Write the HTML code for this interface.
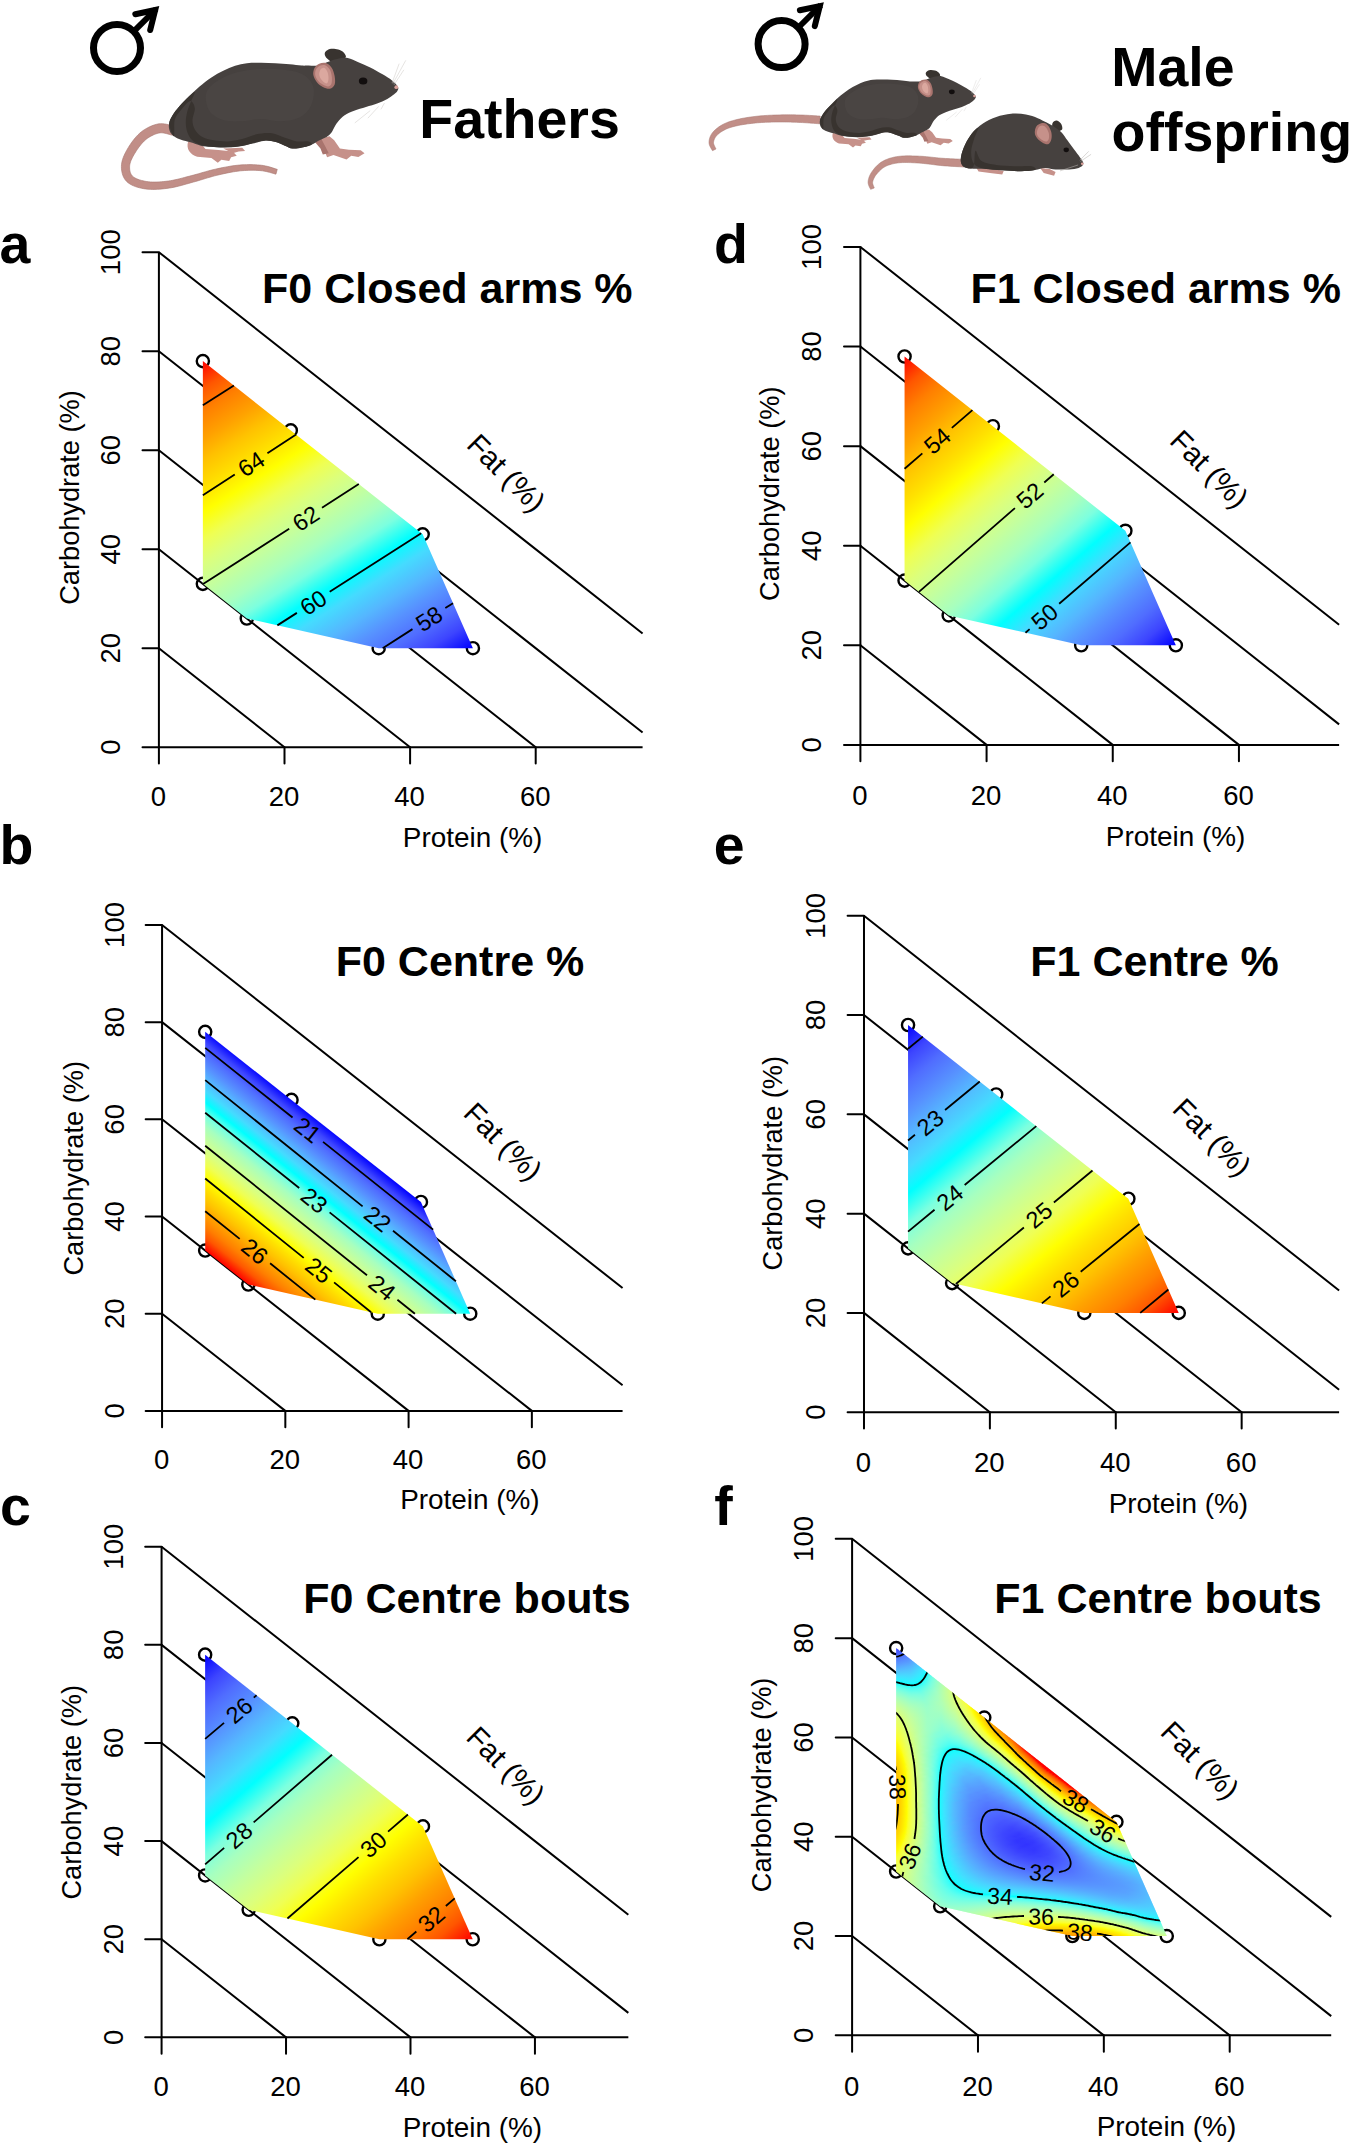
<!DOCTYPE html>
<html><head><meta charset="utf-8"><title>Figure</title>
<style>html,body{margin:0;padding:0;background:#fff;overflow:hidden}svg{display:block}</style></head><body>
<svg width="1350" height="2145" viewBox="0 0 1350 2145">
<rect width="1350" height="2145" fill="#fff"/>
<!-- header -->
<g transform="translate(117 48)" fill="none" stroke="#000"><circle r="23.5" stroke-width="7"/><path stroke-width="6" d="M17.8-17.6L39.2-39"/><path stroke-width="6" stroke-linecap="round" stroke-linejoin="miter" d="M18.3-33.8L38.2-38L33.2-18"/></g>
<g transform="translate(781.6 44.1)" fill="none" stroke="#000"><circle r="23.5" stroke-width="7"/><path stroke-width="6" d="M17.8-17.6L39.2-39"/><path stroke-width="6" stroke-linecap="round" stroke-linejoin="miter" d="M18.3-33.8L38.2-38L33.2-18"/></g>
<g transform="translate(100 30) scale(0.23704)">
<path fill="#c18e87" stroke="#a97872" stroke-width="2.7" stroke-linejoin="round" d="M314.2 405.9L311.1 405.3L307.1 404.3L301.8 402.8L295.6 401.1L288.6 399.3L281 397.7L273 396.3L264.6 395.4L255.9 395.2L247.3 396L239.4 397.6L231.7 399.7L224.1 402.2L216.5 405.1L208.9 408.5L201.5 412.2L194.2 416.3L187 420.6L180.1 425.3L173.5 430.4L167 435.8L160.7 441.8L154.7 448L148.9 454.6L143.4 461.3L138.1 468.1L133 475.1L128.3 482L123.8 488.8L119.7 495.5L115.7 502.2L111.8 509L108.1 516L104.5 523.2L101.1 530.4L98.1 537.9L95.5 545.4L93.3 553L91.7 560.8L90.7 568.4L90.4 575.9L90.5 583.2L91.2 590.7L92.3 598.2L94 605.7L96.3 613L99.4 620.3L103.2 627.2L107.9 633.8L113.4 639.9L119.6 645.2L126.5 649.8L133.8 653.9L141.5 657.4L149.5 660.6L157.9 663.3L166.4 665.6L175.1 667.6L183.9 669.3L192.8 670.7L202 671.7L211.5 672.3L221.2 672.6L231.2 672.5L241.3 672.1L251.4 671.5L261.7 670.6L271.9 669.5L282 668.3L292.1 666.9L302.3 665.2L312.6 663.2L322.9 660.9L333.1 658.4L343.3 655.7L353.5 652.9L363.6 650.1L373.7 647.2L383.7 644.4L393.7 641.7L403.7 638.9L413.9 636L423.9 632.9L433.9 629.9L443.9 626.8L453.8 623.8L463.7 620.9L473.5 618L483.3 615.4L493 613L502.9 610.6L513 608.3L523 606.1L533 603.9L543 601.9L552.9 600L562.7 598.3L572.4 596.8L581.9 595.4L591.2 594.3L600.4 593.5L609.7 592.8L618.9 592.3L628.1 592L637.2 591.8L646 591.8L654.7 592L663.1 592.3L671.1 592.8L678.7 593.4L686.1 594.3L693.4 595.5L700.8 597L708.1 598.7L715.1 600.6L721.8 602.4L727.9 604.2L733.4 605.8L738.3 607.2L742.2 608.1L747.8 587.9L744.2 586.8L739.7 585.3L734.2 583.6L728 581.6L721.1 579.4L713.7 577.3L705.9 575.2L697.8 573.4L689.6 571.8L681.3 570.6L673 569.8L664.5 569.1L655.6 568.5L646.5 568.1L637.2 567.9L627.7 567.9L618.1 568.1L608.4 568.4L598.6 568.9L588.8 569.7L578.9 570.6L568.9 571.8L558.8 573.2L548.5 574.8L538.3 576.6L527.9 578.5L517.6 580.5L507.4 582.6L497.1 584.8L487 587L476.7 589.4L466.5 592L456.3 594.7L446.2 597.6L436.1 600.4L426.1 603.3L416.1 606.2L406.1 609L396.3 611.7L386.3 614.3L376.3 616.9L366.1 619.5L356 622.2L346 624.9L336 627.4L326.1 629.8L316.4 632L306.7 634L297.3 635.7L287.9 637.1L278.3 638.3L268.7 639.3L259 640.2L249.4 640.8L240 641.3L230.7 641.4L221.8 641.4L213.2 641L205 640.3L197.2 639.3L189.6 638L182 636.4L174.6 634.5L167.4 632.4L160.7 630.1L154.5 627.5L148.8 624.8L143.9 621.9L139.8 619L136.6 616.1L134.1 613.2L131.8 609.8L129.9 605.9L128.2 601.7L126.9 597.1L125.9 592.2L125.2 587.1L124.9 581.8L124.9 576.6L125.3 571.6L126 566.8L127.1 561.7L128.8 556.3L130.9 550.7L133.5 544.8L136.4 538.8L139.6 532.7L143 526.6L146.6 520.5L150.3 514.5L154.2 508.5L158.3 502.4L162.6 496.3L167.2 490.3L171.9 484.3L176.7 478.6L181.6 473.2L186.6 468.2L191.6 463.7L196.5 459.6L201.7 455.9L207.2 452.2L212.9 448.8L218.8 445.6L224.8 442.8L230.8 440.2L236.7 438L242.4 436.2L247.9 434.9L252.7 434L257.1 433.6L262 433.8L267.5 434.5L273.5 435.5L279.5 436.9L285.5 438.5L291.3 440.2L296.7 441.7L301.8 443.1L305.8 444.1Z"/>
<path fill="#c6918a" d="M372 470C362 500 380 525 410 535L470 540L497 560L512 547L545 553L553 537L577 531L560 513L500 506L445 502L425 478Z"/>
<path fill="#c6918a" d="M520 500L600 497L612 510L585 513L560 520Z"/>
<path fill="#c6918a" d="M915 462L945 505L958 537L985 527L1040 546L1060 531L1090 536L1116 520L1100 507L1050 505L1012 500L988 465L968 448Z"/>
<path fill="#a9746e" d="M905 470L930 500L940 525L965 520L950 490L935 462Z"/>
<path fill="#38332f" d="M1035 118C1042.2 111.3 1033 101 1028 95C1023 89 1013.8 84.7 1005 82C996.2 79.3 983.3 78 975 79C966.7 80 959.5 84.2 955 88C950.5 91.8 947.5 96.7 948 102C948.5 107.3 951.8 114.5 958 120C964.2 125.5 972.2 135.3 985 135C997.8 134.7 1027.8 124.7 1035 118Z"/>
<path fill="#46413f" d="M1257 240C1253.2 232.8 1243.2 222 1232 213C1220.8 204 1205.3 195.2 1190 186C1174.7 176.8 1156.7 166.3 1140 158C1123.3 149.7 1105.8 142.7 1090 136C1074.2 129.3 1060 120.3 1045 118C1030 115.7 1014.2 119.2 1000 122C985.8 124.8 973.3 130.3 960 135C946.7 139.7 933.3 147.5 920 150C906.7 152.5 891.7 150 880 150C868.3 150 863.3 150.8 850 150C836.7 149.2 818.3 146.7 800 145C781.7 143.3 760 141.2 740 140C720 138.8 700 138 680 138C660 138 638.3 137.8 620 140C601.7 142.2 586.7 145.7 570 151C553.3 156.3 536.7 163.8 520 172C503.3 180.2 486.7 189 470 200C453.3 211 435.8 224.7 420 238C404.2 251.3 389.2 266 375 280C360.8 294 346.7 308.3 335 322C323.3 335.7 312.3 349.3 305 362C297.7 374.7 292.7 387 291 398C289.3 409 291.5 419.7 295 428C298.5 436.3 304.2 442.2 312 448C319.8 453.8 330.3 458.7 342 463C353.7 467.3 368.2 469.8 382 474C395.8 478.2 410.3 484.8 425 488C439.7 491.2 453.3 491.7 470 493C486.7 494.3 505.8 496.2 525 496C544.2 495.8 565 494.8 585 492C605 489.2 625.8 483.3 645 479C664.2 474.7 683.8 467 700 466C716.2 465 728.7 469.3 742 473C755.3 476.7 768.3 483.5 780 488C791.7 492.5 800 498.7 812 500C824 501.3 838.7 498.7 852 496C865.3 493.3 879.7 489.2 892 484C904.3 478.8 915.3 470.5 926 465C936.7 459.5 948 455.8 956 451C964 446.2 968.8 442.3 974 436C979.2 429.7 982.2 421 987 413C991.8 405 995.5 396.8 1003 388C1010.5 379.2 1020.5 367.8 1032 360C1043.5 352.2 1057 346.8 1072 341C1087 335.2 1105.3 330.3 1122 325C1138.7 319.7 1157 314.7 1172 309C1187 303.3 1200.5 297.3 1212 291C1223.5 284.7 1233.8 276.8 1241 271C1248.2 265.2 1252.3 261.2 1255 256C1257.7 250.8 1260.8 247.2 1257 240Z"/>
<path fill="#38332f" d="M292 398C290.8 383.7 297.8 374.7 305 362C312.2 349.3 323.3 335.3 335 322C346.7 308.7 364.2 292 375 282C385.8 272 398.3 259 400 262C401.7 265 390.3 286.2 385 300C379.7 313.8 371.8 329.2 368 345C364.2 360.8 361.3 379.2 362 395C362.7 410.8 366.5 427.5 372 440C377.5 452.5 383.7 462 395 470C406.3 478 419.2 483.8 440 488C460.8 492.2 493.3 495 520 495C546.7 495 576.7 491.7 600 488C623.3 484.3 643.3 476.7 660 473C676.7 469.3 686.3 466 700 466C713.7 466 728.7 469.3 742 473C755.3 476.7 768.3 483.5 780 488C791.7 492.5 800 498.7 812 500C824 501.3 838.7 498.7 852 496C865.3 493.3 887.3 488.3 892 484C896.7 479.7 890.3 472.3 880 470C869.7 467.7 846.7 472.5 830 470C813.3 467.5 798.3 460.8 780 455C761.7 449.2 740 437.5 720 435C700 432.5 680 435.8 660 440C640 444.2 620 455 600 460C580 465 560 469.2 540 470C520 470.8 498.3 468.3 480 465C461.7 461.7 443.3 457.5 430 450C416.7 442.5 406.7 431.7 400 420C393.3 408.3 390 395 390 380C390 365 401.7 343.3 400 330C398.3 316.7 390 298.3 380 300C370 301.7 350.8 326.7 340 340C329.2 353.3 319.7 362 315 380C310.3 398 315.8 445 312 448C308.2 451 293.2 412.3 292 398Z"/>
<path fill="#4d4846" opacity=".6" d="M450 260C460 236.7 491.7 215 520 200C548.3 185 583.3 175.8 620 170C656.7 164.2 701.7 162.5 740 165C778.3 167.5 823.3 172.5 850 185C876.7 197.5 893.3 217.5 900 240C906.7 262.5 900 298.3 890 320C880 341.7 861.7 359.2 840 370C818.3 380.8 786.7 384.2 760 385C733.3 385.8 706.7 375 680 375C653.3 375 626.7 384.2 600 385C573.3 385.8 543.3 387.5 520 380C496.7 372.5 471.7 360 460 340C448.3 320 440 283.3 450 260Z"/>
<path fill="#a9746e" d="M900 190C898.3 180 900.8 168 905 160C909.2 152 916.7 145.3 925 142C933.3 138.7 946.2 137 955 140C963.8 143 972.2 150.8 978 160C983.8 169.2 988 183.3 990 195C992 206.7 993.3 221.2 990 230C986.7 238.8 978.3 246.3 970 248C961.7 249.7 949.2 244.7 940 240C930.8 235.3 921.7 228.3 915 220C908.3 211.7 901.7 200 900 190Z"/>
<path fill="#c6918a" d="M908 190C906.7 181.8 908.3 171.7 912 165C915.7 158.3 923.3 152.5 930 150C936.7 147.5 945.3 147 952 150C958.7 153 965.7 160 970 168C974.3 176 977 188 978 198C979 208 978.7 221.3 976 228C973.3 234.7 968 237.7 962 238C956 238.3 947 234 940 230C933 226 925.3 220.7 920 214C914.7 207.3 909.3 198.2 908 190Z"/>
<path fill="#dba89f" d="M925 185C925.3 178.5 928.2 169.2 932 165C935.8 160.8 943.3 157.8 948 160C952.7 162.2 957.3 170.5 960 178C962.7 185.5 964.3 197.2 964 205C963.7 212.8 961.7 222.8 958 225C954.3 227.2 946.7 221.5 942 218C937.3 214.5 932.8 209.5 930 204C927.2 198.5 924.7 191.5 925 185Z"/>
<ellipse cx="1110" cy="215" rx="18" ry="15" fill="#120e0e"/>
<circle cx="1250" cy="241" r="8" fill="#d9a19b"/>
<path fill="none" stroke="#c9c5c2" stroke-width="2" d="M1236 226L1290 128M1240 232L1282 168M1232 224L1262 142M1176 322L1130 372M1140 340L1075 392M1200 308L1185 335"/>
</g>
<g transform="translate(772.9 57.2) scale(0.16120)">
<path fill="#c18e87" stroke="#a97872" stroke-width="3.4" stroke-linejoin="round" d="M293.8 365.2L286.7 364.8L277.7 364.2L267.1 363.5L255.1 362.7L242.1 361.9L228.4 361.1L214.4 360.3L200.4 359.6L186.7 359L173.6 358.6L161 358.2L148.2 358L135.4 357.7L122.4 357.5L109.3 357.4L96.2 357.4L83 357.4L69.9 357.5L56.8 357.6L43.8 357.9L30.8 358.2L17.7 358.6L4.6 359.1L-8.6 359.6L-21.7 360.2L-34.8 360.9L-47.9 361.7L-60.8 362.6L-73.7 363.7L-86.4 364.9L-99 366.2L-111.7 367.6L-124.3 369.2L-136.9 370.8L-149.3 372.6L-161.6 374.5L-173.7 376.5L-185.5 378.6L-196.9 380.9L-208 383.3L-218.6 385.7L-228.9 388.2L-239.1 390.8L-248.9 393.5L-258.6 396.3L-268 399.4L-277.2 402.6L-286.2 406L-294.9 409.8L-303.4 413.7L-311.7 418L-319.7 422.5L-327.5 427.3L-335 432.2L-342.2 437.4L-349 442.7L-355.5 448.2L-361.5 453.7L-367.1 459.4L-372.2 465.2L-376.9 471.2L-381 477.4L-384.6 483.8L-387.7 490.2L-390.3 496.7L-392.4 503.2L-394.1 509.6L-395.3 515.9L-396 522.2L-396.3 528.7L-395.7 535.7L-394.1 542.7L-391.8 549.2L-389.1 555.3L-386.2 560.9L-383.2 566.1L-380.4 570.7L-378 574.7L-376.1 577.6L-374.9 579.9L-353.2 569.6L-354.4 566.5L-356.3 562.6L-358.5 558.4L-360.7 554L-363 549.3L-365 544.6L-366.7 540L-367.9 535.7L-368.5 532.1L-368.5 528.9L-368 525.3L-367.2 521.1L-366 516.7L-364.6 512.2L-362.7 507.6L-360.6 503.1L-358 498.6L-355.2 494.2L-352 489.9L-348.4 485.8L-344.3 481.7L-339.7 477.4L-334.5 473L-328.9 468.7L-322.9 464.4L-316.5 460.3L-309.8 456.2L-302.9 452.4L-295.8 448.8L-288.6 445.4L-281.1 442.3L-273.4 439.3L-265.4 436.6L-257.1 434L-248.4 431.5L-239.4 429.2L-230.1 427L-220.4 424.8L-210.5 422.7L-200.2 420.7L-189.7 418.8L-178.8 416.9L-167.5 415.2L-155.8 413.6L-144 412.1L-131.9 410.6L-119.7 409.3L-107.4 408.1L-95.1 407L-82.8 406L-70.5 405.1L-58.1 404.4L-45.5 403.8L-32.8 403.3L-20 402.9L-7.2 402.6L5.7 402.3L18.6 402.1L31.5 402L44.3 401.9L57.1 401.9L69.9 402L82.8 402.2L95.7 402.4L108.6 402.7L121.4 403L134.2 403.4L146.9 403.9L159.4 404.4L171.8 404.9L184.5 405.6L197.8 406.4L211.6 407.3L225.4 408.2L238.9 409.2L251.8 410.1L263.7 411.1L274.4 411.9L283.5 412.6L290.6 413.1Z"/>
<path fill="#c6918a" d="M372 470C362 500 380 525 410 535L470 540L497 560L512 547L545 553L553 537L577 531L560 513L500 506L445 502L425 478Z"/>
<path fill="#c6918a" d="M520 500L600 497L612 510L585 513L560 520Z"/>
<path fill="#c6918a" d="M915 462L945 505L958 537L985 527L1040 546L1060 531L1090 536L1116 520L1100 507L1050 505L1012 500L988 465L968 448Z"/>
<path fill="#a9746e" d="M905 470L930 500L940 525L965 520L950 490L935 462Z"/>
<path fill="#38332f" d="M1035 118C1042.2 111.3 1033 101 1028 95C1023 89 1013.8 84.7 1005 82C996.2 79.3 983.3 78 975 79C966.7 80 959.5 84.2 955 88C950.5 91.8 947.5 96.7 948 102C948.5 107.3 951.8 114.5 958 120C964.2 125.5 972.2 135.3 985 135C997.8 134.7 1027.8 124.7 1035 118Z"/>
<path fill="#46413f" d="M1257 240C1253.2 232.8 1243.2 222 1232 213C1220.8 204 1205.3 195.2 1190 186C1174.7 176.8 1156.7 166.3 1140 158C1123.3 149.7 1105.8 142.7 1090 136C1074.2 129.3 1060 120.3 1045 118C1030 115.7 1014.2 119.2 1000 122C985.8 124.8 973.3 130.3 960 135C946.7 139.7 933.3 147.5 920 150C906.7 152.5 891.7 150 880 150C868.3 150 863.3 150.8 850 150C836.7 149.2 818.3 146.7 800 145C781.7 143.3 760 141.2 740 140C720 138.8 700 138 680 138C660 138 638.3 137.8 620 140C601.7 142.2 586.7 145.7 570 151C553.3 156.3 536.7 163.8 520 172C503.3 180.2 486.7 189 470 200C453.3 211 435.8 224.7 420 238C404.2 251.3 389.2 266 375 280C360.8 294 346.7 308.3 335 322C323.3 335.7 312.3 349.3 305 362C297.7 374.7 292.7 387 291 398C289.3 409 291.5 419.7 295 428C298.5 436.3 304.2 442.2 312 448C319.8 453.8 330.3 458.7 342 463C353.7 467.3 368.2 469.8 382 474C395.8 478.2 410.3 484.8 425 488C439.7 491.2 453.3 491.7 470 493C486.7 494.3 505.8 496.2 525 496C544.2 495.8 565 494.8 585 492C605 489.2 625.8 483.3 645 479C664.2 474.7 683.8 467 700 466C716.2 465 728.7 469.3 742 473C755.3 476.7 768.3 483.5 780 488C791.7 492.5 800 498.7 812 500C824 501.3 838.7 498.7 852 496C865.3 493.3 879.7 489.2 892 484C904.3 478.8 915.3 470.5 926 465C936.7 459.5 948 455.8 956 451C964 446.2 968.8 442.3 974 436C979.2 429.7 982.2 421 987 413C991.8 405 995.5 396.8 1003 388C1010.5 379.2 1020.5 367.8 1032 360C1043.5 352.2 1057 346.8 1072 341C1087 335.2 1105.3 330.3 1122 325C1138.7 319.7 1157 314.7 1172 309C1187 303.3 1200.5 297.3 1212 291C1223.5 284.7 1233.8 276.8 1241 271C1248.2 265.2 1252.3 261.2 1255 256C1257.7 250.8 1260.8 247.2 1257 240Z"/>
<path fill="#38332f" d="M292 398C290.8 383.7 297.8 374.7 305 362C312.2 349.3 323.3 335.3 335 322C346.7 308.7 364.2 292 375 282C385.8 272 398.3 259 400 262C401.7 265 390.3 286.2 385 300C379.7 313.8 371.8 329.2 368 345C364.2 360.8 361.3 379.2 362 395C362.7 410.8 366.5 427.5 372 440C377.5 452.5 383.7 462 395 470C406.3 478 419.2 483.8 440 488C460.8 492.2 493.3 495 520 495C546.7 495 576.7 491.7 600 488C623.3 484.3 643.3 476.7 660 473C676.7 469.3 686.3 466 700 466C713.7 466 728.7 469.3 742 473C755.3 476.7 768.3 483.5 780 488C791.7 492.5 800 498.7 812 500C824 501.3 838.7 498.7 852 496C865.3 493.3 887.3 488.3 892 484C896.7 479.7 890.3 472.3 880 470C869.7 467.7 846.7 472.5 830 470C813.3 467.5 798.3 460.8 780 455C761.7 449.2 740 437.5 720 435C700 432.5 680 435.8 660 440C640 444.2 620 455 600 460C580 465 560 469.2 540 470C520 470.8 498.3 468.3 480 465C461.7 461.7 443.3 457.5 430 450C416.7 442.5 406.7 431.7 400 420C393.3 408.3 390 395 390 380C390 365 401.7 343.3 400 330C398.3 316.7 390 298.3 380 300C370 301.7 350.8 326.7 340 340C329.2 353.3 319.7 362 315 380C310.3 398 315.8 445 312 448C308.2 451 293.2 412.3 292 398Z"/>
<path fill="#4d4846" opacity=".6" d="M450 260C460 236.7 491.7 215 520 200C548.3 185 583.3 175.8 620 170C656.7 164.2 701.7 162.5 740 165C778.3 167.5 823.3 172.5 850 185C876.7 197.5 893.3 217.5 900 240C906.7 262.5 900 298.3 890 320C880 341.7 861.7 359.2 840 370C818.3 380.8 786.7 384.2 760 385C733.3 385.8 706.7 375 680 375C653.3 375 626.7 384.2 600 385C573.3 385.8 543.3 387.5 520 380C496.7 372.5 471.7 360 460 340C448.3 320 440 283.3 450 260Z"/>
<path fill="#a9746e" d="M900 190C898.3 180 900.8 168 905 160C909.2 152 916.7 145.3 925 142C933.3 138.7 946.2 137 955 140C963.8 143 972.2 150.8 978 160C983.8 169.2 988 183.3 990 195C992 206.7 993.3 221.2 990 230C986.7 238.8 978.3 246.3 970 248C961.7 249.7 949.2 244.7 940 240C930.8 235.3 921.7 228.3 915 220C908.3 211.7 901.7 200 900 190Z"/>
<path fill="#c6918a" d="M908 190C906.7 181.8 908.3 171.7 912 165C915.7 158.3 923.3 152.5 930 150C936.7 147.5 945.3 147 952 150C958.7 153 965.7 160 970 168C974.3 176 977 188 978 198C979 208 978.7 221.3 976 228C973.3 234.7 968 237.7 962 238C956 238.3 947 234 940 230C933 226 925.3 220.7 920 214C914.7 207.3 909.3 198.2 908 190Z"/>
<path fill="#dba89f" d="M925 185C925.3 178.5 928.2 169.2 932 165C935.8 160.8 943.3 157.8 948 160C952.7 162.2 957.3 170.5 960 178C962.7 185.5 964.3 197.2 964 205C963.7 212.8 961.7 222.8 958 225C954.3 227.2 946.7 221.5 942 218C937.3 214.5 932.8 209.5 930 204C927.2 198.5 924.7 191.5 925 185Z"/>
<ellipse cx="1110" cy="215" rx="18" ry="15" fill="#120e0e"/>
<circle cx="1250" cy="241" r="8" fill="#d9a19b"/>
<path fill="none" stroke="#c9c5c2" stroke-width="2" d="M1236 226L1290 128M1240 232L1282 168M1232 224L1262 142M1176 322L1130 372M1140 340L1075 392M1200 308L1185 335"/>
</g>
<g transform="translate(700 50) scale(0.29630)">
<path fill="#c18e87" stroke="#a97872" stroke-width="1.8" stroke-linejoin="round" d="M892.7 369L888.4 368.8L882.9 368.6L876.6 368.3L869.4 368.1L861.6 367.7L853.5 367.4L845.2 367L836.9 366.5L828.7 366.1L821 365.6L813.4 365L805.6 364.3L797.6 363.4L789.5 362.6L781.3 361.7L773 360.8L764.7 360L756.6 359.3L748.5 358.7L740.7 358.3L733.1 358L725.6 357.7L718.1 357.5L710.6 357.3L703.3 357.3L696 357.3L688.9 357.5L682 357.9L675.2 358.5L668.7 359.2L662.5 360.2L656.5 361.3L650.7 362.6L645.1 364.1L639.6 365.7L634.4 367.5L629.3 369.5L624.5 371.6L619.8 373.9L615.2 376.4L610.7 379.2L606.4 382.3L602.4 385.5L598.6 388.9L595.1 392.4L591.8 396L588.8 399.5L585.9 403L583.3 406.4L580.9 409.8L578.6 413.2L576.5 416.6L574.6 420.2L572.9 423.7L571.5 427.2L570.2 430.7L569.2 434.2L568.3 437.5L567.7 440.9L567.4 444.3L567.4 448L567.9 451.7L568.8 455.1L569.9 458.2L571.1 461.1L572.4 463.7L573.6 465.9L574.6 467.8L575.4 469.2L575.9 470.3L588.1 465.7L587.6 464.1L586.8 462.1L586 460.1L585.1 457.9L584.3 455.7L583.5 453.4L582.9 451.2L582.6 449.2L582.5 447.4L582.6 445.7L583.1 443.7L583.7 441.3L584.5 438.9L585.5 436.3L586.7 433.7L588 431L589.5 428.3L591.2 425.6L593 422.9L595.1 420.2L597.4 417.4L599.9 414.5L602.5 411.5L605.3 408.6L608.3 405.7L611.3 402.9L614.5 400.3L617.9 397.8L621.3 395.6L624.8 393.6L628.6 391.8L632.6 390L636.7 388.4L641.1 386.9L645.6 385.5L650.3 384.3L655.3 383.2L660.4 382.3L665.8 381.4L671.3 380.8L677.1 380.2L683.2 379.9L689.5 379.8L696.1 379.7L703 379.9L710 380.1L717.2 380.4L724.5 380.8L731.9 381.2L739.3 381.7L746.8 382.3L754.4 383L762.3 383.8L770.3 384.8L778.5 385.8L786.7 386.8L794.9 387.8L803.1 388.8L811.1 389.7L819 390.4L827 391.1L835.3 391.7L843.7 392.3L852.2 392.8L860.4 393.3L868.1 393.7L875.3 394.1L881.7 394.4L887.1 394.7L891.3 395Z"/>
<path fill="#c6918a" d="M930 393L940 410L985 416L1020 420L1025 408L990 402L960 392Z"/>
<path fill="#c6918a" d="M1148 398L1160 415L1195 424L1200 412L1180 402Z"/>
<path fill="#38332f" d="M1222 268C1225 263.5 1221.2 253 1218 248C1214.8 243 1207.7 238.3 1203 238C1198.3 237.7 1192.2 242 1190 246C1187.8 250 1188.3 257.2 1190 262C1191.7 266.8 1194.7 274 1200 275C1205.3 276 1219 272.5 1222 268Z"/>
<path fill="#46413f" d="M1294 384C1294.7 378 1287.3 370.2 1282 362C1276.7 353.8 1269 344.5 1262 335C1255 325.5 1246.7 314.2 1240 305C1233.3 295.8 1228.7 287.2 1222 280C1215.3 272.8 1208.7 267.8 1200 262C1191.3 256.2 1180 250.3 1170 245C1160 239.7 1151.7 234.5 1140 230C1128.3 225.5 1115 220.5 1100 218C1085 215.5 1066.7 213.7 1050 215C1033.3 216.3 1015.8 220.5 1000 226C984.2 231.5 969.2 238.2 955 248C940.8 257.8 925.8 271.3 915 285C904.2 298.7 895.8 315.8 890 330C884.2 344.2 880.3 359.7 880 370C879.7 380.3 882.2 387 888 392C893.8 397 903 398.5 915 400C927 401.5 942.5 400 960 401C977.5 402 1000 404.7 1020 406C1040 407.3 1061.7 409.2 1080 409C1098.3 408.8 1115.8 406.8 1130 405C1144.2 403.2 1153.3 398.3 1165 398C1176.7 397.7 1186.7 402.2 1200 403C1213.3 403.8 1232 403.8 1245 403C1258 402.2 1269.8 401.2 1278 398C1286.2 394.8 1293.3 390 1294 384Z"/>
<path fill="#38332f" d="M880 370C880.3 359.7 884.2 344.2 890 330C895.8 315.8 906.7 296.3 915 285C923.3 273.7 938.3 259.5 940 262C941.7 264.5 929.2 286.2 925 300C920.8 313.8 915 330.8 915 345C915 359.2 917.5 375.7 925 385C932.5 394.3 944.2 397.5 960 401C975.8 404.5 1000 404.7 1020 406C1040 407.3 1061.7 409.2 1080 409C1098.3 408.8 1123.3 407.8 1130 405C1136.7 402.2 1131.7 394.2 1120 392C1108.3 389.8 1080 392.7 1060 392C1040 391.3 1018.3 390.8 1000 388C981.7 385.2 961.7 383 950 375C938.3 367 934.2 338.3 930 340C925.8 341.7 927.5 375 925 385C922.5 395 921.2 398.8 915 400C908.8 401.2 893.8 397 888 392C882.2 387 879.7 380.3 880 370Z"/>
<path fill="#a9746e" d="M1130 280C1129.5 273.3 1131.3 263.5 1135 258C1138.7 252.5 1145.8 248 1152 247C1158.2 246 1166.5 247.3 1172 252C1177.5 256.7 1182.7 267 1185 275C1187.3 283 1187.7 292.8 1186 300C1184.3 307.2 1180.2 316 1175 318C1169.8 320 1161.2 315.3 1155 312C1148.8 308.7 1142.2 303.3 1138 298C1133.8 292.7 1130.5 286.7 1130 280Z"/>
<path fill="#c6918a" d="M1137 280C1137 274.8 1139 266.2 1142 262C1145 257.8 1150.7 255 1155 255C1159.3 255 1164.3 257.8 1168 262C1171.7 266.2 1175.5 273.7 1177 280C1178.5 286.3 1178.5 295.2 1177 300C1175.5 304.8 1172 308.5 1168 309C1164 309.5 1157.3 305.7 1153 303C1148.7 300.3 1144.7 296.8 1142 293C1139.3 289.2 1137 285.2 1137 280Z"/>
<ellipse cx="1236" cy="337" rx="9" ry="8" fill="#120e0e"/>
<circle cx="1290" cy="384" r="4.5" fill="#d9a19b"/>
<path fill="none" stroke="#b9b5b2" stroke-width="1.8" d="M1282 372L1312 342M1284 376L1320 352M1276 388L1215 408"/>
</g>
<g font-family="Liberation Sans, sans-serif" font-weight="bold" font-size="55.5" fill="#000"><text x="419.3" y="138.3">Fathers</text><text x="1111.2" y="86.1">Male</text><text x="1111.6" y="151.3">offspring</text></g>
<!-- panel a -->
<g stroke="#000" stroke-width="2" fill="none"><path d="M158.9 747.2V252.2M158.9 747.2H642.59"/><path stroke-linecap="round" d="M142.5 747.2H158.9M142.5 648.2H158.9M142.5 549.2H158.9M142.5 450.2H158.9M142.5 351.2H158.9M142.5 252.2H158.9M158.9 747.2V763.6M284.5 747.2V763.6M410.1 747.2V763.6M535.7 747.2V763.6"/><path d="M158.9 648.2L284.5 747.2M158.9 549.2L410.1 747.2M158.9 450.2L535.7 747.2M158.9 351.2L642.59 732.45M158.9 252.2L642.59 633.45"/><circle cx="202.86" cy="361.1" r="6.1" stroke-width="2.4"/><circle cx="290.78" cy="430.4" r="6.1" stroke-width="2.4"/><circle cx="422.66" cy="534.35" r="6.1" stroke-width="2.4"/><circle cx="472.9" cy="648.2" r="6.1" stroke-width="2.4"/><circle cx="378.7" cy="648.2" r="6.1" stroke-width="2.4"/><circle cx="246.82" cy="618.5" r="6.1" stroke-width="2.4"/><circle cx="202.86" cy="583.85" r="6.1" stroke-width="2.4"/></g>
<linearGradient id="ga" gradientUnits="userSpaceOnUse" x1="309.27" y1="751.61" x2="102.54" y2="424.5"><stop offset="0" stop-color="#0000ff"/><stop offset="0.06" stop-color="#3d45ff"/><stop offset="0.11" stop-color="#506dff"/><stop offset="0.17" stop-color="#5792ff"/><stop offset="0.22" stop-color="#55b6ff"/><stop offset="0.28" stop-color="#45dbff"/><stop offset="0.33" stop-color="#00ffff"/><stop offset="0.39" stop-color="#7cffdf"/><stop offset="0.44" stop-color="#a7ffbf"/><stop offset="0.5" stop-color="#c4ff9e"/><stop offset="0.56" stop-color="#dcff7c"/><stop offset="0.61" stop-color="#efff53"/><stop offset="0.67" stop-color="#ffff00"/><stop offset="0.72" stop-color="#ffe100"/><stop offset="0.78" stop-color="#ffc200"/><stop offset="0.83" stop-color="#ffa100"/><stop offset="0.89" stop-color="#ff7f00"/><stop offset="0.94" stop-color="#ff5600"/><stop offset="1" stop-color="#ff0000"/></linearGradient>
<polygon points="202.86,361.1 290.78,430.4 422.66,534.35 472.9,648.2 378.7,648.2 246.82,618.5 202.86,583.85" fill="url(#ga)"/>
<g stroke="#000" stroke-width="1.8" fill="none">
<path d="M382.68 648.2L412.48 629.12M445.32 608.1L453.03 603.17"/>
<path d="M277.37 625.38L296.88 612.88M329.72 591.84L421.23 533.22"/>
<path d="M203.11 584.05L289.19 528.74M322.01 507.66L358.8 484.01"/>
<path d="M202.86 495.3L234.76 474.53M267.44 453.25L296.1 434.59"/>
<path d="M202.86 405.18L233.88 385.55"/>
</g>
<g font-family="Liberation Sans, sans-serif" font-size="23.5" text-anchor="middle" fill="#000"><text transform="translate(428.9 618.61) rotate(-32.62)" y="8.46">58</text><text transform="translate(313.3 602.36) rotate(-32.65)" y="8.46">60</text><text transform="translate(305.6 518.2) rotate(-32.72)" y="8.46">62</text><text transform="translate(251.1 463.89) rotate(-33.07)" y="8.46">64</text></g>
<g font-family="Liberation Sans, sans-serif" fill="#000" font-size="27.5" text-anchor="middle">
<text transform="translate(119.9 747.2) rotate(-90)">0</text>
<text transform="translate(119.9 648.2) rotate(-90)">20</text>
<text transform="translate(119.9 549.2) rotate(-90)">40</text>
<text transform="translate(119.9 450.2) rotate(-90)">60</text>
<text transform="translate(119.9 351.2) rotate(-90)">80</text>
<text transform="translate(119.9 252.2) rotate(-90)">100</text>
<text x="158.4" y="805.5">0</text>
<text x="284" y="805.5">20</text>
<text x="409.6" y="805.5">40</text>
<text x="535.2" y="805.5">60</text>
</g>
<g font-family="Liberation Sans, sans-serif" fill="#000" font-size="27.6" text-anchor="middle">
<text x="472.6" y="846.6" font-size="27.9">Protein (%)</text>
<text transform="translate(79.1 497.5) rotate(-90)" font-size="27.2">Carbohydrate (%)</text>
</g>
<text font-family="Liberation Sans, sans-serif" fill="#000" font-size="29.3" text-anchor="middle" transform="translate(504.3 474.95) rotate(45)" y="7.3">Fat (%)</text>
<text font-family="Liberation Sans, sans-serif" font-weight="bold" font-size="55.5" x="-0.5" y="263">a</text>
<text font-family="Liberation Sans, sans-serif" font-weight="bold" font-size="43" x="447.3" y="303.3" text-anchor="middle">F0 Closed arms %</text>
<!-- panel b -->
<g stroke="#000" stroke-width="2" fill="none"><path d="M162.06 1410.9V924.95M162.06 1410.9H622.58"/><path stroke-linecap="round" d="M145.66 1410.9H162.06M145.66 1313.71H162.06M145.66 1216.52H162.06M145.66 1119.33H162.06M145.66 1022.14H162.06M145.66 924.95H162.06M162.06 1410.9V1427.3M285.33 1410.9V1427.3M408.59 1410.9V1427.3M531.86 1410.9V1427.3"/><path d="M162.06 1313.71L285.33 1410.9M162.06 1216.52L408.59 1410.9M162.06 1119.33L531.86 1410.9M162.06 1022.14L622.58 1385.24M162.06 924.95L622.58 1288.05"/><circle cx="205.2" cy="1031.86" r="6.1" stroke-width="2.4"/><circle cx="291.49" cy="1099.89" r="6.1" stroke-width="2.4"/><circle cx="420.92" cy="1201.94" r="6.1" stroke-width="2.4"/><circle cx="470.22" cy="1313.71" r="6.1" stroke-width="2.4"/><circle cx="377.78" cy="1313.71" r="6.1" stroke-width="2.4"/><circle cx="248.35" cy="1284.55" r="6.1" stroke-width="2.4"/><circle cx="205.2" cy="1250.54" r="6.1" stroke-width="2.4"/></g>
<linearGradient id="gb" gradientUnits="userSpaceOnUse" x1="214.24" y1="1036.39" x2="106.22" y2="1171.25"><stop offset="0" stop-color="#0000ff"/><stop offset="0.06" stop-color="#3d45ff"/><stop offset="0.11" stop-color="#506dff"/><stop offset="0.17" stop-color="#5792ff"/><stop offset="0.22" stop-color="#55b6ff"/><stop offset="0.28" stop-color="#45dbff"/><stop offset="0.33" stop-color="#00ffff"/><stop offset="0.39" stop-color="#7cffdf"/><stop offset="0.44" stop-color="#a7ffbf"/><stop offset="0.5" stop-color="#c4ff9e"/><stop offset="0.56" stop-color="#dcff7c"/><stop offset="0.61" stop-color="#efff53"/><stop offset="0.67" stop-color="#ffff00"/><stop offset="0.72" stop-color="#ffe100"/><stop offset="0.78" stop-color="#ffc200"/><stop offset="0.83" stop-color="#ffa100"/><stop offset="0.89" stop-color="#ff7f00"/><stop offset="0.94" stop-color="#ff5600"/><stop offset="1" stop-color="#ff0000"/></linearGradient>
<polygon points="205.2,1031.86 291.49,1099.89 420.92,1201.94 470.22,1313.71 377.78,1313.71 248.35,1284.55 205.2,1250.54" fill="url(#gb)"/>
<g stroke="#000" stroke-width="1.8" fill="none">
<path d="M205.2 1047.88L292.55 1117.54M323.05 1141.86L433.14 1229.65"/>
<path d="M205.2 1080.08L362.59 1206.35M393.01 1230.75L455.88 1281.18"/>
<path d="M205.2 1112.78L299.18 1188.04M329.62 1212.42L456.11 1313.71"/>
<path d="M205.2 1145.68L366.98 1275.31M397.42 1299.69L414.91 1313.71"/>
<path d="M205.2 1178.48L303.72 1257.89M334.08 1282.36L371.11 1312.21"/>
<path d="M205.2 1211.18L239.7 1238.89M270.1 1263.32L315.32 1299.64"/>
</g>
<g font-family="Liberation Sans, sans-serif" font-size="23.5" text-anchor="middle" fill="#000"><text transform="translate(307.8 1129.7) rotate(38.57)" y="8.46">21</text><text transform="translate(377.8 1218.55) rotate(38.74)" y="8.46">22</text><text transform="translate(314.4 1200.23) rotate(38.69)" y="8.46">23</text><text transform="translate(382.2 1287.5) rotate(38.7)" y="8.46">24</text><text transform="translate(318.9 1270.13) rotate(38.87)" y="8.46">25</text><text transform="translate(254.9 1251.1) rotate(38.77)" y="8.46">26</text></g>
<g font-family="Liberation Sans, sans-serif" fill="#000" font-size="27.5" text-anchor="middle">
<text transform="translate(123.86 1410.9) rotate(-90)">0</text>
<text transform="translate(123.86 1313.71) rotate(-90)">20</text>
<text transform="translate(123.86 1216.52) rotate(-90)">40</text>
<text transform="translate(123.86 1119.33) rotate(-90)">60</text>
<text transform="translate(123.86 1022.14) rotate(-90)">80</text>
<text transform="translate(123.86 924.95) rotate(-90)">100</text>
<text x="161.56" y="1468.7">0</text>
<text x="284.83" y="1468.7">20</text>
<text x="408.09" y="1468.7">40</text>
<text x="531.36" y="1468.7">60</text>
</g>
<g font-family="Liberation Sans, sans-serif" fill="#000" font-size="27.6" text-anchor="middle">
<text x="469.92" y="1509.1" font-size="27.9">Protein (%)</text>
<text transform="translate(83.06 1168.33) rotate(-90)" font-size="27.2">Carbohydrate (%)</text>
</g>
<text font-family="Liberation Sans, sans-serif" fill="#000" font-size="29.3" text-anchor="middle" transform="translate(501.04 1143.63) rotate(45)" y="7.3">Fat (%)</text>
<text font-family="Liberation Sans, sans-serif" font-weight="bold" font-size="55.5" x="-0.5" y="864">b</text>
<text font-family="Liberation Sans, sans-serif" font-weight="bold" font-size="43" x="460" y="975.8" text-anchor="middle">F0 Centre %</text>
<!-- panel c -->
<g stroke="#000" stroke-width="2" fill="none"><path d="M161.58 2037.36V1546.71M161.58 2037.36H628.34"/><path stroke-linecap="round" d="M145.18 2037.36H161.58M145.18 1939.23H161.58M145.18 1841.1H161.58M145.18 1742.97H161.58M145.18 1644.84H161.58M145.18 1546.71H161.58M161.58 2037.36V2053.76M286.03 2037.36V2053.76M410.49 2037.36V2053.76M534.94 2037.36V2053.76"/><path d="M161.58 1939.23L286.03 2037.36M161.58 1841.1L410.49 2037.36M161.58 1742.97L534.94 2037.36M161.58 1644.84L628.34 2012.88M161.58 1546.71L628.34 1914.75"/><circle cx="205.14" cy="1654.65" r="6.1" stroke-width="2.4"/><circle cx="292.26" cy="1723.34" r="6.1" stroke-width="2.4"/><circle cx="422.93" cy="1826.38" r="6.1" stroke-width="2.4"/><circle cx="472.72" cy="1939.23" r="6.1" stroke-width="2.4"/><circle cx="379.37" cy="1939.23" r="6.1" stroke-width="2.4"/><circle cx="248.7" cy="1909.79" r="6.1" stroke-width="2.4"/><circle cx="205.14" cy="1875.45" r="6.1" stroke-width="2.4"/></g>
<linearGradient id="gc" gradientUnits="userSpaceOnUse" x1="101.35" y1="1744.32" x2="356.5" y2="2039.64"><stop offset="0" stop-color="#0000ff"/><stop offset="0.06" stop-color="#3d45ff"/><stop offset="0.11" stop-color="#506dff"/><stop offset="0.17" stop-color="#5792ff"/><stop offset="0.22" stop-color="#55b6ff"/><stop offset="0.28" stop-color="#45dbff"/><stop offset="0.33" stop-color="#00ffff"/><stop offset="0.39" stop-color="#7cffdf"/><stop offset="0.44" stop-color="#a7ffbf"/><stop offset="0.5" stop-color="#c4ff9e"/><stop offset="0.56" stop-color="#dcff7c"/><stop offset="0.61" stop-color="#efff53"/><stop offset="0.67" stop-color="#ffff00"/><stop offset="0.72" stop-color="#ffe100"/><stop offset="0.78" stop-color="#ffc200"/><stop offset="0.83" stop-color="#ffa100"/><stop offset="0.89" stop-color="#ff7f00"/><stop offset="0.94" stop-color="#ff5600"/><stop offset="1" stop-color="#ff0000"/></linearGradient>
<polygon points="205.14,1654.65 292.26,1723.34 422.93,1826.38 472.72,1939.23 379.37,1939.23 248.7,1909.79 205.14,1875.45" fill="url(#gc)"/>
<g stroke="#000" stroke-width="1.8" fill="none">
<path d="M205.14 1738.87L224.03 1722.83M253.77 1697.59L256.57 1695.21"/>
<path d="M205.14 1864.37L224.15 1847.94M253.65 1822.44L332.03 1754.7"/>
<path d="M287.43 1918.52L358.54 1857.16M388.06 1831.68L407.92 1814.54"/>
<path d="M407.42 1939.23L416.34 1931.52M445.86 1906.03L454.7 1898.39"/>
</g>
<g font-family="Liberation Sans, sans-serif" font-size="23.5" text-anchor="middle" fill="#000"><text transform="translate(238.9 1710.21) rotate(-40.33)" y="8.46">26</text><text transform="translate(238.9 1835.19) rotate(-40.84)" y="8.46">28</text><text transform="translate(373.3 1844.42) rotate(-40.79)" y="8.46">30</text><text transform="translate(431.1 1918.77) rotate(-40.82)" y="8.46">32</text></g>
<g font-family="Liberation Sans, sans-serif" fill="#000" font-size="27.5" text-anchor="middle">
<text transform="translate(122.58 2037.36) rotate(-90)">0</text>
<text transform="translate(122.58 1939.23) rotate(-90)">20</text>
<text transform="translate(122.58 1841.1) rotate(-90)">40</text>
<text transform="translate(122.58 1742.97) rotate(-90)">60</text>
<text transform="translate(122.58 1644.84) rotate(-90)">80</text>
<text transform="translate(122.58 1546.71) rotate(-90)">100</text>
<text x="161.08" y="2095.66">0</text>
<text x="285.53" y="2095.66">20</text>
<text x="409.99" y="2095.66">40</text>
<text x="534.44" y="2095.66">60</text>
</g>
<g font-family="Liberation Sans, sans-serif" fill="#000" font-size="27.6" text-anchor="middle">
<text x="472.42" y="2136.76" font-size="27.9">Protein (%)</text>
<text transform="translate(80.68 1792.23) rotate(-90)" font-size="27.2">Carbohydrate (%)</text>
</g>
<text font-family="Liberation Sans, sans-serif" fill="#000" font-size="29.3" text-anchor="middle" transform="translate(503.83 1767.5) rotate(45)" y="7.3">Fat (%)</text>
<text font-family="Liberation Sans, sans-serif" font-weight="bold" font-size="55.5" x="0" y="1524.5">c</text>
<text font-family="Liberation Sans, sans-serif" font-weight="bold" font-size="43" x="467" y="1612.7" text-anchor="middle">F0 Centre bouts</text>
<!-- panel d -->
<g stroke="#000" stroke-width="2" fill="none"><path d="M860.4 744.9V246.95M860.4 744.9H1339.11"/><path stroke-linecap="round" d="M844 744.9H860.4M844 645.31H860.4M844 545.72H860.4M844 446.13H860.4M844 346.54H860.4M844 246.95H860.4M860.4 744.9V761.3M986.58 744.9V761.3M1112.75 744.9V761.3M1238.93 744.9V761.3"/><path d="M860.4 645.31L986.58 744.9M860.4 545.72L1112.75 744.9M860.4 446.13L1238.93 744.9M860.4 346.54L1339.11 724.38M860.4 246.95L1339.11 624.79"/><circle cx="904.56" cy="356.5" r="6.1" stroke-width="2.4"/><circle cx="992.88" cy="426.21" r="6.1" stroke-width="2.4"/><circle cx="1125.37" cy="530.78" r="6.1" stroke-width="2.4"/><circle cx="1175.84" cy="645.31" r="6.1" stroke-width="2.4"/><circle cx="1081.21" cy="645.31" r="6.1" stroke-width="2.4"/><circle cx="948.72" cy="615.43" r="6.1" stroke-width="2.4"/><circle cx="904.56" cy="580.58" r="6.1" stroke-width="2.4"/></g>
<linearGradient id="gd" gradientUnits="userSpaceOnUse" x1="1056.82" y1="748.62" x2="797.28" y2="449.62"><stop offset="0" stop-color="#0000ff"/><stop offset="0.06" stop-color="#3d45ff"/><stop offset="0.11" stop-color="#506dff"/><stop offset="0.17" stop-color="#5792ff"/><stop offset="0.22" stop-color="#55b6ff"/><stop offset="0.28" stop-color="#45dbff"/><stop offset="0.33" stop-color="#00ffff"/><stop offset="0.39" stop-color="#7cffdf"/><stop offset="0.44" stop-color="#a7ffbf"/><stop offset="0.5" stop-color="#c4ff9e"/><stop offset="0.56" stop-color="#dcff7c"/><stop offset="0.61" stop-color="#efff53"/><stop offset="0.67" stop-color="#ffff00"/><stop offset="0.72" stop-color="#ffe100"/><stop offset="0.78" stop-color="#ffc200"/><stop offset="0.83" stop-color="#ffa100"/><stop offset="0.89" stop-color="#ff7f00"/><stop offset="0.94" stop-color="#ff5600"/><stop offset="1" stop-color="#ff0000"/></linearGradient>
<polygon points="904.56,356.5 992.88,426.21 1125.37,530.78 1175.84,645.31 1081.21,645.31 948.72,615.43 904.56,580.58" fill="url(#gd)"/>
<g stroke="#000" stroke-width="1.8" fill="none">
<path d="M1025.49 632.74L1029.62 629.19M1059.18 603.75L1130.48 542.38"/>
<path d="M918.94 591.93L1014.91 508.12M1044.29 482.47L1053.72 474.23"/>
<path d="M904.56 468.74L922.35 453.36M951.85 427.85L972.42 410.06"/>
</g>
<g font-family="Liberation Sans, sans-serif" font-size="23.5" text-anchor="middle" fill="#000"><text transform="translate(1044.4 616.47) rotate(-40.72)" y="8.46">50</text><text transform="translate(1029.6 495.3) rotate(-41.13)" y="8.46">52</text><text transform="translate(937.1 440.61) rotate(-40.85)" y="8.46">54</text></g>
<g font-family="Liberation Sans, sans-serif" fill="#000" font-size="27.5" text-anchor="middle">
<text transform="translate(821.1 744.9) rotate(-90)">0</text>
<text transform="translate(821.1 645.31) rotate(-90)">20</text>
<text transform="translate(821.1 545.72) rotate(-90)">40</text>
<text transform="translate(821.1 446.13) rotate(-90)">60</text>
<text transform="translate(821.1 346.54) rotate(-90)">80</text>
<text transform="translate(821.1 246.95) rotate(-90)">100</text>
<text x="859.9" y="805.2">0</text>
<text x="986.08" y="805.2">20</text>
<text x="1112.25" y="805.2">40</text>
<text x="1238.43" y="805.2">60</text>
</g>
<g font-family="Liberation Sans, sans-serif" fill="#000" font-size="27.6" text-anchor="middle">
<text x="1175.54" y="846.1" font-size="27.9">Protein (%)</text>
<text transform="translate(778.8 493.72) rotate(-90)" font-size="27.2">Carbohydrate (%)</text>
</g>
<text font-family="Liberation Sans, sans-serif" fill="#000" font-size="29.3" text-anchor="middle" transform="translate(1207.38 471.03) rotate(45)" y="7.3">Fat (%)</text>
<text font-family="Liberation Sans, sans-serif" font-weight="bold" font-size="55.5" x="714" y="263">d</text>
<text font-family="Liberation Sans, sans-serif" font-weight="bold" font-size="43" x="1155.7" y="303.2" text-anchor="middle">F1 Closed arms %</text>
<!-- panel e -->
<g stroke="#000" stroke-width="2" fill="none"><path d="M863.99 1412.19V915.78M863.99 1412.19H1339.1"/><path stroke-linecap="round" d="M847.59 1412.19H863.99M847.59 1312.91H863.99M847.59 1213.63H863.99M847.59 1114.34H863.99M847.59 1015.06H863.99M847.59 915.78H863.99M863.99 1412.19V1428.59M989.88 1412.19V1428.59M1115.77 1412.19V1428.59M1241.66 1412.19V1428.59"/><path d="M863.99 1312.91L989.88 1412.19M863.99 1213.63L1115.77 1412.19M863.99 1114.34L1241.66 1412.19M863.99 1015.06L1339.1 1389.75M863.99 915.78L1339.1 1290.47"/><circle cx="908.05" cy="1024.99" r="6.1" stroke-width="2.4"/><circle cx="996.17" cy="1094.49" r="6.1" stroke-width="2.4"/><circle cx="1128.36" cy="1198.73" r="6.1" stroke-width="2.4"/><circle cx="1178.72" cy="1312.91" r="6.1" stroke-width="2.4"/><circle cx="1084.3" cy="1312.91" r="6.1" stroke-width="2.4"/><circle cx="952.11" cy="1283.12" r="6.1" stroke-width="2.4"/><circle cx="908.05" cy="1248.37" r="6.1" stroke-width="2.4"/></g>
<linearGradient id="ge" gradientUnits="userSpaceOnUse" x1="805.93" y1="1109.03" x2="1056.5" y2="1413.49"><stop offset="0" stop-color="#0000ff"/><stop offset="0.06" stop-color="#3d45ff"/><stop offset="0.11" stop-color="#506dff"/><stop offset="0.17" stop-color="#5792ff"/><stop offset="0.22" stop-color="#55b6ff"/><stop offset="0.28" stop-color="#45dbff"/><stop offset="0.33" stop-color="#00ffff"/><stop offset="0.39" stop-color="#7cffdf"/><stop offset="0.44" stop-color="#a7ffbf"/><stop offset="0.5" stop-color="#c4ff9e"/><stop offset="0.56" stop-color="#dcff7c"/><stop offset="0.61" stop-color="#efff53"/><stop offset="0.67" stop-color="#ffff00"/><stop offset="0.72" stop-color="#ffe100"/><stop offset="0.78" stop-color="#ffc200"/><stop offset="0.83" stop-color="#ffa100"/><stop offset="0.89" stop-color="#ff7f00"/><stop offset="0.94" stop-color="#ff5600"/><stop offset="1" stop-color="#ff0000"/></linearGradient>
<polygon points="908.05,1024.99 996.17,1094.49 1128.36,1198.73 1178.72,1312.91 1084.3,1312.91 952.11,1283.12 908.05,1248.37" fill="url(#ge)"/>
<g stroke="#000" stroke-width="1.8" fill="none">
<path d="M908.05 1048.68L922.79 1036.62"/>
<path d="M908.05 1140.48L914.94 1134.81M945.06 1110.04L979.73 1081.52"/>
<path d="M908.05 1231.58L934.54 1209.8M964.66 1185.03L1036.3 1126.13"/>
<path d="M955.89 1283.97L1023.9 1227.46M1053.9 1202.53L1092.5 1170.45"/>
<path d="M1041.89 1303.35L1050.48 1296.36M1080.72 1271.74L1139.47 1223.93"/>
<path d="M1140.25 1312.91L1168.39 1289.51"/>
</g>
<g font-family="Liberation Sans, sans-serif" font-size="23.5" text-anchor="middle" fill="#000"><text transform="translate(930 1122.43) rotate(-39.44)" y="8.46">23</text><text transform="translate(949.6 1197.42) rotate(-39.43)" y="8.46">24</text><text transform="translate(1038.9 1214.99) rotate(-39.73)" y="8.46">25</text><text transform="translate(1065.6 1284.05) rotate(-39.14)" y="8.46">26</text></g>
<g font-family="Liberation Sans, sans-serif" fill="#000" font-size="27.5" text-anchor="middle">
<text transform="translate(824.69 1412.19) rotate(-90)">0</text>
<text transform="translate(824.69 1312.91) rotate(-90)">20</text>
<text transform="translate(824.69 1213.63) rotate(-90)">40</text>
<text transform="translate(824.69 1114.34) rotate(-90)">60</text>
<text transform="translate(824.69 1015.06) rotate(-90)">80</text>
<text transform="translate(824.69 915.78) rotate(-90)">100</text>
<text x="863.49" y="1472.19">0</text>
<text x="989.38" y="1472.19">20</text>
<text x="1115.27" y="1472.19">40</text>
<text x="1241.16" y="1472.19">60</text>
</g>
<g font-family="Liberation Sans, sans-serif" fill="#000" font-size="27.6" text-anchor="middle">
<text x="1178.42" y="1512.89" font-size="27.9">Protein (%)</text>
<text transform="translate(782.39 1163.19) rotate(-90)" font-size="27.2">Carbohydrate (%)</text>
</g>
<text font-family="Liberation Sans, sans-serif" fill="#000" font-size="29.3" text-anchor="middle" transform="translate(1210.19 1139.16) rotate(45)" y="7.3">Fat (%)</text>
<text font-family="Liberation Sans, sans-serif" font-weight="bold" font-size="55.5" x="713.8" y="864">e</text>
<text font-family="Liberation Sans, sans-serif" font-weight="bold" font-size="43" x="1154.6" y="975.8" text-anchor="middle">F1 Centre %</text>
<!-- panel f -->
<g stroke="#000" stroke-width="2" fill="none"><path d="M852.1 2035.36V1538.83M852.1 2035.36H1331.21"/><path stroke-linecap="round" d="M835.7 2035.36H852.1M835.7 1936.05H852.1M835.7 1836.75H852.1M835.7 1737.44H852.1M835.7 1638.14H852.1M835.7 1538.83H852.1M852.1 2035.36V2051.76M977.97 2035.36V2051.76M1103.83 2035.36V2051.76M1229.7 2035.36V2051.76"/><path d="M852.1 1936.05L977.97 2035.36M852.1 1836.75L1103.83 2035.36M852.1 1737.44L1229.7 2035.36M852.1 1638.14L1331.21 2016.14M852.1 1538.83L1331.21 1916.84"/><circle cx="896.15" cy="1648.07" r="6.1" stroke-width="2.4"/><circle cx="984.26" cy="1717.58" r="6.1" stroke-width="2.4"/><circle cx="1116.42" cy="1821.85" r="6.1" stroke-width="2.4"/><circle cx="1166.77" cy="1936.05" r="6.1" stroke-width="2.4"/><circle cx="1072.37" cy="1936.05" r="6.1" stroke-width="2.4"/><circle cx="940.21" cy="1906.26" r="6.1" stroke-width="2.4"/><circle cx="896.15" cy="1871.51" r="6.1" stroke-width="2.4"/></g>
<clipPath id="cf"><polygon points="896.2,1648.1 984.3,1717.6 1116.4,1821.9 1166.8,1936.1 1072.4,1936.1 940.2,1906.3 896.2,1871.5"/></clipPath>
<defs><linearGradient id="f0" gradientUnits="userSpaceOnUse" x1="895" x2="899" y1="0" y2="0"><stop offset="0" stop-color="#3d46ff"/><stop offset="1" stop-color="#414dff"/></linearGradient><linearGradient id="f1" gradientUnits="userSpaceOnUse" x1="895" x2="902" y1="0" y2="0"><stop offset="0" stop-color="#424fff"/><stop offset="1" stop-color="#495bff"/></linearGradient><linearGradient id="f2" gradientUnits="userSpaceOnUse" x1="895" x2="905" y1="0" y2="0"><stop offset="0" stop-color="#4758ff"/><stop offset="1" stop-color="#4f6bff"/></linearGradient><linearGradient id="f3" gradientUnits="userSpaceOnUse" x1="895" x2="907" y1="0" y2="0"><stop offset="0" stop-color="#4c62ff"/><stop offset="1" stop-color="#5378ff"/></linearGradient><linearGradient id="f4" gradientUnits="userSpaceOnUse" x1="895" x2="910" y1="0" y2="0"><stop offset="0" stop-color="#4f6cff"/><stop offset="0.867" stop-color="#5583ff"/><stop offset="1" stop-color="#568aff"/></linearGradient><linearGradient id="f5" gradientUnits="userSpaceOnUse" x1="895" x2="912" y1="0" y2="0"><stop offset="0" stop-color="#5377ff"/><stop offset="0.824" stop-color="#578eff"/><stop offset="1" stop-color="#5898ff"/></linearGradient><linearGradient id="f6" gradientUnits="userSpaceOnUse" x1="895" x2="915" y1="0" y2="0"><stop offset="0" stop-color="#5582ff"/><stop offset="0.7" stop-color="#5897ff"/><stop offset="1" stop-color="#57aaff"/></linearGradient><linearGradient id="f7" gradientUnits="userSpaceOnUse" x1="895" x2="917" y1="0" y2="0"><stop offset="0" stop-color="#578dff"/><stop offset="0.636" stop-color="#589fff"/><stop offset="1" stop-color="#54b9ff"/></linearGradient><linearGradient id="f8" gradientUnits="userSpaceOnUse" x1="895" x2="920" y1="0" y2="0"><stop offset="0" stop-color="#5898ff"/><stop offset="0.6" stop-color="#57aaff"/><stop offset="1" stop-color="#4ecbff"/></linearGradient><linearGradient id="f9" gradientUnits="userSpaceOnUse" x1="895" x2="922" y1="0" y2="0"><stop offset="0" stop-color="#57a4ff"/><stop offset="0.593" stop-color="#55b5ff"/><stop offset="1" stop-color="#46d9ff"/></linearGradient><linearGradient id="f10" gradientUnits="userSpaceOnUse" x1="895" x2="925" y1="0" y2="0"><stop offset="0" stop-color="#56b0ff"/><stop offset="0.533" stop-color="#53bdff"/><stop offset="0.9" stop-color="#42dfff"/><stop offset="1" stop-color="#35ecff"/></linearGradient><linearGradient id="f11" gradientUnits="userSpaceOnUse" x1="895" x2="927" y1="0" y2="0"><stop offset="0" stop-color="#54bcff"/><stop offset="0.5" stop-color="#51c6ff"/><stop offset="0.875" stop-color="#39e9ff"/><stop offset="1" stop-color="#1bfaff"/></linearGradient><linearGradient id="f12" gradientUnits="userSpaceOnUse" x1="895" x2="930" y1="0" y2="0"><stop offset="0" stop-color="#50c8ff"/><stop offset="0.457" stop-color="#4dceff"/><stop offset="0.771" stop-color="#37eaff"/><stop offset="0.886" stop-color="#1afaff"/><stop offset="0.914" stop-color="#06feff"/><stop offset="0.943" stop-color="#26fffc"/><stop offset="1" stop-color="#4afff4"/></linearGradient><linearGradient id="f13" gradientUnits="userSpaceOnUse" x1="895" x2="932" y1="0" y2="0"><stop offset="0" stop-color="#4ad4ff"/><stop offset="0.432" stop-color="#49d6ff"/><stop offset="0.703" stop-color="#35ecff"/><stop offset="0.811" stop-color="#19faff"/><stop offset="0.838" stop-color="#05feff"/><stop offset="0.865" stop-color="#25fffc"/><stop offset="0.919" stop-color="#48fff5"/><stop offset="1" stop-color="#68ffe9"/></linearGradient><linearGradient id="f14" gradientUnits="userSpaceOnUse" x1="895" x2="935" y1="0" y2="0"><stop offset="0" stop-color="#42e0ff"/><stop offset="0.4" stop-color="#43ddff"/><stop offset="0.625" stop-color="#32eeff"/><stop offset="0.725" stop-color="#16fbff"/><stop offset="0.75" stop-color="#03ffff"/><stop offset="0.775" stop-color="#26fffc"/><stop offset="0.85" stop-color="#53fff2"/><stop offset="1" stop-color="#84ffda"/></linearGradient><linearGradient id="f15" gradientUnits="userSpaceOnUse" x1="895" x2="937" y1="0" y2="0"><stop offset="0" stop-color="#35ebff"/><stop offset="0.381" stop-color="#3de5ff"/><stop offset="0.595" stop-color="#29f4ff"/><stop offset="0.69" stop-color="#0affff"/><stop offset="0.714" stop-color="#29fffc"/><stop offset="0.81" stop-color="#5cffee"/><stop offset="1" stop-color="#94ffcf"/></linearGradient><linearGradient id="f16" gradientUnits="userSpaceOnUse" x1="895" x2="940" y1="0" y2="0"><stop offset="0" stop-color="#22f7ff"/><stop offset="0.311" stop-color="#35ecff"/><stop offset="0.511" stop-color="#27f5ff"/><stop offset="0.578" stop-color="#14fbff"/><stop offset="0.6" stop-color="#06feff"/><stop offset="0.667" stop-color="#3dfff8"/><stop offset="0.822" stop-color="#79ffe1"/><stop offset="1" stop-color="#a6ffc0"/></linearGradient><linearGradient id="f17" gradientUnits="userSpaceOnUse" x1="895" x2="943" y1="0" y2="0"><stop offset="0" stop-color="#22fffd"/><stop offset="0.062" stop-color="#05feff"/><stop offset="0.188" stop-color="#21f7ff"/><stop offset="0.396" stop-color="#25f6ff"/><stop offset="0.5" stop-color="#11fcff"/><stop offset="0.521" stop-color="#04feff"/><stop offset="0.583" stop-color="#37fff9"/><stop offset="0.75" stop-color="#78ffe1"/><stop offset="1" stop-color="#b5ffb0"/></linearGradient><linearGradient id="f18" gradientUnits="userSpaceOnUse" x1="895" x2="945" y1="0" y2="0"><stop offset="0" stop-color="#4efff3"/><stop offset="0.14" stop-color="#29fffc"/><stop offset="0.2" stop-color="#08ffff"/><stop offset="0.24" stop-color="#09feff"/><stop offset="0.36" stop-color="#12fcff"/><stop offset="0.44" stop-color="#05ffff"/><stop offset="0.5" stop-color="#2ffffb"/><stop offset="0.72" stop-color="#7dffdf"/><stop offset="1" stop-color="#bfffa5"/></linearGradient><linearGradient id="f19" gradientUnits="userSpaceOnUse" x1="895" x2="948" y1="0" y2="0"><stop offset="0" stop-color="#66ffea"/><stop offset="0.302" stop-color="#2dfffb"/><stop offset="0.396" stop-color="#33fffa"/><stop offset="0.679" stop-color="#81ffdc"/><stop offset="0.981" stop-color="#c7ff9b"/><stop offset="1" stop-color="#cbff96"/></linearGradient><linearGradient id="f20" gradientUnits="userSpaceOnUse" x1="895" x2="950" y1="0" y2="0"><stop offset="0" stop-color="#78ffe1"/><stop offset="0.291" stop-color="#4bfff4"/><stop offset="0.436" stop-color="#53fff2"/><stop offset="0.727" stop-color="#97ffcc"/><stop offset="1" stop-color="#d2ff8b"/></linearGradient><linearGradient id="f21" gradientUnits="userSpaceOnUse" x1="895" x2="953" y1="0" y2="0"><stop offset="0" stop-color="#87ffd9"/><stop offset="0.276" stop-color="#5fffed"/><stop offset="0.431" stop-color="#63ffeb"/><stop offset="0.69" stop-color="#9affcb"/><stop offset="0.966" stop-color="#d5ff86"/><stop offset="1" stop-color="#dcff7b"/></linearGradient><linearGradient id="f22" gradientUnits="userSpaceOnUse" x1="895" x2="955" y1="0" y2="0"><stop offset="0" stop-color="#93ffd0"/><stop offset="0.267" stop-color="#6fffe6"/><stop offset="0.433" stop-color="#70ffe5"/><stop offset="0.7" stop-color="#a3ffc3"/><stop offset="0.967" stop-color="#dbff7d"/><stop offset="1" stop-color="#e1ff72"/></linearGradient><linearGradient id="f23" gradientUnits="userSpaceOnUse" x1="895" x2="958" y1="0" y2="0"><stop offset="0" stop-color="#9effc7"/><stop offset="0.254" stop-color="#7cffdf"/><stop offset="0.444" stop-color="#7cffdf"/><stop offset="0.683" stop-color="#a7ffbf"/><stop offset="0.937" stop-color="#ddff7a"/><stop offset="1" stop-color="#e8ff62"/></linearGradient><linearGradient id="f24" gradientUnits="userSpaceOnUse" x1="895" x2="960" y1="0" y2="0"><stop offset="0" stop-color="#a8ffbe"/><stop offset="0.246" stop-color="#87ffd8"/><stop offset="0.431" stop-color="#83ffdb"/><stop offset="0.677" stop-color="#abffbb"/><stop offset="0.923" stop-color="#deff77"/><stop offset="1" stop-color="#edff58"/></linearGradient><linearGradient id="f25" gradientUnits="userSpaceOnUse" x1="895" x2="963" y1="0" y2="0"><stop offset="0" stop-color="#b1ffb5"/><stop offset="0.235" stop-color="#91ffd1"/><stop offset="0.412" stop-color="#89ffd7"/><stop offset="0.632" stop-color="#a8ffbe"/><stop offset="0.868" stop-color="#d9ff80"/><stop offset="1" stop-color="#f3ff46"/></linearGradient><linearGradient id="f26" gradientUnits="userSpaceOnUse" x1="895" x2="965" y1="0" y2="0"><stop offset="0" stop-color="#b9ffac"/><stop offset="0.229" stop-color="#99ffcb"/><stop offset="0.414" stop-color="#8fffd3"/><stop offset="0.629" stop-color="#aaffbc"/><stop offset="0.857" stop-color="#daff7f"/><stop offset="0.986" stop-color="#f4ff43"/><stop offset="1" stop-color="#f7ff39"/></linearGradient><linearGradient id="f27" gradientUnits="userSpaceOnUse" x1="895" x2="968" y1="0" y2="0"><stop offset="0" stop-color="#c1ffa3"/><stop offset="0.219" stop-color="#a0ffc5"/><stop offset="0.425" stop-color="#94ffcf"/><stop offset="0.644" stop-color="#b1ffb5"/><stop offset="0.849" stop-color="#ddff79"/><stop offset="0.959" stop-color="#f5ff41"/><stop offset="1" stop-color="#fdff17"/></linearGradient><linearGradient id="f28" gradientUnits="userSpaceOnUse" x1="895" x2="970" y1="0" y2="0"><stop offset="0" stop-color="#c7ff9b"/><stop offset="0.213" stop-color="#a7ffbf"/><stop offset="0.427" stop-color="#97ffcc"/><stop offset="0.64" stop-color="#b2ffb4"/><stop offset="0.84" stop-color="#ddff78"/><stop offset="0.947" stop-color="#f5ff40"/><stop offset="0.973" stop-color="#fbff28"/><stop offset="1" stop-color="#fffc00"/></linearGradient><linearGradient id="f29" gradientUnits="userSpaceOnUse" x1="895" x2="973" y1="0" y2="0"><stop offset="0" stop-color="#cdff92"/><stop offset="0.205" stop-color="#adffb9"/><stop offset="0.397" stop-color="#9affcb"/><stop offset="0.59" stop-color="#abffbb"/><stop offset="0.782" stop-color="#d4ff88"/><stop offset="0.91" stop-color="#f2ff49"/><stop offset="0.949" stop-color="#fbff26"/><stop offset="0.974" stop-color="#fffb00"/><stop offset="1" stop-color="#ffef00"/></linearGradient><linearGradient id="f30" gradientUnits="userSpaceOnUse" x1="895" x2="976" y1="0" y2="0"><stop offset="0" stop-color="#d3ff8a"/><stop offset="0.198" stop-color="#b2ffb4"/><stop offset="0.395" stop-color="#9cffc9"/><stop offset="0.58" stop-color="#abffbb"/><stop offset="0.753" stop-color="#d1ff8d"/><stop offset="0.877" stop-color="#efff51"/><stop offset="0.926" stop-color="#fbff25"/><stop offset="0.938" stop-color="#feff0c"/><stop offset="0.951" stop-color="#fffb00"/><stop offset="1" stop-color="#ffe200"/></linearGradient><linearGradient id="f31" gradientUnits="userSpaceOnUse" x1="895" x2="978" y1="0" y2="0"><stop offset="0" stop-color="#d8ff82"/><stop offset="0.193" stop-color="#b6ffaf"/><stop offset="0.386" stop-color="#9dffc8"/><stop offset="0.566" stop-color="#a9ffbd"/><stop offset="0.735" stop-color="#cdff92"/><stop offset="0.855" stop-color="#ecff59"/><stop offset="0.904" stop-color="#f8ff33"/><stop offset="0.916" stop-color="#fbff24"/><stop offset="0.928" stop-color="#feff0a"/><stop offset="0.952" stop-color="#fff400"/><stop offset="1" stop-color="#ffdb00"/></linearGradient><linearGradient id="f32" gradientUnits="userSpaceOnUse" x1="895" x2="981" y1="0" y2="0"><stop offset="0" stop-color="#dcff7a"/><stop offset="0.186" stop-color="#baffab"/><stop offset="0.372" stop-color="#9effc7"/><stop offset="0.535" stop-color="#a4ffc2"/><stop offset="0.698" stop-color="#c6ff9c"/><stop offset="0.826" stop-color="#e9ff62"/><stop offset="0.884" stop-color="#f8ff34"/><stop offset="0.895" stop-color="#fbff25"/><stop offset="0.907" stop-color="#feff0b"/><stop offset="0.919" stop-color="#fffa00"/><stop offset="1" stop-color="#ffcd00"/></linearGradient><linearGradient id="f33" gradientUnits="userSpaceOnUse" x1="895" x2="983" y1="0" y2="0"><stop offset="0" stop-color="#e0ff73"/><stop offset="0.182" stop-color="#beffa7"/><stop offset="0.364" stop-color="#9fffc6"/><stop offset="0.523" stop-color="#a1ffc4"/><stop offset="0.67" stop-color="#bfffa5"/><stop offset="0.807" stop-color="#e5ff6a"/><stop offset="0.875" stop-color="#f8ff35"/><stop offset="0.909" stop-color="#fffb00"/><stop offset="1" stop-color="#ffc600"/></linearGradient><linearGradient id="f34" gradientUnits="userSpaceOnUse" x1="895" x2="986" y1="0" y2="0"><stop offset="0" stop-color="#e4ff6c"/><stop offset="0.176" stop-color="#c1ffa3"/><stop offset="0.352" stop-color="#a0ffc5"/><stop offset="0.516" stop-color="#9fffc6"/><stop offset="0.67" stop-color="#c1ffa3"/><stop offset="0.802" stop-color="#e7ff64"/><stop offset="0.857" stop-color="#f7ff37"/><stop offset="0.89" stop-color="#fffb00"/><stop offset="1" stop-color="#ffb800"/></linearGradient><linearGradient id="f35" gradientUnits="userSpaceOnUse" x1="895" x2="988" y1="0" y2="0"><stop offset="0" stop-color="#e7ff66"/><stop offset="0.172" stop-color="#c4ff9f"/><stop offset="0.344" stop-color="#a1ffc5"/><stop offset="0.495" stop-color="#9bffca"/><stop offset="0.645" stop-color="#b9ffad"/><stop offset="0.785" stop-color="#e3ff6d"/><stop offset="0.849" stop-color="#f7ff39"/><stop offset="0.871" stop-color="#fdff18"/><stop offset="0.882" stop-color="#fffc00"/><stop offset="1" stop-color="#ffb100"/></linearGradient><linearGradient id="f36" gradientUnits="userSpaceOnUse" x1="895" x2="991" y1="0" y2="0"><stop offset="0" stop-color="#eaff5f"/><stop offset="0.167" stop-color="#c6ff9c"/><stop offset="0.333" stop-color="#a1ffc4"/><stop offset="0.479" stop-color="#97ffcc"/><stop offset="0.604" stop-color="#aeffb8"/><stop offset="0.74" stop-color="#d8ff81"/><stop offset="0.823" stop-color="#f3ff47"/><stop offset="0.854" stop-color="#fcff1e"/><stop offset="0.865" stop-color="#fffe00"/><stop offset="1" stop-color="#ffa300"/></linearGradient><linearGradient id="f37" gradientUnits="userSpaceOnUse" x1="895" x2="993" y1="0" y2="0"><stop offset="0" stop-color="#ecff59"/><stop offset="0.163" stop-color="#c8ff99"/><stop offset="0.327" stop-color="#a1ffc4"/><stop offset="0.469" stop-color="#94ffcf"/><stop offset="0.602" stop-color="#abffbb"/><stop offset="0.735" stop-color="#d7ff84"/><stop offset="0.816" stop-color="#f2ff4a"/><stop offset="0.847" stop-color="#fbff24"/><stop offset="0.857" stop-color="#ffff06"/><stop offset="0.918" stop-color="#ffd800"/><stop offset="1" stop-color="#ff9d00"/></linearGradient><linearGradient id="f38" gradientUnits="userSpaceOnUse" x1="895" x2="996" y1="0" y2="0"><stop offset="0" stop-color="#efff52"/><stop offset="0.158" stop-color="#caff96"/><stop offset="0.317" stop-color="#a1ffc4"/><stop offset="0.465" stop-color="#90ffd2"/><stop offset="0.594" stop-color="#a9ffbd"/><stop offset="0.733" stop-color="#d9ff81"/><stop offset="0.812" stop-color="#f4ff44"/><stop offset="0.832" stop-color="#faff2b"/><stop offset="0.851" stop-color="#fffc00"/><stop offset="1" stop-color="#ff8f00"/></linearGradient><linearGradient id="f39" gradientUnits="userSpaceOnUse" x1="895" x2="998" y1="0" y2="0"><stop offset="0" stop-color="#f1ff4b"/><stop offset="0.155" stop-color="#ccff94"/><stop offset="0.311" stop-color="#a1ffc4"/><stop offset="0.456" stop-color="#8cffd5"/><stop offset="0.583" stop-color="#a3ffc3"/><stop offset="0.709" stop-color="#d0ff8f"/><stop offset="0.806" stop-color="#f2ff49"/><stop offset="0.835" stop-color="#fcff21"/><stop offset="0.845" stop-color="#ffff00"/><stop offset="0.99" stop-color="#ff9300"/><stop offset="1" stop-color="#ff8a00"/></linearGradient><linearGradient id="f40" gradientUnits="userSpaceOnUse" x1="895" x2="1001" y1="0" y2="0"><stop offset="0" stop-color="#f4ff44"/><stop offset="0.151" stop-color="#ceff91"/><stop offset="0.302" stop-color="#a1ffc4"/><stop offset="0.443" stop-color="#88ffd7"/><stop offset="0.557" stop-color="#9affca"/><stop offset="0.679" stop-color="#c6ff9c"/><stop offset="0.783" stop-color="#edff57"/><stop offset="0.821" stop-color="#faff2b"/><stop offset="0.84" stop-color="#fffc00"/><stop offset="0.981" stop-color="#ff8f00"/><stop offset="1" stop-color="#ff7d00"/></linearGradient><linearGradient id="f41" gradientUnits="userSpaceOnUse" x1="895" x2="1003" y1="0" y2="0"><stop offset="0" stop-color="#f6ff3c"/><stop offset="0.139" stop-color="#d2ff8b"/><stop offset="0.287" stop-color="#a4ffc2"/><stop offset="0.435" stop-color="#84ffda"/><stop offset="0.546" stop-color="#93ffd0"/><stop offset="0.676" stop-color="#c3ffa0"/><stop offset="0.778" stop-color="#ebff5c"/><stop offset="0.815" stop-color="#f8ff34"/><stop offset="0.824" stop-color="#fbff24"/><stop offset="0.833" stop-color="#ffff06"/><stop offset="0.889" stop-color="#ffd900"/><stop offset="1" stop-color="#ff7a00"/></linearGradient><linearGradient id="f42" gradientUnits="userSpaceOnUse" x1="895" x2="1006" y1="0" y2="0"><stop offset="0" stop-color="#f8ff33"/><stop offset="0.108" stop-color="#dcff7a"/><stop offset="0.252" stop-color="#adffb9"/><stop offset="0.396" stop-color="#83ffdb"/><stop offset="0.495" stop-color="#84ffda"/><stop offset="0.613" stop-color="#aaffbc"/><stop offset="0.73" stop-color="#daff7e"/><stop offset="0.802" stop-color="#f6ff3d"/><stop offset="0.82" stop-color="#fcff1f"/><stop offset="0.829" stop-color="#fffe00"/><stop offset="0.964" stop-color="#ff9300"/><stop offset="1" stop-color="#ff6c00"/></linearGradient><linearGradient id="f43" gradientUnits="userSpaceOnUse" x1="895" x2="1008" y1="0" y2="0"><stop offset="0" stop-color="#fbff28"/><stop offset="0.08" stop-color="#e6ff67"/><stop offset="0.221" stop-color="#b7ffaf"/><stop offset="0.363" stop-color="#86ffd9"/><stop offset="0.469" stop-color="#7affe0"/><stop offset="0.584" stop-color="#9affca"/><stop offset="0.708" stop-color="#d0ff8f"/><stop offset="0.796" stop-color="#f3ff46"/><stop offset="0.823" stop-color="#fdff1b"/><stop offset="0.832" stop-color="#fffd00"/><stop offset="0.956" stop-color="#ff9a00"/><stop offset="1" stop-color="#ff6700"/></linearGradient><linearGradient id="f44" gradientUnits="userSpaceOnUse" x1="895" x2="1011" y1="0" y2="0"><stop offset="0" stop-color="#fdff1a"/><stop offset="0.052" stop-color="#f0ff50"/><stop offset="0.181" stop-color="#c5ff9e"/><stop offset="0.319" stop-color="#8fffd2"/><stop offset="0.44" stop-color="#73ffe4"/><stop offset="0.534" stop-color="#84ffda"/><stop offset="0.655" stop-color="#b9ffad"/><stop offset="0.767" stop-color="#e9ff60"/><stop offset="0.81" stop-color="#faff2d"/><stop offset="0.828" stop-color="#fffd00"/><stop offset="0.94" stop-color="#ffa100"/><stop offset="1" stop-color="#ff5500"/></linearGradient><linearGradient id="f45" gradientUnits="userSpaceOnUse" x1="895" x2="1014" y1="0" y2="0"><stop offset="0" stop-color="#ffff00"/><stop offset="0.017" stop-color="#fbff27"/><stop offset="0.084" stop-color="#e7ff65"/><stop offset="0.218" stop-color="#b5ffb1"/><stop offset="0.353" stop-color="#7effde"/><stop offset="0.445" stop-color="#6bffe8"/><stop offset="0.538" stop-color="#81ffdc"/><stop offset="0.647" stop-color="#b4ffb2"/><stop offset="0.756" stop-color="#e6ff67"/><stop offset="0.807" stop-color="#faff2d"/><stop offset="0.824" stop-color="#fffd00"/><stop offset="0.924" stop-color="#ffa800"/><stop offset="0.983" stop-color="#ff5d00"/><stop offset="1" stop-color="#ff3c00"/></linearGradient><linearGradient id="f46" gradientUnits="userSpaceOnUse" x1="895" x2="1016" y1="0" y2="0"><stop offset="0" stop-color="#fffa00"/><stop offset="0.008" stop-color="#fffe00"/><stop offset="0.025" stop-color="#fbff27"/><stop offset="0.091" stop-color="#e6ff67"/><stop offset="0.223" stop-color="#b2ffb4"/><stop offset="0.355" stop-color="#77ffe2"/><stop offset="0.446" stop-color="#63ffec"/><stop offset="0.537" stop-color="#79ffe1"/><stop offset="0.653" stop-color="#b3ffb3"/><stop offset="0.76" stop-color="#e6ff68"/><stop offset="0.81" stop-color="#f9ff30"/><stop offset="0.818" stop-color="#fcff1f"/><stop offset="0.826" stop-color="#fffe00"/><stop offset="0.926" stop-color="#ffa600"/><stop offset="0.975" stop-color="#ff6500"/><stop offset="1" stop-color="#ff3000"/></linearGradient><linearGradient id="f47" gradientUnits="userSpaceOnUse" x1="895" x2="1019" y1="0" y2="0"><stop offset="0" stop-color="#fff600"/><stop offset="0.016" stop-color="#fffe00"/><stop offset="0.032" stop-color="#fbff28"/><stop offset="0.089" stop-color="#e8ff63"/><stop offset="0.218" stop-color="#b2ffb4"/><stop offset="0.347" stop-color="#74ffe4"/><stop offset="0.435" stop-color="#58fff0"/><stop offset="0.508" stop-color="#65ffeb"/><stop offset="0.621" stop-color="#a0ffc5"/><stop offset="0.734" stop-color="#daff7d"/><stop offset="0.798" stop-color="#f5ff3f"/><stop offset="0.815" stop-color="#fbff24"/><stop offset="0.823" stop-color="#ffff06"/><stop offset="0.871" stop-color="#ffd700"/><stop offset="0.944" stop-color="#ff8600"/><stop offset="0.976" stop-color="#ff4f00"/><stop offset="0.992" stop-color="#ff1f00"/><stop offset="1" stop-color="#ff0000"/></linearGradient><linearGradient id="f48" gradientUnits="userSpaceOnUse" x1="895" x2="1021" y1="0" y2="0"><stop offset="0" stop-color="#fff100"/><stop offset="0.024" stop-color="#ffff00"/><stop offset="0.04" stop-color="#faff2a"/><stop offset="0.095" stop-color="#e7ff66"/><stop offset="0.222" stop-color="#afffb7"/><stop offset="0.349" stop-color="#6cffe7"/><stop offset="0.437" stop-color="#4bfff4"/><stop offset="0.5" stop-color="#56fff1"/><stop offset="0.611" stop-color="#94ffcf"/><stop offset="0.738" stop-color="#d9ff7f"/><stop offset="0.802" stop-color="#f4ff43"/><stop offset="0.817" stop-color="#fbff28"/><stop offset="0.833" stop-color="#fffb00"/><stop offset="0.921" stop-color="#ffa400"/><stop offset="0.968" stop-color="#ff5900"/><stop offset="0.984" stop-color="#ff2f00"/><stop offset="0.992" stop-color="#ff0000"/><stop offset="1" stop-color="#ff0000"/></linearGradient><linearGradient id="f49" gradientUnits="userSpaceOnUse" x1="895" x2="1024" y1="0" y2="0"><stop offset="0" stop-color="#ffec00"/><stop offset="0.031" stop-color="#ffff00"/><stop offset="0.039" stop-color="#fcff1d"/><stop offset="0.07" stop-color="#f2ff4b"/><stop offset="0.171" stop-color="#c6ff9c"/><stop offset="0.295" stop-color="#84ffda"/><stop offset="0.419" stop-color="#3efff8"/><stop offset="0.473" stop-color="#3dfff8"/><stop offset="0.581" stop-color="#7cffdf"/><stop offset="0.698" stop-color="#c4ff9f"/><stop offset="0.783" stop-color="#ecff59"/><stop offset="0.814" stop-color="#faff2d"/><stop offset="0.829" stop-color="#fffc00"/><stop offset="0.907" stop-color="#ffac00"/><stop offset="0.953" stop-color="#ff6200"/><stop offset="0.969" stop-color="#ff3d00"/><stop offset="0.984" stop-color="#ff0000"/><stop offset="1" stop-color="#ff0000"/></linearGradient><linearGradient id="f50" gradientUnits="userSpaceOnUse" x1="895" x2="1026" y1="0" y2="0"><stop offset="0" stop-color="#ffe700"/><stop offset="0.038" stop-color="#ffff06"/><stop offset="0.046" stop-color="#fcff21"/><stop offset="0.084" stop-color="#eeff56"/><stop offset="0.183" stop-color="#c0ffa4"/><stop offset="0.305" stop-color="#78ffe1"/><stop offset="0.427" stop-color="#21fffd"/><stop offset="0.466" stop-color="#1cfffd"/><stop offset="0.573" stop-color="#6cffe8"/><stop offset="0.695" stop-color="#beffa7"/><stop offset="0.786" stop-color="#ebff5c"/><stop offset="0.817" stop-color="#f9ff31"/><stop offset="0.824" stop-color="#fcff1f"/><stop offset="0.832" stop-color="#fffe00"/><stop offset="0.908" stop-color="#ffaa00"/><stop offset="0.954" stop-color="#ff5d00"/><stop offset="0.969" stop-color="#ff3600"/><stop offset="0.977" stop-color="#ff1000"/><stop offset="0.985" stop-color="#ff0000"/><stop offset="1" stop-color="#ff0000"/></linearGradient><linearGradient id="f51" gradientUnits="userSpaceOnUse" x1="895" x2="1029" y1="0" y2="0"><stop offset="0" stop-color="#ffe300"/><stop offset="0.037" stop-color="#fffc00"/><stop offset="0.06" stop-color="#f8ff33"/><stop offset="0.119" stop-color="#dfff76"/><stop offset="0.239" stop-color="#9effc7"/><stop offset="0.351" stop-color="#4cfff4"/><stop offset="0.396" stop-color="#17fffe"/><stop offset="0.403" stop-color="#04ffff"/><stop offset="0.448" stop-color="#15fbff"/><stop offset="0.5" stop-color="#06ffff"/><stop offset="0.515" stop-color="#25fffc"/><stop offset="0.59" stop-color="#71ffe5"/><stop offset="0.709" stop-color="#c3ffa0"/><stop offset="0.791" stop-color="#edff57"/><stop offset="0.821" stop-color="#fcff23"/><stop offset="0.828" stop-color="#ffff00"/><stop offset="0.896" stop-color="#ffb300"/><stop offset="0.948" stop-color="#ff5a00"/><stop offset="0.963" stop-color="#ff3400"/><stop offset="0.97" stop-color="#ff1000"/><stop offset="0.978" stop-color="#ff0000"/><stop offset="1" stop-color="#ff0000"/></linearGradient><linearGradient id="f52" gradientUnits="userSpaceOnUse" x1="895" x2="1031" y1="0" y2="0"><stop offset="0" stop-color="#ffde00"/><stop offset="0.044" stop-color="#fffd00"/><stop offset="0.059" stop-color="#faff2a"/><stop offset="0.103" stop-color="#e7ff65"/><stop offset="0.206" stop-color="#b0ffb6"/><stop offset="0.316" stop-color="#62ffec"/><stop offset="0.36" stop-color="#32fffa"/><stop offset="0.382" stop-color="#03ffff"/><stop offset="0.412" stop-color="#1df9ff"/><stop offset="0.478" stop-color="#23f7ff"/><stop offset="0.529" stop-color="#07ffff"/><stop offset="0.544" stop-color="#2dfffb"/><stop offset="0.603" stop-color="#71ffe5"/><stop offset="0.713" stop-color="#c1ffa3"/><stop offset="0.794" stop-color="#ecff59"/><stop offset="0.824" stop-color="#fbff26"/><stop offset="0.831" stop-color="#ffff04"/><stop offset="0.904" stop-color="#ffa700"/><stop offset="0.956" stop-color="#ff4b00"/><stop offset="0.978" stop-color="#ff0000"/><stop offset="1" stop-color="#ff0000"/></linearGradient><linearGradient id="f53" gradientUnits="userSpaceOnUse" x1="895" x2="1034" y1="0" y2="0"><stop offset="0" stop-color="#ffd900"/><stop offset="0.05" stop-color="#fffe00"/><stop offset="0.058" stop-color="#fcff1e"/><stop offset="0.086" stop-color="#f0ff50"/><stop offset="0.165" stop-color="#c6ff9c"/><stop offset="0.281" stop-color="#78ffe1"/><stop offset="0.338" stop-color="#3dfff8"/><stop offset="0.353" stop-color="#23fffc"/><stop offset="0.36" stop-color="#0bfffe"/><stop offset="0.417" stop-color="#2bf3ff"/><stop offset="0.496" stop-color="#2af3ff"/><stop offset="0.532" stop-color="#18fbff"/><stop offset="0.547" stop-color="#00ffff"/><stop offset="0.554" stop-color="#1ffffd"/><stop offset="0.583" stop-color="#51fff2"/><stop offset="0.662" stop-color="#9cffc9"/><stop offset="0.77" stop-color="#e0ff74"/><stop offset="0.813" stop-color="#f7ff39"/><stop offset="0.82" stop-color="#fbff28"/><stop offset="0.827" stop-color="#feff09"/><stop offset="0.842" stop-color="#fff100"/><stop offset="0.914" stop-color="#ff9000"/><stop offset="0.95" stop-color="#ff4e00"/><stop offset="0.964" stop-color="#ff2100"/><stop offset="0.971" stop-color="#ff0000"/><stop offset="1" stop-color="#ff0000"/></linearGradient><linearGradient id="f54" gradientUnits="userSpaceOnUse" x1="895" x2="1036" y1="0" y2="0"><stop offset="0" stop-color="#ffd400"/><stop offset="0.05" stop-color="#fffb00"/><stop offset="0.057" stop-color="#feff0c"/><stop offset="0.064" stop-color="#fbff26"/><stop offset="0.099" stop-color="#eaff5e"/><stop offset="0.184" stop-color="#bbffaa"/><stop offset="0.298" stop-color="#63ffec"/><stop offset="0.333" stop-color="#34fffa"/><stop offset="0.34" stop-color="#24fffc"/><stop offset="0.348" stop-color="#09ffff"/><stop offset="0.39" stop-color="#2bf3ff"/><stop offset="0.468" stop-color="#37eaff"/><stop offset="0.539" stop-color="#25f6ff"/><stop offset="0.56" stop-color="#0dfdff"/><stop offset="0.567" stop-color="#10fffe"/><stop offset="0.582" stop-color="#39fff9"/><stop offset="0.631" stop-color="#78ffe1"/><stop offset="0.738" stop-color="#caff97"/><stop offset="0.801" stop-color="#efff53"/><stop offset="0.823" stop-color="#faff2a"/><stop offset="0.83" stop-color="#feff0d"/><stop offset="0.837" stop-color="#fff900"/><stop offset="0.915" stop-color="#ff9200"/><stop offset="0.95" stop-color="#ff5100"/><stop offset="0.965" stop-color="#ff2600"/><stop offset="0.972" stop-color="#ff0000"/><stop offset="1" stop-color="#ff0000"/></linearGradient><linearGradient id="f55" gradientUnits="userSpaceOnUse" x1="895" x2="1039" y1="0" y2="0"><stop offset="0" stop-color="#ffcf00"/><stop offset="0.056" stop-color="#fffd00"/><stop offset="0.069" stop-color="#faff2d"/><stop offset="0.104" stop-color="#e8ff63"/><stop offset="0.194" stop-color="#b2ffb4"/><stop offset="0.285" stop-color="#68ffea"/><stop offset="0.319" stop-color="#39fff9"/><stop offset="0.333" stop-color="#11fffe"/><stop offset="0.34" stop-color="#0cfdff"/><stop offset="0.368" stop-color="#2af3ff"/><stop offset="0.444" stop-color="#3de5ff"/><stop offset="0.535" stop-color="#31efff"/><stop offset="0.569" stop-color="#14fbff"/><stop offset="0.576" stop-color="#03ffff"/><stop offset="0.583" stop-color="#21fffd"/><stop offset="0.604" stop-color="#4dfff4"/><stop offset="0.667" stop-color="#93ffd0"/><stop offset="0.764" stop-color="#d9ff7f"/><stop offset="0.806" stop-color="#f2ff4a"/><stop offset="0.819" stop-color="#faff2c"/><stop offset="0.833" stop-color="#fffa00"/><stop offset="0.91" stop-color="#ff9400"/><stop offset="0.951" stop-color="#ff4200"/><stop offset="0.958" stop-color="#ff2a00"/><stop offset="0.965" stop-color="#ff0000"/><stop offset="1" stop-color="#ff0000"/></linearGradient><linearGradient id="f56" gradientUnits="userSpaceOnUse" x1="895" x2="1041" y1="0" y2="0"><stop offset="0" stop-color="#ffcb00"/><stop offset="0.055" stop-color="#fffa00"/><stop offset="0.062" stop-color="#ffff07"/><stop offset="0.068" stop-color="#fbff25"/><stop offset="0.096" stop-color="#edff56"/><stop offset="0.171" stop-color="#c1ffa3"/><stop offset="0.267" stop-color="#74ffe3"/><stop offset="0.308" stop-color="#3ffff7"/><stop offset="0.329" stop-color="#07feff"/><stop offset="0.349" stop-color="#26f5ff"/><stop offset="0.418" stop-color="#3fe2ff"/><stop offset="0.521" stop-color="#3de5ff"/><stop offset="0.575" stop-color="#22f7ff"/><stop offset="0.589" stop-color="#0cfdff"/><stop offset="0.616" stop-color="#4bfff4"/><stop offset="0.671" stop-color="#8fffd3"/><stop offset="0.767" stop-color="#d8ff81"/><stop offset="0.815" stop-color="#f5ff3f"/><stop offset="0.836" stop-color="#fffb00"/><stop offset="0.911" stop-color="#ff9600"/><stop offset="0.952" stop-color="#ff4400"/><stop offset="0.959" stop-color="#ff2e00"/><stop offset="0.966" stop-color="#ff0000"/><stop offset="1" stop-color="#ff0000"/></linearGradient><linearGradient id="f57" gradientUnits="userSpaceOnUse" x1="895" x2="1044" y1="0" y2="0"><stop offset="0" stop-color="#ffc600"/><stop offset="0.06" stop-color="#fffd00"/><stop offset="0.074" stop-color="#f9ff2e"/><stop offset="0.107" stop-color="#e7ff65"/><stop offset="0.188" stop-color="#b3ffb3"/><stop offset="0.268" stop-color="#6cffe8"/><stop offset="0.302" stop-color="#3afff9"/><stop offset="0.309" stop-color="#29fffc"/><stop offset="0.315" stop-color="#09ffff"/><stop offset="0.349" stop-color="#2ff0ff"/><stop offset="0.43" stop-color="#45dbff"/><stop offset="0.523" stop-color="#41e0ff"/><stop offset="0.584" stop-color="#26f5ff"/><stop offset="0.604" stop-color="#09ffff"/><stop offset="0.611" stop-color="#2bfffb"/><stop offset="0.638" stop-color="#61ffec"/><stop offset="0.698" stop-color="#a4ffc2"/><stop offset="0.779" stop-color="#e0ff74"/><stop offset="0.819" stop-color="#f8ff34"/><stop offset="0.832" stop-color="#fffd00"/><stop offset="0.906" stop-color="#ff9700"/><stop offset="0.94" stop-color="#ff5800"/><stop offset="0.953" stop-color="#ff3000"/><stop offset="0.96" stop-color="#ff0100"/><stop offset="1" stop-color="#ff0000"/></linearGradient><linearGradient id="f58" gradientUnits="userSpaceOnUse" x1="895" x2="1046" y1="0" y2="0"><stop offset="0" stop-color="#ffc300"/><stop offset="0.06" stop-color="#fffa00"/><stop offset="0.086" stop-color="#f4ff44"/><stop offset="0.139" stop-color="#d4ff88"/><stop offset="0.238" stop-color="#87ffd8"/><stop offset="0.285" stop-color="#4ffff3"/><stop offset="0.305" stop-color="#1ffffd"/><stop offset="0.311" stop-color="#07feff"/><stop offset="0.325" stop-color="#22f7ff"/><stop offset="0.377" stop-color="#40e1ff"/><stop offset="0.477" stop-color="#4ad3ff"/><stop offset="0.57" stop-color="#39e8ff"/><stop offset="0.603" stop-color="#20f8ff"/><stop offset="0.616" stop-color="#05ffff"/><stop offset="0.623" stop-color="#2cfffb"/><stop offset="0.649" stop-color="#64ffeb"/><stop offset="0.715" stop-color="#acffba"/><stop offset="0.795" stop-color="#e7ff66"/><stop offset="0.821" stop-color="#f7ff38"/><stop offset="0.828" stop-color="#fbff26"/><stop offset="0.834" stop-color="#ffff00"/><stop offset="0.907" stop-color="#ff9900"/><stop offset="0.94" stop-color="#ff5a00"/><stop offset="0.954" stop-color="#ff3200"/><stop offset="0.96" stop-color="#ff0800"/><stop offset="0.974" stop-color="#ff0000"/><stop offset="1" stop-color="#ff0000"/></linearGradient><linearGradient id="f59" gradientUnits="userSpaceOnUse" x1="895" x2="1049" y1="0" y2="0"><stop offset="0" stop-color="#ffc000"/><stop offset="0.065" stop-color="#fffe00"/><stop offset="0.071" stop-color="#fcff20"/><stop offset="0.097" stop-color="#edff56"/><stop offset="0.162" stop-color="#c3ffa0"/><stop offset="0.247" stop-color="#79ffe1"/><stop offset="0.286" stop-color="#3ffff7"/><stop offset="0.292" stop-color="#2ffffb"/><stop offset="0.299" stop-color="#13fffe"/><stop offset="0.305" stop-color="#10fcff"/><stop offset="0.325" stop-color="#2cf2ff"/><stop offset="0.383" stop-color="#46daff"/><stop offset="0.481" stop-color="#4dceff"/><stop offset="0.578" stop-color="#3be6ff"/><stop offset="0.61" stop-color="#20f8ff"/><stop offset="0.623" stop-color="#0ffffe"/><stop offset="0.63" stop-color="#30fffb"/><stop offset="0.656" stop-color="#67ffea"/><stop offset="0.721" stop-color="#b0ffb6"/><stop offset="0.792" stop-color="#e5ff69"/><stop offset="0.818" stop-color="#f6ff3c"/><stop offset="0.825" stop-color="#faff2b"/><stop offset="0.831" stop-color="#feff0d"/><stop offset="0.838" stop-color="#fff900"/><stop offset="0.909" stop-color="#ff9000"/><stop offset="0.942" stop-color="#ff4a00"/><stop offset="0.948" stop-color="#ff3500"/><stop offset="0.955" stop-color="#ff1100"/><stop offset="0.961" stop-color="#ff0000"/><stop offset="1" stop-color="#ff0000"/></linearGradient><linearGradient id="f60" gradientUnits="userSpaceOnUse" x1="895" x2="1052" y1="0" y2="0"><stop offset="0" stop-color="#ffbd00"/><stop offset="0.064" stop-color="#fffc00"/><stop offset="0.083" stop-color="#f6ff3c"/><stop offset="0.127" stop-color="#daff7e"/><stop offset="0.21" stop-color="#9affcb"/><stop offset="0.268" stop-color="#55fff1"/><stop offset="0.287" stop-color="#28fffc"/><stop offset="0.293" stop-color="#01ffff"/><stop offset="0.306" stop-color="#21f7ff"/><stop offset="0.344" stop-color="#3ee4ff"/><stop offset="0.446" stop-color="#4fc8ff"/><stop offset="0.541" stop-color="#4ad4ff"/><stop offset="0.599" stop-color="#34ecff"/><stop offset="0.618" stop-color="#1ff8ff"/><stop offset="0.624" stop-color="#11fcff"/><stop offset="0.631" stop-color="#19fffe"/><stop offset="0.637" stop-color="#35fffa"/><stop offset="0.662" stop-color="#6affe8"/><stop offset="0.72" stop-color="#adffb9"/><stop offset="0.79" stop-color="#e4ff6c"/><stop offset="0.822" stop-color="#f9ff30"/><stop offset="0.834" stop-color="#fffa00"/><stop offset="0.904" stop-color="#ff9200"/><stop offset="0.936" stop-color="#ff4e00"/><stop offset="0.949" stop-color="#ff1d00"/><stop offset="0.955" stop-color="#ff0000"/><stop offset="1" stop-color="#ff0000"/></linearGradient><linearGradient id="f61" gradientUnits="userSpaceOnUse" x1="895" x2="1054" y1="0" y2="0"><stop offset="0" stop-color="#ffba00"/><stop offset="0.063" stop-color="#fffa00"/><stop offset="0.088" stop-color="#f3ff46"/><stop offset="0.138" stop-color="#d2ff8b"/><stop offset="0.226" stop-color="#86ffd9"/><stop offset="0.27" stop-color="#47fff5"/><stop offset="0.289" stop-color="#09feff"/><stop offset="0.302" stop-color="#24f6ff"/><stop offset="0.34" stop-color="#40e1ff"/><stop offset="0.44" stop-color="#51c4ff"/><stop offset="0.535" stop-color="#4ecbff"/><stop offset="0.604" stop-color="#38e9ff"/><stop offset="0.629" stop-color="#1df9ff"/><stop offset="0.635" stop-color="#0cfdff"/><stop offset="0.654" stop-color="#4bfff4"/><stop offset="0.686" stop-color="#80ffdc"/><stop offset="0.761" stop-color="#cbff96"/><stop offset="0.811" stop-color="#f0ff51"/><stop offset="0.83" stop-color="#fcff1f"/><stop offset="0.836" stop-color="#fffc00"/><stop offset="0.899" stop-color="#ffa000"/><stop offset="0.937" stop-color="#ff5300"/><stop offset="0.95" stop-color="#ff2d00"/><stop offset="0.956" stop-color="#ff0000"/><stop offset="1" stop-color="#ff0000"/></linearGradient><linearGradient id="f62" gradientUnits="userSpaceOnUse" x1="895" x2="1057" y1="0" y2="0"><stop offset="0" stop-color="#ffb800"/><stop offset="0.068" stop-color="#ffff00"/><stop offset="0.074" stop-color="#fcff24"/><stop offset="0.099" stop-color="#ecff59"/><stop offset="0.16" stop-color="#c0ffa4"/><stop offset="0.235" stop-color="#78ffe2"/><stop offset="0.265" stop-color="#44fff6"/><stop offset="0.272" stop-color="#34fffa"/><stop offset="0.278" stop-color="#19fffe"/><stop offset="0.284" stop-color="#10fdff"/><stop offset="0.302" stop-color="#2ef1ff"/><stop offset="0.358" stop-color="#4ad4ff"/><stop offset="0.451" stop-color="#53bdff"/><stop offset="0.543" stop-color="#4fc9ff"/><stop offset="0.611" stop-color="#38e9ff"/><stop offset="0.636" stop-color="#19faff"/><stop offset="0.642" stop-color="#01ffff"/><stop offset="0.648" stop-color="#2efffb"/><stop offset="0.667" stop-color="#5effed"/><stop offset="0.716" stop-color="#a1ffc5"/><stop offset="0.79" stop-color="#e1ff72"/><stop offset="0.821" stop-color="#f7ff38"/><stop offset="0.827" stop-color="#fbff25"/><stop offset="0.833" stop-color="#fffe00"/><stop offset="0.907" stop-color="#ff8d00"/><stop offset="0.944" stop-color="#ff3d00"/><stop offset="0.951" stop-color="#ff2800"/><stop offset="0.957" stop-color="#ff0000"/><stop offset="1" stop-color="#ff0000"/></linearGradient><linearGradient id="f63" gradientUnits="userSpaceOnUse" x1="895" x2="1059" y1="0" y2="0"><stop offset="0" stop-color="#ffb600"/><stop offset="0.067" stop-color="#fffd00"/><stop offset="0.073" stop-color="#fcff1f"/><stop offset="0.091" stop-color="#f1ff4d"/><stop offset="0.14" stop-color="#cfff90"/><stop offset="0.226" stop-color="#7fffdd"/><stop offset="0.256" stop-color="#50fff3"/><stop offset="0.268" stop-color="#30fffb"/><stop offset="0.274" stop-color="#0ffffe"/><stop offset="0.305" stop-color="#35ecff"/><stop offset="0.366" stop-color="#4eccff"/><stop offset="0.463" stop-color="#55b7ff"/><stop offset="0.555" stop-color="#50c7ff"/><stop offset="0.622" stop-color="#37eaff"/><stop offset="0.64" stop-color="#21f7ff"/><stop offset="0.646" stop-color="#12fcff"/><stop offset="0.652" stop-color="#1bfffd"/><stop offset="0.659" stop-color="#38fff9"/><stop offset="0.683" stop-color="#6effe7"/><stop offset="0.744" stop-color="#b6ffb0"/><stop offset="0.805" stop-color="#e9ff61"/><stop offset="0.829" stop-color="#faff2a"/><stop offset="0.835" stop-color="#feff09"/><stop offset="0.848" stop-color="#fff000"/><stop offset="0.927" stop-color="#ff7200"/><stop offset="0.951" stop-color="#ff3c00"/><stop offset="0.957" stop-color="#ff2700"/><stop offset="0.963" stop-color="#ff0000"/><stop offset="1" stop-color="#ff0000"/></linearGradient><linearGradient id="f64" gradientUnits="userSpaceOnUse" x1="895" x2="1062" y1="0" y2="0"><stop offset="0" stop-color="#ffb400"/><stop offset="0.066" stop-color="#fffc00"/><stop offset="0.078" stop-color="#f9ff2f"/><stop offset="0.108" stop-color="#e5ff69"/><stop offset="0.18" stop-color="#acffba"/><stop offset="0.24" stop-color="#65ffeb"/><stop offset="0.257" stop-color="#40fff7"/><stop offset="0.263" stop-color="#2cfffb"/><stop offset="0.269" stop-color="#01ffff"/><stop offset="0.281" stop-color="#23f6ff"/><stop offset="0.317" stop-color="#42dfff"/><stop offset="0.413" stop-color="#55b8ff"/><stop offset="0.503" stop-color="#55b5ff"/><stop offset="0.587" stop-color="#4bd1ff"/><stop offset="0.635" stop-color="#2ff0ff"/><stop offset="0.647" stop-color="#1df9ff"/><stop offset="0.653" stop-color="#08feff"/><stop offset="0.665" stop-color="#3ffff7"/><stop offset="0.695" stop-color="#7bffe0"/><stop offset="0.76" stop-color="#c5ff9e"/><stop offset="0.814" stop-color="#f1ff4d"/><stop offset="0.826" stop-color="#f9ff2f"/><stop offset="0.838" stop-color="#fffa00"/><stop offset="0.928" stop-color="#ff7100"/><stop offset="0.952" stop-color="#ff3b00"/><stop offset="0.958" stop-color="#ff2600"/><stop offset="0.964" stop-color="#ff0000"/><stop offset="1" stop-color="#ff0000"/></linearGradient><linearGradient id="f65" gradientUnits="userSpaceOnUse" x1="895" x2="1064" y1="0" y2="0"><stop offset="0" stop-color="#ffb300"/><stop offset="0.065" stop-color="#fffb00"/><stop offset="0.083" stop-color="#f6ff3c"/><stop offset="0.118" stop-color="#ddff78"/><stop offset="0.201" stop-color="#94ffcf"/><stop offset="0.243" stop-color="#5affef"/><stop offset="0.26" stop-color="#29fffc"/><stop offset="0.266" stop-color="#05feff"/><stop offset="0.278" stop-color="#25f5ff"/><stop offset="0.314" stop-color="#43deff"/><stop offset="0.402" stop-color="#55b6ff"/><stop offset="0.491" stop-color="#56aeff"/><stop offset="0.586" stop-color="#4ecbff"/><stop offset="0.639" stop-color="#34edff"/><stop offset="0.663" stop-color="#0affff"/><stop offset="0.669" stop-color="#32fffa"/><stop offset="0.692" stop-color="#6cffe7"/><stop offset="0.746" stop-color="#b2ffb4"/><stop offset="0.805" stop-color="#e7ff65"/><stop offset="0.828" stop-color="#f8ff33"/><stop offset="0.84" stop-color="#fffc00"/><stop offset="0.929" stop-color="#ff7a00"/><stop offset="0.959" stop-color="#ff3900"/><stop offset="0.964" stop-color="#ff2300"/><stop offset="0.97" stop-color="#ff0000"/><stop offset="1" stop-color="#ff0000"/></linearGradient><linearGradient id="f66" gradientUnits="userSpaceOnUse" x1="895" x2="1067" y1="0" y2="0"><stop offset="0" stop-color="#ffb200"/><stop offset="0.064" stop-color="#fffa00"/><stop offset="0.081" stop-color="#f6ff3b"/><stop offset="0.116" stop-color="#deff78"/><stop offset="0.198" stop-color="#94ffcf"/><stop offset="0.238" stop-color="#59fff0"/><stop offset="0.256" stop-color="#26fffc"/><stop offset="0.262" stop-color="#09feff"/><stop offset="0.273" stop-color="#27f5ff"/><stop offset="0.308" stop-color="#44dcff"/><stop offset="0.395" stop-color="#56b3ff"/><stop offset="0.488" stop-color="#57a9ff"/><stop offset="0.581" stop-color="#51c5ff"/><stop offset="0.64" stop-color="#38eaff"/><stop offset="0.657" stop-color="#21f7ff"/><stop offset="0.663" stop-color="#11fcff"/><stop offset="0.686" stop-color="#5bffef"/><stop offset="0.733" stop-color="#a3ffc3"/><stop offset="0.797" stop-color="#e1ff71"/><stop offset="0.826" stop-color="#f7ff38"/><stop offset="0.831" stop-color="#fbff26"/><stop offset="0.837" stop-color="#ffff00"/><stop offset="0.924" stop-color="#ff8200"/><stop offset="0.953" stop-color="#ff4700"/><stop offset="0.965" stop-color="#ff1d00"/><stop offset="0.971" stop-color="#ff0000"/><stop offset="1" stop-color="#ff0000"/></linearGradient><linearGradient id="f67" gradientUnits="userSpaceOnUse" x1="895" x2="1069" y1="0" y2="0"><stop offset="0" stop-color="#ffb100"/><stop offset="0.063" stop-color="#fff900"/><stop offset="0.069" stop-color="#feff0b"/><stop offset="0.075" stop-color="#fbff28"/><stop offset="0.098" stop-color="#ebff5c"/><stop offset="0.155" stop-color="#bdffa7"/><stop offset="0.213" stop-color="#7fffdd"/><stop offset="0.241" stop-color="#4bfff4"/><stop offset="0.259" stop-color="#0dfdff"/><stop offset="0.27" stop-color="#28f4ff"/><stop offset="0.305" stop-color="#45dbff"/><stop offset="0.397" stop-color="#56aeff"/><stop offset="0.489" stop-color="#57a4ff"/><stop offset="0.58" stop-color="#53bfff"/><stop offset="0.644" stop-color="#3be7ff"/><stop offset="0.667" stop-color="#1bfaff"/><stop offset="0.672" stop-color="#02ffff"/><stop offset="0.678" stop-color="#2ffffb"/><stop offset="0.695" stop-color="#62ffec"/><stop offset="0.736" stop-color="#a0ffc5"/><stop offset="0.805" stop-color="#e5ff6a"/><stop offset="0.833" stop-color="#f9ff2e"/><stop offset="0.845" stop-color="#fffb00"/><stop offset="0.931" stop-color="#ff8000"/><stop offset="0.96" stop-color="#ff4300"/><stop offset="0.966" stop-color="#ff3000"/><stop offset="0.971" stop-color="#ff1000"/><stop offset="0.977" stop-color="#ff0000"/><stop offset="1" stop-color="#ff0000"/></linearGradient><linearGradient id="f68" gradientUnits="userSpaceOnUse" x1="895" x2="1072" y1="0" y2="0"><stop offset="0" stop-color="#ffb000"/><stop offset="0.068" stop-color="#ffff05"/><stop offset="0.073" stop-color="#fbff26"/><stop offset="0.096" stop-color="#ebff5b"/><stop offset="0.153" stop-color="#beffa7"/><stop offset="0.215" stop-color="#76ffe2"/><stop offset="0.237" stop-color="#4afff4"/><stop offset="0.254" stop-color="#10fdff"/><stop offset="0.271" stop-color="#31efff"/><stop offset="0.316" stop-color="#4dcfff"/><stop offset="0.407" stop-color="#57a6ff"/><stop offset="0.497" stop-color="#58a1ff"/><stop offset="0.588" stop-color="#53bfff"/><stop offset="0.644" stop-color="#3ee4ff"/><stop offset="0.667" stop-color="#22f7ff"/><stop offset="0.672" stop-color="#12fcff"/><stop offset="0.678" stop-color="#1efffd"/><stop offset="0.684" stop-color="#3bfff8"/><stop offset="0.706" stop-color="#73ffe4"/><stop offset="0.757" stop-color="#b9ffac"/><stop offset="0.819" stop-color="#f0ff50"/><stop offset="0.836" stop-color="#fbff24"/><stop offset="0.842" stop-color="#ffff00"/><stop offset="0.927" stop-color="#ff8700"/><stop offset="0.955" stop-color="#ff4d00"/><stop offset="0.966" stop-color="#ff2700"/><stop offset="0.972" stop-color="#ff0000"/><stop offset="1" stop-color="#ff0000"/></linearGradient><linearGradient id="f69" gradientUnits="userSpaceOnUse" x1="895" x2="1074" y1="0" y2="0"><stop offset="0" stop-color="#ffaf00"/><stop offset="0.067" stop-color="#ffff00"/><stop offset="0.073" stop-color="#fbff24"/><stop offset="0.095" stop-color="#ecff5a"/><stop offset="0.151" stop-color="#beffa6"/><stop offset="0.207" stop-color="#7fffdd"/><stop offset="0.235" stop-color="#49fff5"/><stop offset="0.24" stop-color="#37fff9"/><stop offset="0.246" stop-color="#1afffd"/><stop offset="0.251" stop-color="#13fcff"/><stop offset="0.268" stop-color="#32eeff"/><stop offset="0.313" stop-color="#4dcdff"/><stop offset="0.402" stop-color="#57a3ff"/><stop offset="0.492" stop-color="#589bff"/><stop offset="0.581" stop-color="#55b6ff"/><stop offset="0.642" stop-color="#44ddff"/><stop offset="0.67" stop-color="#28f4ff"/><stop offset="0.676" stop-color="#1cf9ff"/><stop offset="0.682" stop-color="#03ffff"/><stop offset="0.687" stop-color="#2ffffb"/><stop offset="0.698" stop-color="#56fff1"/><stop offset="0.732" stop-color="#95ffcf"/><stop offset="0.799" stop-color="#ddff79"/><stop offset="0.832" stop-color="#f6ff3d"/><stop offset="0.844" stop-color="#fdff17"/><stop offset="0.849" stop-color="#fffb00"/><stop offset="0.927" stop-color="#ff8e00"/><stop offset="0.961" stop-color="#ff4700"/><stop offset="0.972" stop-color="#ff2000"/><stop offset="0.978" stop-color="#ff0000"/><stop offset="1" stop-color="#ff0000"/></linearGradient><linearGradient id="f70" gradientUnits="userSpaceOnUse" x1="895" x2="1077" y1="0" y2="0"><stop offset="0" stop-color="#ffaf00"/><stop offset="0.066" stop-color="#fffe00"/><stop offset="0.071" stop-color="#fcff22"/><stop offset="0.088" stop-color="#f0ff4f"/><stop offset="0.143" stop-color="#c4ffa0"/><stop offset="0.203" stop-color="#7fffdd"/><stop offset="0.231" stop-color="#48fff5"/><stop offset="0.236" stop-color="#35fffa"/><stop offset="0.242" stop-color="#15fffe"/><stop offset="0.247" stop-color="#15fbff"/><stop offset="0.269" stop-color="#39e9ff"/><stop offset="0.324" stop-color="#52c1ff"/><stop offset="0.412" stop-color="#589cff"/><stop offset="0.5" stop-color="#5898ff"/><stop offset="0.588" stop-color="#55b6ff"/><stop offset="0.654" stop-color="#3fe3ff"/><stop offset="0.676" stop-color="#23f7ff"/><stop offset="0.681" stop-color="#12fcff"/><stop offset="0.687" stop-color="#20fffd"/><stop offset="0.698" stop-color="#50fff3"/><stop offset="0.725" stop-color="#8affd6"/><stop offset="0.78" stop-color="#cdff93"/><stop offset="0.83" stop-color="#f4ff43"/><stop offset="0.841" stop-color="#fcff24"/><stop offset="0.846" stop-color="#ffff00"/><stop offset="0.918" stop-color="#ff9c00"/><stop offset="0.962" stop-color="#ff4700"/><stop offset="0.973" stop-color="#ff2600"/><stop offset="0.978" stop-color="#ff0600"/><stop offset="1" stop-color="#ff0000"/></linearGradient><linearGradient id="f71" gradientUnits="userSpaceOnUse" x1="895" x2="1079" y1="0" y2="0"><stop offset="0" stop-color="#ffae00"/><stop offset="0.065" stop-color="#fffe00"/><stop offset="0.071" stop-color="#fcff21"/><stop offset="0.087" stop-color="#f1ff4e"/><stop offset="0.13" stop-color="#ceff92"/><stop offset="0.196" stop-color="#87ffd8"/><stop offset="0.223" stop-color="#56fff1"/><stop offset="0.234" stop-color="#33fffa"/><stop offset="0.239" stop-color="#0efffe"/><stop offset="0.261" stop-color="#34ecff"/><stop offset="0.31" stop-color="#50c7ff"/><stop offset="0.397" stop-color="#589cff"/><stop offset="0.484" stop-color="#5792ff"/><stop offset="0.571" stop-color="#57a8ff"/><stop offset="0.647" stop-color="#48d7ff"/><stop offset="0.674" stop-color="#31efff"/><stop offset="0.685" stop-color="#1bfaff"/><stop offset="0.69" stop-color="#04ffff"/><stop offset="0.696" stop-color="#34fffa"/><stop offset="0.712" stop-color="#68ffe9"/><stop offset="0.75" stop-color="#a7ffbf"/><stop offset="0.821" stop-color="#ebff5d"/><stop offset="0.842" stop-color="#faff2d"/><stop offset="0.853" stop-color="#fffc00"/><stop offset="0.929" stop-color="#ff9000"/><stop offset="0.978" stop-color="#ff3500"/><stop offset="0.984" stop-color="#ff2500"/><stop offset="0.989" stop-color="#ff0a00"/><stop offset="1" stop-color="#ff0000"/></linearGradient><linearGradient id="f72" gradientUnits="userSpaceOnUse" x1="895" x2="1082" y1="0" y2="0"><stop offset="0" stop-color="#ffae00"/><stop offset="0.064" stop-color="#fffe00"/><stop offset="0.07" stop-color="#fcff20"/><stop offset="0.091" stop-color="#edff58"/><stop offset="0.144" stop-color="#bfffa5"/><stop offset="0.198" stop-color="#7fffdd"/><stop offset="0.225" stop-color="#46fff6"/><stop offset="0.23" stop-color="#32fffa"/><stop offset="0.235" stop-color="#06ffff"/><stop offset="0.246" stop-color="#26f5ff"/><stop offset="0.278" stop-color="#46daff"/><stop offset="0.353" stop-color="#57a9ff"/><stop offset="0.439" stop-color="#578fff"/><stop offset="0.524" stop-color="#5795ff"/><stop offset="0.61" stop-color="#54b9ff"/><stop offset="0.663" stop-color="#3fe2ff"/><stop offset="0.684" stop-color="#21f8ff"/><stop offset="0.69" stop-color="#0bfdff"/><stop offset="0.701" stop-color="#45fff6"/><stop offset="0.722" stop-color="#7bffdf"/><stop offset="0.765" stop-color="#b9ffad"/><stop offset="0.829" stop-color="#f1ff4d"/><stop offset="0.845" stop-color="#fbff25"/><stop offset="0.85" stop-color="#ffff05"/><stop offset="0.936" stop-color="#ff8800"/><stop offset="0.984" stop-color="#ff3700"/><stop offset="1" stop-color="#ff0000"/></linearGradient><linearGradient id="f73" gradientUnits="userSpaceOnUse" x1="895" x2="1085" y1="0" y2="0"><stop offset="0" stop-color="#ffae00"/><stop offset="0.063" stop-color="#fffe00"/><stop offset="0.068" stop-color="#fcff1f"/><stop offset="0.084" stop-color="#f1ff4d"/><stop offset="0.132" stop-color="#c9ff98"/><stop offset="0.189" stop-color="#87ffd8"/><stop offset="0.216" stop-color="#54fff1"/><stop offset="0.226" stop-color="#30fffb"/><stop offset="0.232" stop-color="#01ffff"/><stop offset="0.237" stop-color="#1afaff"/><stop offset="0.258" stop-color="#3be6ff"/><stop offset="0.311" stop-color="#53beff"/><stop offset="0.395" stop-color="#5794ff"/><stop offset="0.479" stop-color="#568aff"/><stop offset="0.563" stop-color="#589eff"/><stop offset="0.647" stop-color="#4bd2ff"/><stop offset="0.679" stop-color="#2ff0ff"/><stop offset="0.689" stop-color="#15fbff"/><stop offset="0.695" stop-color="#1efffd"/><stop offset="0.7" stop-color="#3efff8"/><stop offset="0.721" stop-color="#78ffe1"/><stop offset="0.763" stop-color="#b7ffaf"/><stop offset="0.826" stop-color="#efff52"/><stop offset="0.842" stop-color="#f9ff2e"/><stop offset="0.853" stop-color="#fffd00"/><stop offset="0.937" stop-color="#ff8d00"/><stop offset="0.984" stop-color="#ff4300"/><stop offset="0.995" stop-color="#ff2900"/><stop offset="1" stop-color="#ff1200"/></linearGradient><linearGradient id="f74" gradientUnits="userSpaceOnUse" x1="895" x2="1087" y1="0" y2="0"><stop offset="0" stop-color="#ffaf00"/><stop offset="0.062" stop-color="#fffd00"/><stop offset="0.068" stop-color="#fcff1f"/><stop offset="0.083" stop-color="#f1ff4d"/><stop offset="0.125" stop-color="#ceff91"/><stop offset="0.182" stop-color="#8fffd3"/><stop offset="0.214" stop-color="#54fff1"/><stop offset="0.224" stop-color="#2efffb"/><stop offset="0.229" stop-color="#03ffff"/><stop offset="0.234" stop-color="#1cf9ff"/><stop offset="0.255" stop-color="#3ce6ff"/><stop offset="0.307" stop-color="#53bdff"/><stop offset="0.391" stop-color="#5792ff"/><stop offset="0.474" stop-color="#5686ff"/><stop offset="0.557" stop-color="#5896ff"/><stop offset="0.641" stop-color="#50c7ff"/><stop offset="0.677" stop-color="#39e8ff"/><stop offset="0.693" stop-color="#1cf9ff"/><stop offset="0.698" stop-color="#03ffff"/><stop offset="0.703" stop-color="#35fffa"/><stop offset="0.719" stop-color="#69ffe9"/><stop offset="0.755" stop-color="#a8ffbe"/><stop offset="0.823" stop-color="#e9ff60"/><stop offset="0.844" stop-color="#f8ff37"/><stop offset="0.849" stop-color="#fbff27"/><stop offset="0.854" stop-color="#feff0c"/><stop offset="0.859" stop-color="#fffa00"/><stop offset="0.943" stop-color="#ff9300"/><stop offset="0.99" stop-color="#ff4c00"/><stop offset="1" stop-color="#ff3500"/></linearGradient><linearGradient id="f75" gradientUnits="userSpaceOnUse" x1="895" x2="1090" y1="0" y2="0"><stop offset="0" stop-color="#ffaf00"/><stop offset="0.062" stop-color="#fffd00"/><stop offset="0.067" stop-color="#fcff1f"/><stop offset="0.082" stop-color="#f1ff4d"/><stop offset="0.123" stop-color="#ceff91"/><stop offset="0.179" stop-color="#8fffd3"/><stop offset="0.21" stop-color="#53fff2"/><stop offset="0.221" stop-color="#2dfffb"/><stop offset="0.226" stop-color="#05feff"/><stop offset="0.231" stop-color="#1df9ff"/><stop offset="0.251" stop-color="#3ce5ff"/><stop offset="0.308" stop-color="#55b8ff"/><stop offset="0.39" stop-color="#578fff"/><stop offset="0.472" stop-color="#5582ff"/><stop offset="0.554" stop-color="#5791ff"/><stop offset="0.636" stop-color="#53c0ff"/><stop offset="0.677" stop-color="#3ce6ff"/><stop offset="0.692" stop-color="#22f7ff"/><stop offset="0.697" stop-color="#0efdff"/><stop offset="0.708" stop-color="#44fff6"/><stop offset="0.728" stop-color="#7bffdf"/><stop offset="0.769" stop-color="#b9ffad"/><stop offset="0.836" stop-color="#f2ff4a"/><stop offset="0.851" stop-color="#fcff20"/><stop offset="0.856" stop-color="#ffff00"/><stop offset="0.938" stop-color="#ff9e00"/><stop offset="0.995" stop-color="#ff4900"/><stop offset="1" stop-color="#ff3e00"/></linearGradient><linearGradient id="f76" gradientUnits="userSpaceOnUse" x1="895" x2="1092" y1="0" y2="0"><stop offset="0" stop-color="#ffaf00"/><stop offset="0.061" stop-color="#fffd00"/><stop offset="0.066" stop-color="#fcff1f"/><stop offset="0.081" stop-color="#f1ff4d"/><stop offset="0.122" stop-color="#cfff90"/><stop offset="0.183" stop-color="#87ffd8"/><stop offset="0.208" stop-color="#53fff2"/><stop offset="0.218" stop-color="#2cfffb"/><stop offset="0.223" stop-color="#07feff"/><stop offset="0.234" stop-color="#29f4ff"/><stop offset="0.264" stop-color="#48d7ff"/><stop offset="0.345" stop-color="#589fff"/><stop offset="0.426" stop-color="#5582ff"/><stop offset="0.508" stop-color="#5581ff"/><stop offset="0.589" stop-color="#589cff"/><stop offset="0.665" stop-color="#4ad4ff"/><stop offset="0.69" stop-color="#31efff"/><stop offset="0.701" stop-color="#18faff"/><stop offset="0.706" stop-color="#17fffe"/><stop offset="0.711" stop-color="#3bfff8"/><stop offset="0.726" stop-color="#6cffe7"/><stop offset="0.761" stop-color="#a9ffbd"/><stop offset="0.822" stop-color="#e5ff6a"/><stop offset="0.853" stop-color="#f9ff2f"/><stop offset="0.858" stop-color="#fcff1e"/><stop offset="0.863" stop-color="#fffe00"/><stop offset="0.944" stop-color="#ffa100"/><stop offset="1" stop-color="#ff4f00"/></linearGradient><linearGradient id="f77" gradientUnits="userSpaceOnUse" x1="895" x2="1095" y1="0" y2="0"><stop offset="0" stop-color="#ffaf00"/><stop offset="0.06" stop-color="#fffd00"/><stop offset="0.065" stop-color="#fcff1f"/><stop offset="0.085" stop-color="#edff57"/><stop offset="0.135" stop-color="#c0ffa4"/><stop offset="0.185" stop-color="#7fffdd"/><stop offset="0.205" stop-color="#53fff2"/><stop offset="0.215" stop-color="#2bfffb"/><stop offset="0.22" stop-color="#08feff"/><stop offset="0.225" stop-color="#1ef9ff"/><stop offset="0.25" stop-color="#41e0ff"/><stop offset="0.305" stop-color="#56b3ff"/><stop offset="0.385" stop-color="#5689ff"/><stop offset="0.465" stop-color="#537aff"/><stop offset="0.545" stop-color="#5686ff"/><stop offset="0.62" stop-color="#57abff"/><stop offset="0.675" stop-color="#45dcff"/><stop offset="0.695" stop-color="#2cf2ff"/><stop offset="0.7" stop-color="#20f8ff"/><stop offset="0.705" stop-color="#07feff"/><stop offset="0.71" stop-color="#30fffb"/><stop offset="0.72" stop-color="#59ffef"/><stop offset="0.745" stop-color="#90ffd2"/><stop offset="0.8" stop-color="#d2ff8c"/><stop offset="0.85" stop-color="#f6ff3c"/><stop offset="0.86" stop-color="#fcff21"/><stop offset="0.865" stop-color="#ffff05"/><stop offset="0.945" stop-color="#ffa400"/><stop offset="1" stop-color="#ff5600"/></linearGradient><linearGradient id="f78" gradientUnits="userSpaceOnUse" x1="895" x2="1097" y1="0" y2="0"><stop offset="0" stop-color="#ffb000"/><stop offset="0.059" stop-color="#fffd00"/><stop offset="0.069" stop-color="#f9ff32"/><stop offset="0.099" stop-color="#e1ff72"/><stop offset="0.168" stop-color="#96ffcd"/><stop offset="0.198" stop-color="#60ffed"/><stop offset="0.208" stop-color="#42fff7"/><stop offset="0.213" stop-color="#2bfffb"/><stop offset="0.218" stop-color="#08feff"/><stop offset="0.223" stop-color="#1ef9ff"/><stop offset="0.243" stop-color="#3de5ff"/><stop offset="0.292" stop-color="#54baff"/><stop offset="0.371" stop-color="#578cff"/><stop offset="0.45" stop-color="#5378ff"/><stop offset="0.53" stop-color="#547dff"/><stop offset="0.609" stop-color="#589eff"/><stop offset="0.673" stop-color="#4ad4ff"/><stop offset="0.698" stop-color="#30efff"/><stop offset="0.708" stop-color="#15fbff"/><stop offset="0.713" stop-color="#1ffffd"/><stop offset="0.718" stop-color="#3ffff7"/><stop offset="0.733" stop-color="#6effe6"/><stop offset="0.767" stop-color="#a9ffbd"/><stop offset="0.827" stop-color="#e3ff6e"/><stop offset="0.861" stop-color="#f8ff34"/><stop offset="0.876" stop-color="#fffd00"/><stop offset="0.955" stop-color="#ffa100"/><stop offset="1" stop-color="#ff6400"/></linearGradient><linearGradient id="f79" gradientUnits="userSpaceOnUse" x1="895" x2="1100" y1="0" y2="0"><stop offset="0" stop-color="#ffb000"/><stop offset="0.059" stop-color="#fffd00"/><stop offset="0.068" stop-color="#f9ff32"/><stop offset="0.098" stop-color="#e1ff72"/><stop offset="0.166" stop-color="#96ffcd"/><stop offset="0.195" stop-color="#60ffed"/><stop offset="0.205" stop-color="#42fff7"/><stop offset="0.21" stop-color="#2bfffb"/><stop offset="0.215" stop-color="#08feff"/><stop offset="0.22" stop-color="#1ef9ff"/><stop offset="0.239" stop-color="#3de5ff"/><stop offset="0.288" stop-color="#54baff"/><stop offset="0.366" stop-color="#568bff"/><stop offset="0.444" stop-color="#5275ff"/><stop offset="0.522" stop-color="#5378ff"/><stop offset="0.6" stop-color="#5795ff"/><stop offset="0.668" stop-color="#4eccff"/><stop offset="0.698" stop-color="#34ecff"/><stop offset="0.707" stop-color="#1ff8ff"/><stop offset="0.712" stop-color="#03ffff"/><stop offset="0.717" stop-color="#33fffa"/><stop offset="0.727" stop-color="#5bffef"/><stop offset="0.756" stop-color="#98ffcc"/><stop offset="0.81" stop-color="#d4ff88"/><stop offset="0.859" stop-color="#f4ff42"/><stop offset="0.873" stop-color="#fcff1e"/><stop offset="0.878" stop-color="#ffff00"/><stop offset="0.956" stop-color="#ffa400"/><stop offset="1" stop-color="#ff6c00"/></linearGradient><linearGradient id="f80" gradientUnits="userSpaceOnUse" x1="895" x2="1102" y1="0" y2="0"><stop offset="0" stop-color="#ffb000"/><stop offset="0.058" stop-color="#fffe00"/><stop offset="0.063" stop-color="#fcff1f"/><stop offset="0.077" stop-color="#f1ff4c"/><stop offset="0.13" stop-color="#c0ffa4"/><stop offset="0.179" stop-color="#7fffdd"/><stop offset="0.203" stop-color="#43fff6"/><stop offset="0.208" stop-color="#2cfffb"/><stop offset="0.213" stop-color="#07feff"/><stop offset="0.217" stop-color="#1ef9ff"/><stop offset="0.237" stop-color="#3de5ff"/><stop offset="0.285" stop-color="#54baff"/><stop offset="0.362" stop-color="#568aff"/><stop offset="0.44" stop-color="#5172ff"/><stop offset="0.517" stop-color="#5172ff"/><stop offset="0.594" stop-color="#578cff"/><stop offset="0.667" stop-color="#51c4ff"/><stop offset="0.7" stop-color="#38e9ff"/><stop offset="0.71" stop-color="#26f5ff"/><stop offset="0.715" stop-color="#15fbff"/><stop offset="0.72" stop-color="#20fffd"/><stop offset="0.725" stop-color="#3ffff7"/><stop offset="0.744" stop-color="#79ffe1"/><stop offset="0.783" stop-color="#b4ffb2"/><stop offset="0.855" stop-color="#eeff56"/><stop offset="0.879" stop-color="#fbff25"/><stop offset="0.889" stop-color="#fffc00"/><stop offset="0.966" stop-color="#ffa200"/><stop offset="1" stop-color="#ff7800"/></linearGradient><linearGradient id="f81" gradientUnits="userSpaceOnUse" x1="895" x2="1105" y1="0" y2="0"><stop offset="0" stop-color="#ffb100"/><stop offset="0.057" stop-color="#fffe00"/><stop offset="0.062" stop-color="#fcff1f"/><stop offset="0.076" stop-color="#f1ff4c"/><stop offset="0.124" stop-color="#c5ff9d"/><stop offset="0.171" stop-color="#88ffd8"/><stop offset="0.195" stop-color="#54fff1"/><stop offset="0.205" stop-color="#2dfffb"/><stop offset="0.21" stop-color="#06feff"/><stop offset="0.214" stop-color="#1df9ff"/><stop offset="0.233" stop-color="#3de5ff"/><stop offset="0.281" stop-color="#54baff"/><stop offset="0.357" stop-color="#5689ff"/><stop offset="0.433" stop-color="#5170ff"/><stop offset="0.51" stop-color="#506dff"/><stop offset="0.586" stop-color="#5583ff"/><stop offset="0.657" stop-color="#55b7ff"/><stop offset="0.695" stop-color="#41e0ff"/><stop offset="0.714" stop-color="#20f8ff"/><stop offset="0.719" stop-color="#06feff"/><stop offset="0.724" stop-color="#30fffa"/><stop offset="0.733" stop-color="#59ffef"/><stop offset="0.757" stop-color="#8effd3"/><stop offset="0.8" stop-color="#c3ffa0"/><stop offset="0.867" stop-color="#f2ff4a"/><stop offset="0.886" stop-color="#fdff1d"/><stop offset="0.89" stop-color="#ffff00"/><stop offset="0.967" stop-color="#ffa600"/><stop offset="1" stop-color="#ff7e00"/></linearGradient><linearGradient id="f82" gradientUnits="userSpaceOnUse" x1="895" x2="1107" y1="0" y2="0"><stop offset="0" stop-color="#ffb200"/><stop offset="0.057" stop-color="#fffe00"/><stop offset="0.061" stop-color="#fcff20"/><stop offset="0.075" stop-color="#f1ff4c"/><stop offset="0.113" stop-color="#cfff8f"/><stop offset="0.17" stop-color="#88ffd8"/><stop offset="0.193" stop-color="#54fff1"/><stop offset="0.203" stop-color="#2efffb"/><stop offset="0.208" stop-color="#04feff"/><stop offset="0.212" stop-color="#1cf9ff"/><stop offset="0.231" stop-color="#3de5ff"/><stop offset="0.278" stop-color="#54baff"/><stop offset="0.354" stop-color="#5688ff"/><stop offset="0.429" stop-color="#506eff"/><stop offset="0.505" stop-color="#4e68ff"/><stop offset="0.58" stop-color="#547bff"/><stop offset="0.651" stop-color="#57abff"/><stop offset="0.698" stop-color="#43ddff"/><stop offset="0.717" stop-color="#27f4ff"/><stop offset="0.722" stop-color="#18fbff"/><stop offset="0.726" stop-color="#19fffd"/><stop offset="0.731" stop-color="#3cfff8"/><stop offset="0.745" stop-color="#6cffe8"/><stop offset="0.778" stop-color="#a5ffc1"/><stop offset="0.84" stop-color="#dcff7b"/><stop offset="0.882" stop-color="#f6ff3d"/><stop offset="0.896" stop-color="#feff13"/><stop offset="0.901" stop-color="#fffd00"/><stop offset="0.976" stop-color="#ffa400"/><stop offset="1" stop-color="#ff8900"/></linearGradient><linearGradient id="f83" gradientUnits="userSpaceOnUse" x1="895" x2="1110" y1="0" y2="0"><stop offset="0" stop-color="#ffb300"/><stop offset="0.056" stop-color="#fffe00"/><stop offset="0.06" stop-color="#fcff21"/><stop offset="0.079" stop-color="#edff57"/><stop offset="0.13" stop-color="#bbffaa"/><stop offset="0.177" stop-color="#77ffe2"/><stop offset="0.195" stop-color="#45fff6"/><stop offset="0.2" stop-color="#30fffb"/><stop offset="0.205" stop-color="#02ffff"/><stop offset="0.209" stop-color="#1bf9ff"/><stop offset="0.228" stop-color="#3ce5ff"/><stop offset="0.274" stop-color="#54baff"/><stop offset="0.349" stop-color="#5688ff"/><stop offset="0.423" stop-color="#4f6cff"/><stop offset="0.498" stop-color="#4c63ff"/><stop offset="0.572" stop-color="#5173ff"/><stop offset="0.642" stop-color="#589fff"/><stop offset="0.693" stop-color="#49d4ff"/><stop offset="0.716" stop-color="#2ef1ff"/><stop offset="0.726" stop-color="#0cfdff"/><stop offset="0.735" stop-color="#45fff6"/><stop offset="0.753" stop-color="#7affe0"/><stop offset="0.795" stop-color="#b5ffb1"/><stop offset="0.87" stop-color="#ecff5a"/><stop offset="0.893" stop-color="#faff2e"/><stop offset="0.898" stop-color="#fcff1f"/><stop offset="0.902" stop-color="#ffff03"/><stop offset="0.977" stop-color="#ffa800"/><stop offset="1" stop-color="#ff8e00"/></linearGradient><linearGradient id="f84" gradientUnits="userSpaceOnUse" x1="895" x2="1112" y1="0" y2="0"><stop offset="0" stop-color="#ffb400"/><stop offset="0.055" stop-color="#ffff00"/><stop offset="0.06" stop-color="#fcff22"/><stop offset="0.078" stop-color="#edff57"/><stop offset="0.124" stop-color="#c1ffa3"/><stop offset="0.171" stop-color="#80ffdc"/><stop offset="0.189" stop-color="#56fff1"/><stop offset="0.198" stop-color="#31fffa"/><stop offset="0.203" stop-color="#02ffff"/><stop offset="0.207" stop-color="#1afaff"/><stop offset="0.226" stop-color="#3ce6ff"/><stop offset="0.272" stop-color="#54baff"/><stop offset="0.346" stop-color="#5687ff"/><stop offset="0.419" stop-color="#4e6aff"/><stop offset="0.493" stop-color="#4a5fff"/><stop offset="0.567" stop-color="#4f6bff"/><stop offset="0.641" stop-color="#5898ff"/><stop offset="0.696" stop-color="#4bd1ff"/><stop offset="0.719" stop-color="#33eeff"/><stop offset="0.733" stop-color="#09ffff"/><stop offset="0.737" stop-color="#36fff9"/><stop offset="0.751" stop-color="#67ffea"/><stop offset="0.783" stop-color="#9fffc6"/><stop offset="0.843" stop-color="#d6ff85"/><stop offset="0.889" stop-color="#f3ff47"/><stop offset="0.903" stop-color="#fbff26"/><stop offset="0.912" stop-color="#fffc00"/><stop offset="0.986" stop-color="#ffa700"/><stop offset="1" stop-color="#ff9800"/></linearGradient><linearGradient id="f85" gradientUnits="userSpaceOnUse" x1="895" x2="1115" y1="0" y2="0"><stop offset="0" stop-color="#ffb500"/><stop offset="0.055" stop-color="#ffff03"/><stop offset="0.059" stop-color="#fbff24"/><stop offset="0.077" stop-color="#edff57"/><stop offset="0.123" stop-color="#c1ffa3"/><stop offset="0.168" stop-color="#81ffdc"/><stop offset="0.191" stop-color="#48fff5"/><stop offset="0.195" stop-color="#33fffa"/><stop offset="0.2" stop-color="#0bffff"/><stop offset="0.214" stop-color="#2ff0ff"/><stop offset="0.245" stop-color="#4ccfff"/><stop offset="0.314" stop-color="#5898ff"/><stop offset="0.386" stop-color="#5171ff"/><stop offset="0.459" stop-color="#4a5eff"/><stop offset="0.532" stop-color="#495dff"/><stop offset="0.605" stop-color="#5379ff"/><stop offset="0.677" stop-color="#54b9ff"/><stop offset="0.714" stop-color="#3de4ff"/><stop offset="0.727" stop-color="#25f6ff"/><stop offset="0.732" stop-color="#14fcff"/><stop offset="0.736" stop-color="#20fffd"/><stop offset="0.741" stop-color="#3efff8"/><stop offset="0.759" stop-color="#74ffe4"/><stop offset="0.795" stop-color="#aaffbc"/><stop offset="0.868" stop-color="#e3ff6e"/><stop offset="0.9" stop-color="#f8ff36"/><stop offset="0.909" stop-color="#fdff18"/><stop offset="0.914" stop-color="#fffd00"/><stop offset="0.986" stop-color="#ffab00"/><stop offset="1" stop-color="#ff9d00"/></linearGradient><linearGradient id="f86" gradientUnits="userSpaceOnUse" x1="895" x2="1117" y1="0" y2="0"><stop offset="0" stop-color="#ffb700"/><stop offset="0.05" stop-color="#fffa00"/><stop offset="0.054" stop-color="#feff09"/><stop offset="0.059" stop-color="#fbff26"/><stop offset="0.077" stop-color="#edff58"/><stop offset="0.131" stop-color="#b6ffaf"/><stop offset="0.171" stop-color="#78ffe1"/><stop offset="0.189" stop-color="#49fff5"/><stop offset="0.194" stop-color="#35fff9"/><stop offset="0.198" stop-color="#12fffe"/><stop offset="0.225" stop-color="#40e2ff"/><stop offset="0.279" stop-color="#56b0ff"/><stop offset="0.351" stop-color="#557fff"/><stop offset="0.423" stop-color="#4c62ff"/><stop offset="0.495" stop-color="#4656ff"/><stop offset="0.568" stop-color="#4b61ff"/><stop offset="0.64" stop-color="#578eff"/><stop offset="0.698" stop-color="#4ecbff"/><stop offset="0.725" stop-color="#35ecff"/><stop offset="0.734" stop-color="#20f8ff"/><stop offset="0.739" stop-color="#0bfdff"/><stop offset="0.748" stop-color="#43fff6"/><stop offset="0.766" stop-color="#75ffe3"/><stop offset="0.802" stop-color="#a9ffbd"/><stop offset="0.874" stop-color="#e2ff6f"/><stop offset="0.905" stop-color="#f7ff39"/><stop offset="0.914" stop-color="#fcff1d"/><stop offset="0.919" stop-color="#ffff00"/><stop offset="0.991" stop-color="#ffaf00"/><stop offset="1" stop-color="#ffa700"/></linearGradient><linearGradient id="f87" gradientUnits="userSpaceOnUse" x1="895" x2="1119" y1="0" y2="0"><stop offset="0" stop-color="#ffb800"/><stop offset="0.049" stop-color="#fffb00"/><stop offset="0.062" stop-color="#f7ff38"/><stop offset="0.094" stop-color="#dcff7a"/><stop offset="0.152" stop-color="#98ffcc"/><stop offset="0.179" stop-color="#65ffeb"/><stop offset="0.192" stop-color="#38fff9"/><stop offset="0.196" stop-color="#17fffe"/><stop offset="0.201" stop-color="#15fbff"/><stop offset="0.214" stop-color="#35ecff"/><stop offset="0.259" stop-color="#53c0ff"/><stop offset="0.33" stop-color="#568aff"/><stop offset="0.402" stop-color="#4d67ff"/><stop offset="0.473" stop-color="#4554ff"/><stop offset="0.545" stop-color="#4655ff"/><stop offset="0.616" stop-color="#5276ff"/><stop offset="0.688" stop-color="#55b8ff"/><stop offset="0.723" stop-color="#3fe3ff"/><stop offset="0.741" stop-color="#1cf9ff"/><stop offset="0.746" stop-color="#01ffff"/><stop offset="0.75" stop-color="#31fffa"/><stop offset="0.763" stop-color="#62ffec"/><stop offset="0.795" stop-color="#98ffcc"/><stop offset="0.866" stop-color="#d8ff82"/><stop offset="0.911" stop-color="#f6ff3b"/><stop offset="0.929" stop-color="#fffb00"/><stop offset="1" stop-color="#ffb100"/></linearGradient><linearGradient id="f88" gradientUnits="userSpaceOnUse" x1="895" x2="1120" y1="0" y2="0"><stop offset="0" stop-color="#ffba00"/><stop offset="0.049" stop-color="#fffc00"/><stop offset="0.058" stop-color="#faff2c"/><stop offset="0.08" stop-color="#e8ff63"/><stop offset="0.142" stop-color="#a5ffc1"/><stop offset="0.178" stop-color="#66ffea"/><stop offset="0.191" stop-color="#3afff9"/><stop offset="0.196" stop-color="#1cfffd"/><stop offset="0.2" stop-color="#13fcff"/><stop offset="0.213" stop-color="#34edff"/><stop offset="0.249" stop-color="#4fc8ff"/><stop offset="0.32" stop-color="#5790ff"/><stop offset="0.391" stop-color="#4e6aff"/><stop offset="0.462" stop-color="#4453ff"/><stop offset="0.533" stop-color="#424eff"/><stop offset="0.604" stop-color="#4d67ff"/><stop offset="0.676" stop-color="#58a1ff"/><stop offset="0.724" stop-color="#46daff"/><stop offset="0.747" stop-color="#26f5ff"/><stop offset="0.751" stop-color="#17fbff"/><stop offset="0.756" stop-color="#14fffe"/><stop offset="0.76" stop-color="#37fff9"/><stop offset="0.773" stop-color="#64ffeb"/><stop offset="0.809" stop-color="#9cffc8"/><stop offset="0.88" stop-color="#dbff7d"/><stop offset="0.92" stop-color="#f5ff3f"/><stop offset="0.933" stop-color="#fdff16"/><stop offset="0.938" stop-color="#fffd00"/><stop offset="1" stop-color="#ffc000"/></linearGradient><linearGradient id="f89" gradientUnits="userSpaceOnUse" x1="895" x2="1120" y1="0" y2="0"><stop offset="0" stop-color="#ffbc00"/><stop offset="0.049" stop-color="#fffd00"/><stop offset="0.058" stop-color="#f9ff2f"/><stop offset="0.084" stop-color="#e4ff6c"/><stop offset="0.151" stop-color="#98ffcc"/><stop offset="0.182" stop-color="#5bffef"/><stop offset="0.191" stop-color="#3bfff8"/><stop offset="0.196" stop-color="#20fffd"/><stop offset="0.2" stop-color="#10fcff"/><stop offset="0.209" stop-color="#2bf2ff"/><stop offset="0.236" stop-color="#48d6ff"/><stop offset="0.307" stop-color="#589aff"/><stop offset="0.378" stop-color="#506fff"/><stop offset="0.449" stop-color="#4554ff"/><stop offset="0.52" stop-color="#3f48ff"/><stop offset="0.591" stop-color="#4758ff"/><stop offset="0.662" stop-color="#5689ff"/><stop offset="0.72" stop-color="#50c6ff"/><stop offset="0.751" stop-color="#35ecff"/><stop offset="0.764" stop-color="#11fcff"/><stop offset="0.778" stop-color="#4dfff4"/><stop offset="0.8" stop-color="#7effde"/><stop offset="0.862" stop-color="#c2ffa2"/><stop offset="0.924" stop-color="#efff52"/><stop offset="0.942" stop-color="#faff2d"/><stop offset="0.947" stop-color="#fcff1e"/><stop offset="0.951" stop-color="#ffff02"/><stop offset="1" stop-color="#ffd100"/></linearGradient><linearGradient id="f90" gradientUnits="userSpaceOnUse" x1="895" x2="1121" y1="0" y2="0"><stop offset="0" stop-color="#ffbf00"/><stop offset="0.049" stop-color="#ffff01"/><stop offset="0.053" stop-color="#fcff22"/><stop offset="0.071" stop-color="#eeff54"/><stop offset="0.119" stop-color="#c0ffa4"/><stop offset="0.164" stop-color="#83ffdb"/><stop offset="0.186" stop-color="#4efff3"/><stop offset="0.199" stop-color="#0dfdff"/><stop offset="0.208" stop-color="#2af3ff"/><stop offset="0.235" stop-color="#48d7ff"/><stop offset="0.305" stop-color="#589aff"/><stop offset="0.376" stop-color="#506fff"/><stop offset="0.447" stop-color="#4453ff"/><stop offset="0.518" stop-color="#3c44ff"/><stop offset="0.588" stop-color="#4451ff"/><stop offset="0.659" stop-color="#547eff"/><stop offset="0.721" stop-color="#53beff"/><stop offset="0.757" stop-color="#39e8ff"/><stop offset="0.77" stop-color="#1ef8ff"/><stop offset="0.774" stop-color="#09feff"/><stop offset="0.783" stop-color="#3ffff7"/><stop offset="0.801" stop-color="#6effe6"/><stop offset="0.845" stop-color="#a9ffbd"/><stop offset="0.916" stop-color="#e2ff6f"/><stop offset="0.951" stop-color="#f9ff31"/><stop offset="0.965" stop-color="#fffd00"/><stop offset="1" stop-color="#ffdf00"/></linearGradient><linearGradient id="f91" gradientUnits="userSpaceOnUse" x1="895" x2="1122" y1="0" y2="0"><stop offset="0" stop-color="#ffc200"/><stop offset="0.044" stop-color="#fffb00"/><stop offset="0.057" stop-color="#f7ff37"/><stop offset="0.088" stop-color="#deff77"/><stop offset="0.15" stop-color="#98ffcc"/><stop offset="0.181" stop-color="#5dffee"/><stop offset="0.189" stop-color="#3ffff7"/><stop offset="0.198" stop-color="#09feff"/><stop offset="0.207" stop-color="#29f4ff"/><stop offset="0.233" stop-color="#47d8ff"/><stop offset="0.295" stop-color="#58a2ff"/><stop offset="0.366" stop-color="#5274ff"/><stop offset="0.436" stop-color="#4555ff"/><stop offset="0.507" stop-color="#3b42ff"/><stop offset="0.577" stop-color="#3e48ff"/><stop offset="0.648" stop-color="#506eff"/><stop offset="0.718" stop-color="#56b1ff"/><stop offset="0.758" stop-color="#41e0ff"/><stop offset="0.775" stop-color="#27f5ff"/><stop offset="0.78" stop-color="#1bfaff"/><stop offset="0.784" stop-color="#02ffff"/><stop offset="0.789" stop-color="#2cfffb"/><stop offset="0.797" stop-color="#4ffff3"/><stop offset="0.824" stop-color="#84ffda"/><stop offset="0.885" stop-color="#c4ff9e"/><stop offset="0.943" stop-color="#edff57"/><stop offset="0.969" stop-color="#fcff22"/><stop offset="0.978" stop-color="#fffe00"/><stop offset="1" stop-color="#ffed00"/></linearGradient><linearGradient id="f92" gradientUnits="userSpaceOnUse" x1="895" x2="1123" y1="0" y2="0"><stop offset="0" stop-color="#ffc500"/><stop offset="0.044" stop-color="#fffe00"/><stop offset="0.053" stop-color="#faff2e"/><stop offset="0.079" stop-color="#e5ff6a"/><stop offset="0.145" stop-color="#9effc7"/><stop offset="0.175" stop-color="#68ffe9"/><stop offset="0.189" stop-color="#41fff7"/><stop offset="0.193" stop-color="#2bfffb"/><stop offset="0.197" stop-color="#05feff"/><stop offset="0.202" stop-color="#1cf9ff"/><stop offset="0.219" stop-color="#3be6ff"/><stop offset="0.263" stop-color="#54bcff"/><stop offset="0.333" stop-color="#5687ff"/><stop offset="0.404" stop-color="#4b61ff"/><stop offset="0.474" stop-color="#3e47ff"/><stop offset="0.544" stop-color="#373dff"/><stop offset="0.614" stop-color="#4452ff"/><stop offset="0.684" stop-color="#5685ff"/><stop offset="0.746" stop-color="#50c8ff"/><stop offset="0.776" stop-color="#35ecff"/><stop offset="0.789" stop-color="#19faff"/><stop offset="0.794" stop-color="#02ffff"/><stop offset="0.798" stop-color="#2efffb"/><stop offset="0.811" stop-color="#5cffef"/><stop offset="0.846" stop-color="#95ffce"/><stop offset="0.917" stop-color="#d4ff88"/><stop offset="0.978" stop-color="#f9ff31"/><stop offset="0.991" stop-color="#feff10"/><stop offset="0.996" stop-color="#fffe00"/><stop offset="1" stop-color="#fffb00"/></linearGradient><linearGradient id="f93" gradientUnits="userSpaceOnUse" x1="895" x2="1124" y1="0" y2="0"><stop offset="0" stop-color="#ffc900"/><stop offset="0.039" stop-color="#fffb00"/><stop offset="0.057" stop-color="#f5ff40"/><stop offset="0.096" stop-color="#d4ff88"/><stop offset="0.153" stop-color="#91ffd1"/><stop offset="0.179" stop-color="#5effee"/><stop offset="0.192" stop-color="#2efffb"/><stop offset="0.197" stop-color="#01ffff"/><stop offset="0.201" stop-color="#1afaff"/><stop offset="0.218" stop-color="#3ae7ff"/><stop offset="0.262" stop-color="#53bdff"/><stop offset="0.332" stop-color="#5688ff"/><stop offset="0.402" stop-color="#4b62ff"/><stop offset="0.472" stop-color="#3d46ff"/><stop offset="0.541" stop-color="#3539ff"/><stop offset="0.611" stop-color="#414cff"/><stop offset="0.681" stop-color="#547bff"/><stop offset="0.747" stop-color="#53c0ff"/><stop offset="0.782" stop-color="#3ae8ff"/><stop offset="0.803" stop-color="#0efffe"/><stop offset="0.808" stop-color="#32fffa"/><stop offset="0.821" stop-color="#5dffee"/><stop offset="0.856" stop-color="#94ffcf"/><stop offset="0.926" stop-color="#d3ff89"/><stop offset="0.996" stop-color="#f8ff34"/><stop offset="1" stop-color="#faff2e"/></linearGradient><linearGradient id="f94" gradientUnits="userSpaceOnUse" x1="895" x2="1125" y1="0" y2="0"><stop offset="0" stop-color="#ffce00"/><stop offset="0.039" stop-color="#fffe00"/><stop offset="0.048" stop-color="#faff2d"/><stop offset="0.074" stop-color="#e6ff68"/><stop offset="0.143" stop-color="#9effc7"/><stop offset="0.178" stop-color="#5fffed"/><stop offset="0.191" stop-color="#31fffa"/><stop offset="0.196" stop-color="#09ffff"/><stop offset="0.209" stop-color="#2df1ff"/><stop offset="0.243" stop-color="#4dceff"/><stop offset="0.313" stop-color="#5796ff"/><stop offset="0.383" stop-color="#4f6bff"/><stop offset="0.452" stop-color="#414cff"/><stop offset="0.522" stop-color="#3438ff"/><stop offset="0.591" stop-color="#3940ff"/><stop offset="0.661" stop-color="#4d64ff"/><stop offset="0.73" stop-color="#57a5ff"/><stop offset="0.778" stop-color="#45dbff"/><stop offset="0.804" stop-color="#21f7ff"/><stop offset="0.809" stop-color="#12fcff"/><stop offset="0.813" stop-color="#19fffd"/><stop offset="0.817" stop-color="#35fffa"/><stop offset="0.83" stop-color="#5dffee"/><stop offset="0.865" stop-color="#93ffd0"/><stop offset="0.935" stop-color="#d2ff8c"/><stop offset="1" stop-color="#f2ff49"/></linearGradient><linearGradient id="f95" gradientUnits="userSpaceOnUse" x1="895" x2="1126" y1="0" y2="0"><stop offset="0" stop-color="#ffd200"/><stop offset="0.035" stop-color="#fffc00"/><stop offset="0.048" stop-color="#f8ff35"/><stop offset="0.082" stop-color="#ddff79"/><stop offset="0.147" stop-color="#97ffcd"/><stop offset="0.177" stop-color="#60ffed"/><stop offset="0.19" stop-color="#34fffa"/><stop offset="0.195" stop-color="#13fffe"/><stop offset="0.221" stop-color="#3de5ff"/><stop offset="0.273" stop-color="#55b5ff"/><stop offset="0.342" stop-color="#5583ff"/><stop offset="0.411" stop-color="#4a5eff"/><stop offset="0.481" stop-color="#3b42ff"/><stop offset="0.55" stop-color="#3235ff"/><stop offset="0.619" stop-color="#3e47ff"/><stop offset="0.688" stop-color="#5274ff"/><stop offset="0.758" stop-color="#54baff"/><stop offset="0.797" stop-color="#3ce6ff"/><stop offset="0.814" stop-color="#1ef8ff"/><stop offset="0.818" stop-color="#0efdff"/><stop offset="0.831" stop-color="#46fff6"/><stop offset="0.857" stop-color="#7bffe0"/><stop offset="0.913" stop-color="#b8ffad"/><stop offset="0.983" stop-color="#e4ff6c"/><stop offset="1" stop-color="#eaff5e"/></linearGradient><linearGradient id="f96" gradientUnits="userSpaceOnUse" x1="895" x2="1127" y1="0" y2="0"><stop offset="0" stop-color="#ffd700"/><stop offset="0.034" stop-color="#ffff05"/><stop offset="0.039" stop-color="#fcff21"/><stop offset="0.056" stop-color="#f0ff4f"/><stop offset="0.112" stop-color="#c0ffa4"/><stop offset="0.159" stop-color="#83ffdb"/><stop offset="0.185" stop-color="#48fff5"/><stop offset="0.194" stop-color="#1afffd"/><stop offset="0.198" stop-color="#12fcff"/><stop offset="0.211" stop-color="#31efff"/><stop offset="0.25" stop-color="#4fc9ff"/><stop offset="0.319" stop-color="#5793ff"/><stop offset="0.388" stop-color="#4f6aff"/><stop offset="0.457" stop-color="#404bff"/><stop offset="0.526" stop-color="#3235ff"/><stop offset="0.595" stop-color="#363bff"/><stop offset="0.664" stop-color="#495cff"/><stop offset="0.733" stop-color="#5898ff"/><stop offset="0.784" stop-color="#4cd0ff"/><stop offset="0.819" stop-color="#28f4ff"/><stop offset="0.828" stop-color="#0efdff"/><stop offset="0.841" stop-color="#44fff6"/><stop offset="0.866" stop-color="#7affe0"/><stop offset="0.927" stop-color="#baffac"/><stop offset="0.996" stop-color="#e0ff73"/><stop offset="1" stop-color="#e2ff70"/></linearGradient><linearGradient id="f97" gradientUnits="userSpaceOnUse" x1="895" x2="1127" y1="0" y2="0"><stop offset="0" stop-color="#ffdc00"/><stop offset="0.03" stop-color="#ffff00"/><stop offset="0.034" stop-color="#fdff1c"/><stop offset="0.052" stop-color="#f1ff4c"/><stop offset="0.112" stop-color="#bfffa6"/><stop offset="0.164" stop-color="#7bffdf"/><stop offset="0.185" stop-color="#49fff5"/><stop offset="0.198" stop-color="#0efdff"/><stop offset="0.211" stop-color="#30f0ff"/><stop offset="0.25" stop-color="#4ecbff"/><stop offset="0.319" stop-color="#5795ff"/><stop offset="0.388" stop-color="#4f6dff"/><stop offset="0.457" stop-color="#414dff"/><stop offset="0.526" stop-color="#3236ff"/><stop offset="0.595" stop-color="#3438ff"/><stop offset="0.664" stop-color="#4656ff"/><stop offset="0.733" stop-color="#578dff"/><stop offset="0.793" stop-color="#4dcdff"/><stop offset="0.828" stop-color="#2ff0ff"/><stop offset="0.841" stop-color="#10fdff"/><stop offset="0.845" stop-color="#18fffe"/><stop offset="0.853" stop-color="#42fff7"/><stop offset="0.875" stop-color="#71ffe5"/><stop offset="0.927" stop-color="#acffba"/><stop offset="0.996" stop-color="#d5ff86"/><stop offset="1" stop-color="#d7ff83"/></linearGradient><linearGradient id="f98" gradientUnits="userSpaceOnUse" x1="895" x2="1128" y1="0" y2="0"><stop offset="0" stop-color="#ffe200"/><stop offset="0.026" stop-color="#fffe00"/><stop offset="0.034" stop-color="#faff2a"/><stop offset="0.064" stop-color="#e6ff67"/><stop offset="0.133" stop-color="#a6ffc0"/><stop offset="0.172" stop-color="#6bffe8"/><stop offset="0.189" stop-color="#3bfff8"/><stop offset="0.197" stop-color="#09feff"/><stop offset="0.206" stop-color="#26f5ff"/><stop offset="0.232" stop-color="#44dcff"/><stop offset="0.292" stop-color="#57aaff"/><stop offset="0.361" stop-color="#547dff"/><stop offset="0.429" stop-color="#485aff"/><stop offset="0.498" stop-color="#383eff"/><stop offset="0.567" stop-color="#3133ff"/><stop offset="0.635" stop-color="#3c44ff"/><stop offset="0.704" stop-color="#506dff"/><stop offset="0.773" stop-color="#56b0ff"/><stop offset="0.824" stop-color="#3ee4ff"/><stop offset="0.845" stop-color="#1ff8ff"/><stop offset="0.85" stop-color="#12fcff"/><stop offset="0.854" stop-color="#11fffe"/><stop offset="0.858" stop-color="#2efffb"/><stop offset="0.876" stop-color="#5effee"/><stop offset="0.918" stop-color="#98ffcc"/><stop offset="0.987" stop-color="#c8ff9a"/><stop offset="1" stop-color="#cdff93"/></linearGradient><linearGradient id="f99" gradientUnits="userSpaceOnUse" x1="895" x2="1129" y1="0" y2="0"><stop offset="0" stop-color="#ffe700"/><stop offset="0.021" stop-color="#fffe00"/><stop offset="0.03" stop-color="#fbff28"/><stop offset="0.06" stop-color="#e7ff65"/><stop offset="0.128" stop-color="#aaffbc"/><stop offset="0.171" stop-color="#6bffe8"/><stop offset="0.188" stop-color="#3efff8"/><stop offset="0.192" stop-color="#29fffc"/><stop offset="0.197" stop-color="#03ffff"/><stop offset="0.201" stop-color="#19faff"/><stop offset="0.222" stop-color="#3ce5ff"/><stop offset="0.274" stop-color="#54b9ff"/><stop offset="0.342" stop-color="#568aff"/><stop offset="0.41" stop-color="#4d65ff"/><stop offset="0.479" stop-color="#3e47ff"/><stop offset="0.547" stop-color="#3235ff"/><stop offset="0.615" stop-color="#373cff"/><stop offset="0.684" stop-color="#495bff"/><stop offset="0.752" stop-color="#5794ff"/><stop offset="0.812" stop-color="#4cd0ff"/><stop offset="0.846" stop-color="#30f0ff"/><stop offset="0.859" stop-color="#16fbff"/><stop offset="0.863" stop-color="#02ffff"/><stop offset="0.868" stop-color="#25fffc"/><stop offset="0.88" stop-color="#50fff3"/><stop offset="0.915" stop-color="#85ffd9"/><stop offset="0.974" stop-color="#b6ffb0"/><stop offset="1" stop-color="#c2ffa1"/></linearGradient><linearGradient id="f100" gradientUnits="userSpaceOnUse" x1="895" x2="1130" y1="0" y2="0"><stop offset="0" stop-color="#ffec00"/><stop offset="0.017" stop-color="#fffe00"/><stop offset="0.026" stop-color="#fbff28"/><stop offset="0.055" stop-color="#e8ff63"/><stop offset="0.123" stop-color="#aeffb8"/><stop offset="0.17" stop-color="#6cffe8"/><stop offset="0.187" stop-color="#40fff7"/><stop offset="0.191" stop-color="#2efffb"/><stop offset="0.196" stop-color="#09ffff"/><stop offset="0.213" stop-color="#31efff"/><stop offset="0.255" stop-color="#4fc9ff"/><stop offset="0.323" stop-color="#5897ff"/><stop offset="0.391" stop-color="#5171ff"/><stop offset="0.46" stop-color="#4451ff"/><stop offset="0.528" stop-color="#363aff"/><stop offset="0.596" stop-color="#3438ff"/><stop offset="0.664" stop-color="#424eff"/><stop offset="0.732" stop-color="#547cff"/><stop offset="0.8" stop-color="#53bdff"/><stop offset="0.851" stop-color="#36ebff"/><stop offset="0.868" stop-color="#1cf9ff"/><stop offset="0.872" stop-color="#0ffdff"/><stop offset="0.877" stop-color="#13fffe"/><stop offset="0.881" stop-color="#2dfffb"/><stop offset="0.898" stop-color="#5affef"/><stop offset="0.936" stop-color="#8cffd5"/><stop offset="1" stop-color="#b7ffaf"/></linearGradient><linearGradient id="f101" gradientUnits="userSpaceOnUse" x1="895" x2="1131" y1="0" y2="0"><stop offset="0" stop-color="#fff100"/><stop offset="0.013" stop-color="#fffe00"/><stop offset="0.021" stop-color="#fbff28"/><stop offset="0.051" stop-color="#e9ff61"/><stop offset="0.119" stop-color="#b1ffb5"/><stop offset="0.165" stop-color="#74ffe3"/><stop offset="0.186" stop-color="#43fff6"/><stop offset="0.191" stop-color="#32fffa"/><stop offset="0.195" stop-color="#16fffe"/><stop offset="0.199" stop-color="#11fcff"/><stop offset="0.212" stop-color="#2ff0ff"/><stop offset="0.25" stop-color="#4dcfff"/><stop offset="0.318" stop-color="#589dff"/><stop offset="0.386" stop-color="#5276ff"/><stop offset="0.453" stop-color="#4657ff"/><stop offset="0.521" stop-color="#393fff"/><stop offset="0.589" stop-color="#3438ff"/><stop offset="0.657" stop-color="#3f49ff"/><stop offset="0.725" stop-color="#5172ff"/><stop offset="0.792" stop-color="#56b0ff"/><stop offset="0.852" stop-color="#3fe3ff"/><stop offset="0.877" stop-color="#22f7ff"/><stop offset="0.886" stop-color="#0bfdff"/><stop offset="0.903" stop-color="#47fff5"/><stop offset="0.932" stop-color="#77ffe2"/><stop offset="0.996" stop-color="#a8ffbe"/><stop offset="1" stop-color="#aaffbc"/></linearGradient><linearGradient id="f102" gradientUnits="userSpaceOnUse" x1="895" x2="1132" y1="0" y2="0"><stop offset="0" stop-color="#fff700"/><stop offset="0.008" stop-color="#ffff00"/><stop offset="0.013" stop-color="#fdff1b"/><stop offset="0.03" stop-color="#f4ff45"/><stop offset="0.093" stop-color="#c7ff9b"/><stop offset="0.156" stop-color="#82ffdc"/><stop offset="0.181" stop-color="#51fff2"/><stop offset="0.19" stop-color="#36fff9"/><stop offset="0.198" stop-color="#0bfdff"/><stop offset="0.211" stop-color="#2df2ff"/><stop offset="0.249" stop-color="#4bd1ff"/><stop offset="0.316" stop-color="#58a0ff"/><stop offset="0.384" stop-color="#537aff"/><stop offset="0.451" stop-color="#485bff"/><stop offset="0.519" stop-color="#3b43ff"/><stop offset="0.586" stop-color="#363aff"/><stop offset="0.654" stop-color="#3f48ff"/><stop offset="0.722" stop-color="#506dff"/><stop offset="0.789" stop-color="#57a7ff"/><stop offset="0.857" stop-color="#43deff"/><stop offset="0.89" stop-color="#22f7ff"/><stop offset="0.899" stop-color="#0efdff"/><stop offset="0.903" stop-color="#11fffe"/><stop offset="0.911" stop-color="#38fff9"/><stop offset="0.937" stop-color="#67ffea"/><stop offset="0.992" stop-color="#97ffcc"/><stop offset="1" stop-color="#9dffc8"/></linearGradient><linearGradient id="f103" gradientUnits="userSpaceOnUse" x1="895" x2="1133" y1="0" y2="0"><stop offset="0" stop-color="#fffc00"/><stop offset="0.004" stop-color="#ffff07"/><stop offset="0.013" stop-color="#faff2a"/><stop offset="0.046" stop-color="#e7ff65"/><stop offset="0.113" stop-color="#b3ffb3"/><stop offset="0.164" stop-color="#75ffe3"/><stop offset="0.185" stop-color="#48fff5"/><stop offset="0.193" stop-color="#27fffc"/><stop offset="0.197" stop-color="#03ffff"/><stop offset="0.206" stop-color="#22f7ff"/><stop offset="0.235" stop-color="#43ddff"/><stop offset="0.303" stop-color="#57abff"/><stop offset="0.37" stop-color="#5584ff"/><stop offset="0.437" stop-color="#4c64ff"/><stop offset="0.504" stop-color="#404bff"/><stop offset="0.571" stop-color="#383eff"/><stop offset="0.639" stop-color="#3c44ff"/><stop offset="0.706" stop-color="#4b61ff"/><stop offset="0.773" stop-color="#5794ff"/><stop offset="0.84" stop-color="#4fcaff"/><stop offset="0.895" stop-color="#2ff0ff"/><stop offset="0.912" stop-color="#15fbff"/><stop offset="0.916" stop-color="#06feff"/><stop offset="0.929" stop-color="#39fff9"/><stop offset="0.958" stop-color="#69ffe9"/><stop offset="1" stop-color="#8dffd4"/></linearGradient><linearGradient id="f104" gradientUnits="userSpaceOnUse" x1="895" x2="1134" y1="0" y2="0"><stop offset="0" stop-color="#feff0e"/><stop offset="0.013" stop-color="#f8ff36"/><stop offset="0.067" stop-color="#d7ff84"/><stop offset="0.134" stop-color="#9cffc9"/><stop offset="0.172" stop-color="#67ffea"/><stop offset="0.188" stop-color="#3efff8"/><stop offset="0.192" stop-color="#2dfffb"/><stop offset="0.197" stop-color="#0ffffe"/><stop offset="0.222" stop-color="#37eaff"/><stop offset="0.272" stop-color="#52c3ff"/><stop offset="0.339" stop-color="#5897ff"/><stop offset="0.406" stop-color="#5276ff"/><stop offset="0.473" stop-color="#485aff"/><stop offset="0.54" stop-color="#3d46ff"/><stop offset="0.607" stop-color="#3a41ff"/><stop offset="0.674" stop-color="#4452ff"/><stop offset="0.741" stop-color="#5377ff"/><stop offset="0.808" stop-color="#57abff"/><stop offset="0.874" stop-color="#46d9ff"/><stop offset="0.921" stop-color="#24f6ff"/><stop offset="0.933" stop-color="#09feff"/><stop offset="0.95" stop-color="#3efff8"/><stop offset="0.983" stop-color="#6cffe7"/><stop offset="1" stop-color="#7bffdf"/></linearGradient><linearGradient id="f105" gradientUnits="userSpaceOnUse" x1="895" x2="1135" y1="0" y2="0"><stop offset="0" stop-color="#fcff23"/><stop offset="0.029" stop-color="#ecff59"/><stop offset="0.096" stop-color="#bfffa6"/><stop offset="0.158" stop-color="#7cffdf"/><stop offset="0.183" stop-color="#4dfff4"/><stop offset="0.192" stop-color="#33fffa"/><stop offset="0.2" stop-color="#0afeff"/><stop offset="0.208" stop-color="#23f6ff"/><stop offset="0.237" stop-color="#42dfff"/><stop offset="0.304" stop-color="#56afff"/><stop offset="0.371" stop-color="#568aff"/><stop offset="0.438" stop-color="#4f6cff"/><stop offset="0.504" stop-color="#4554ff"/><stop offset="0.571" stop-color="#3d46ff"/><stop offset="0.637" stop-color="#3f49ff"/><stop offset="0.704" stop-color="#4b60ff"/><stop offset="0.771" stop-color="#578cff"/><stop offset="0.838" stop-color="#54baff"/><stop offset="0.904" stop-color="#3fe3ff"/><stop offset="0.942" stop-color="#20f8ff"/><stop offset="0.954" stop-color="#03ffff"/><stop offset="0.963" stop-color="#2afffb"/><stop offset="0.988" stop-color="#58fff0"/><stop offset="1" stop-color="#66ffea"/></linearGradient><linearGradient id="f106" gradientUnits="userSpaceOnUse" x1="895" x2="1135" y1="0" y2="0"><stop offset="0" stop-color="#f9ff30"/><stop offset="0.042" stop-color="#e3ff6e"/><stop offset="0.108" stop-color="#b3ffb3"/><stop offset="0.167" stop-color="#70ffe6"/><stop offset="0.188" stop-color="#45fff6"/><stop offset="0.196" stop-color="#27fffc"/><stop offset="0.2" stop-color="#00ffff"/><stop offset="0.208" stop-color="#1ff8ff"/><stop offset="0.237" stop-color="#40e1ff"/><stop offset="0.304" stop-color="#56b3ff"/><stop offset="0.371" stop-color="#578eff"/><stop offset="0.438" stop-color="#5171ff"/><stop offset="0.504" stop-color="#485aff"/><stop offset="0.571" stop-color="#404bff"/><stop offset="0.637" stop-color="#414cff"/><stop offset="0.704" stop-color="#4b60ff"/><stop offset="0.771" stop-color="#5687ff"/><stop offset="0.838" stop-color="#56b2ff"/><stop offset="0.904" stop-color="#48d7ff"/><stop offset="0.963" stop-color="#25f6ff"/><stop offset="0.979" stop-color="#04feff"/><stop offset="0.992" stop-color="#33fffa"/><stop offset="1" stop-color="#44fff6"/></linearGradient><linearGradient id="f107" gradientUnits="userSpaceOnUse" x1="895" x2="1136" y1="0" y2="0"><stop offset="0" stop-color="#f7ff3a"/><stop offset="0.05" stop-color="#dcff7c"/><stop offset="0.116" stop-color="#aaffbc"/><stop offset="0.17" stop-color="#6affe8"/><stop offset="0.191" stop-color="#3dfff8"/><stop offset="0.203" stop-color="#0cfdff"/><stop offset="0.216" stop-color="#29f3ff"/><stop offset="0.253" stop-color="#47d8ff"/><stop offset="0.32" stop-color="#57adff"/><stop offset="0.386" stop-color="#578bff"/><stop offset="0.452" stop-color="#5171ff"/><stop offset="0.519" stop-color="#495cff"/><stop offset="0.585" stop-color="#434fff"/><stop offset="0.651" stop-color="#4453ff"/><stop offset="0.718" stop-color="#4e68ff"/><stop offset="0.784" stop-color="#578dff"/><stop offset="0.851" stop-color="#56b3ff"/><stop offset="0.917" stop-color="#49d5ff"/><stop offset="0.979" stop-color="#29f4ff"/><stop offset="0.996" stop-color="#11fcff"/><stop offset="1" stop-color="#03ffff"/></linearGradient><linearGradient id="f108" gradientUnits="userSpaceOnUse" x1="895" x2="1137" y1="0" y2="0"><stop offset="0" stop-color="#f4ff42"/><stop offset="0.066" stop-color="#cfff90"/><stop offset="0.132" stop-color="#99ffcb"/><stop offset="0.178" stop-color="#5dffee"/><stop offset="0.194" stop-color="#36fff9"/><stop offset="0.198" stop-color="#25fffc"/><stop offset="0.202" stop-color="#00ffff"/><stop offset="0.211" stop-color="#1ef9ff"/><stop offset="0.244" stop-color="#41e0ff"/><stop offset="0.31" stop-color="#55b6ff"/><stop offset="0.376" stop-color="#5794ff"/><stop offset="0.442" stop-color="#5379ff"/><stop offset="0.508" stop-color="#4c64ff"/><stop offset="0.574" stop-color="#4656ff"/><stop offset="0.64" stop-color="#4655ff"/><stop offset="0.707" stop-color="#4d66ff"/><stop offset="0.773" stop-color="#5685ff"/><stop offset="0.839" stop-color="#57a8ff"/><stop offset="0.905" stop-color="#50c7ff"/><stop offset="0.971" stop-color="#3ce6ff"/><stop offset="1" stop-color="#27f4ff"/></linearGradient><linearGradient id="f109" gradientUnits="userSpaceOnUse" x1="895" x2="1138" y1="0" y2="0"><stop offset="0" stop-color="#f2ff49"/><stop offset="0.066" stop-color="#cdff92"/><stop offset="0.132" stop-color="#99ffcb"/><stop offset="0.177" stop-color="#60ffed"/><stop offset="0.198" stop-color="#2ffffb"/><stop offset="0.206" stop-color="#08feff"/><stop offset="0.218" stop-color="#27f5ff"/><stop offset="0.263" stop-color="#49d6ff"/><stop offset="0.329" stop-color="#56afff"/><stop offset="0.395" stop-color="#5790ff"/><stop offset="0.461" stop-color="#5378ff"/><stop offset="0.527" stop-color="#4d66ff"/><stop offset="0.593" stop-color="#485aff"/><stop offset="0.658" stop-color="#495dff"/><stop offset="0.724" stop-color="#506fff"/><stop offset="0.79" stop-color="#578cff"/><stop offset="0.856" stop-color="#57abff"/><stop offset="0.922" stop-color="#50c7ff"/><stop offset="0.988" stop-color="#3de5ff"/><stop offset="1" stop-color="#36ebff"/></linearGradient><linearGradient id="f110" gradientUnits="userSpaceOnUse" x1="895" x2="1139" y1="0" y2="0"><stop offset="0" stop-color="#f0ff4f"/><stop offset="0.066" stop-color="#ccff94"/><stop offset="0.131" stop-color="#98ffcc"/><stop offset="0.18" stop-color="#5bffef"/><stop offset="0.197" stop-color="#37fff9"/><stop offset="0.201" stop-color="#28fffc"/><stop offset="0.205" stop-color="#0efffe"/><stop offset="0.209" stop-color="#0efdff"/><stop offset="0.23" stop-color="#31efff"/><stop offset="0.283" stop-color="#4eccff"/><stop offset="0.348" stop-color="#57a9ff"/><stop offset="0.414" stop-color="#578eff"/><stop offset="0.48" stop-color="#5379ff"/><stop offset="0.545" stop-color="#4e68ff"/><stop offset="0.611" stop-color="#4a5fff"/><stop offset="0.676" stop-color="#4d65ff"/><stop offset="0.742" stop-color="#5377ff"/><stop offset="0.807" stop-color="#5792ff"/><stop offset="0.873" stop-color="#57adff"/><stop offset="0.939" stop-color="#50c7ff"/><stop offset="1" stop-color="#3fe3ff"/></linearGradient><linearGradient id="f111" gradientUnits="userSpaceOnUse" x1="895" x2="1140" y1="0" y2="0"><stop offset="0" stop-color="#eeff55"/><stop offset="0.065" stop-color="#cbff96"/><stop offset="0.131" stop-color="#98ffcc"/><stop offset="0.184" stop-color="#57fff0"/><stop offset="0.2" stop-color="#32fffa"/><stop offset="0.204" stop-color="#22fffd"/><stop offset="0.208" stop-color="#02ffff"/><stop offset="0.22" stop-color="#22f7ff"/><stop offset="0.257" stop-color="#42dfff"/><stop offset="0.322" stop-color="#54baff"/><stop offset="0.388" stop-color="#589dff"/><stop offset="0.453" stop-color="#5687ff"/><stop offset="0.518" stop-color="#5275ff"/><stop offset="0.584" stop-color="#4e68ff"/><stop offset="0.649" stop-color="#4d67ff"/><stop offset="0.714" stop-color="#5171ff"/><stop offset="0.78" stop-color="#5686ff"/><stop offset="0.845" stop-color="#589eff"/><stop offset="0.91" stop-color="#55b5ff"/><stop offset="0.976" stop-color="#4ccfff"/><stop offset="1" stop-color="#45dbff"/></linearGradient><linearGradient id="f112" gradientUnits="userSpaceOnUse" x1="895" x2="1141" y1="0" y2="0"><stop offset="0" stop-color="#ecff59"/><stop offset="0.065" stop-color="#c9ff98"/><stop offset="0.13" stop-color="#98ffcc"/><stop offset="0.187" stop-color="#54fff1"/><stop offset="0.203" stop-color="#2ffffb"/><stop offset="0.207" stop-color="#1efffd"/><stop offset="0.211" stop-color="#02ffff"/><stop offset="0.22" stop-color="#1bfaff"/><stop offset="0.256" stop-color="#3fe3ff"/><stop offset="0.321" stop-color="#53bfff"/><stop offset="0.386" stop-color="#57a4ff"/><stop offset="0.451" stop-color="#578eff"/><stop offset="0.516" stop-color="#547dff"/><stop offset="0.581" stop-color="#5070ff"/><stop offset="0.646" stop-color="#506dff"/><stop offset="0.711" stop-color="#5274ff"/><stop offset="0.776" stop-color="#5685ff"/><stop offset="0.841" stop-color="#589aff"/><stop offset="0.907" stop-color="#56aeff"/><stop offset="0.972" stop-color="#50c7ff"/><stop offset="1" stop-color="#4ad4ff"/></linearGradient><linearGradient id="f113" gradientUnits="userSpaceOnUse" x1="897" x2="1142" y1="0" y2="0"><stop offset="0" stop-color="#e7ff65"/><stop offset="0.065" stop-color="#c3ffa0"/><stop offset="0.131" stop-color="#91ffd2"/><stop offset="0.184" stop-color="#51fff2"/><stop offset="0.2" stop-color="#2cfffb"/><stop offset="0.208" stop-color="#03ffff"/><stop offset="0.22" stop-color="#22f7ff"/><stop offset="0.265" stop-color="#43ddff"/><stop offset="0.331" stop-color="#53bdff"/><stop offset="0.396" stop-color="#57a4ff"/><stop offset="0.461" stop-color="#5791ff"/><stop offset="0.527" stop-color="#5581ff"/><stop offset="0.592" stop-color="#5275ff"/><stop offset="0.657" stop-color="#5274ff"/><stop offset="0.722" stop-color="#547bff"/><stop offset="0.788" stop-color="#5689ff"/><stop offset="0.853" stop-color="#589bff"/><stop offset="0.918" stop-color="#57aeff"/><stop offset="0.984" stop-color="#50c6ff"/><stop offset="1" stop-color="#4dceff"/></linearGradient><linearGradient id="f114" gradientUnits="userSpaceOnUse" x1="900" x2="1142" y1="0" y2="0"><stop offset="0" stop-color="#e0ff73"/><stop offset="0.066" stop-color="#baffab"/><stop offset="0.132" stop-color="#85ffd9"/><stop offset="0.182" stop-color="#48fff5"/><stop offset="0.198" stop-color="#1bfffd"/><stop offset="0.202" stop-color="#03ffff"/><stop offset="0.215" stop-color="#20f8ff"/><stop offset="0.26" stop-color="#42e0ff"/><stop offset="0.326" stop-color="#52c1ff"/><stop offset="0.393" stop-color="#57aaff"/><stop offset="0.459" stop-color="#5898ff"/><stop offset="0.525" stop-color="#5688ff"/><stop offset="0.591" stop-color="#547dff"/><stop offset="0.657" stop-color="#547bff"/><stop offset="0.723" stop-color="#547fff"/><stop offset="0.789" stop-color="#568aff"/><stop offset="0.855" stop-color="#5899ff"/><stop offset="0.921" stop-color="#57a9ff"/><stop offset="0.988" stop-color="#52c1ff"/><stop offset="1" stop-color="#50c6ff"/></linearGradient><linearGradient id="f115" gradientUnits="userSpaceOnUse" x1="902" x2="1143" y1="0" y2="0"><stop offset="0" stop-color="#dbff7c"/><stop offset="0.066" stop-color="#b4ffb1"/><stop offset="0.133" stop-color="#7effde"/><stop offset="0.178" stop-color="#46fff5"/><stop offset="0.195" stop-color="#1dfffd"/><stop offset="0.199" stop-color="#00ffff"/><stop offset="0.212" stop-color="#1ef9ff"/><stop offset="0.257" stop-color="#3fe2ff"/><stop offset="0.324" stop-color="#50c6ff"/><stop offset="0.39" stop-color="#56b0ff"/><stop offset="0.456" stop-color="#589fff"/><stop offset="0.523" stop-color="#5790ff"/><stop offset="0.589" stop-color="#5685ff"/><stop offset="0.656" stop-color="#5581ff"/><stop offset="0.722" stop-color="#5583ff"/><stop offset="0.788" stop-color="#578cff"/><stop offset="0.855" stop-color="#5897ff"/><stop offset="0.921" stop-color="#57a6ff"/><stop offset="0.988" stop-color="#54bcff"/><stop offset="1" stop-color="#52c2ff"/></linearGradient><linearGradient id="f116" gradientUnits="userSpaceOnUse" x1="905" x2="1144" y1="0" y2="0"><stop offset="0" stop-color="#d4ff88"/><stop offset="0.067" stop-color="#acffba"/><stop offset="0.134" stop-color="#74ffe4"/><stop offset="0.176" stop-color="#3ffff7"/><stop offset="0.188" stop-color="#21fffd"/><stop offset="0.192" stop-color="#0dfffe"/><stop offset="0.197" stop-color="#09feff"/><stop offset="0.218" stop-color="#28f4ff"/><stop offset="0.285" stop-color="#48d7ff"/><stop offset="0.351" stop-color="#52c0ff"/><stop offset="0.418" stop-color="#56afff"/><stop offset="0.485" stop-color="#58a0ff"/><stop offset="0.552" stop-color="#5793ff"/><stop offset="0.619" stop-color="#568bff"/><stop offset="0.686" stop-color="#5688ff"/><stop offset="0.753" stop-color="#568aff"/><stop offset="0.82" stop-color="#5791ff"/><stop offset="0.887" stop-color="#589cff"/><stop offset="0.954" stop-color="#57adff"/><stop offset="1" stop-color="#53bfff"/></linearGradient><linearGradient id="f117" gradientUnits="userSpaceOnUse" x1="907" x2="1145" y1="0" y2="0"><stop offset="0" stop-color="#cfff8f"/><stop offset="0.067" stop-color="#a6ffc0"/><stop offset="0.134" stop-color="#6effe7"/><stop offset="0.176" stop-color="#3afff9"/><stop offset="0.189" stop-color="#1afffd"/><stop offset="0.193" stop-color="#00ffff"/><stop offset="0.21" stop-color="#20f8ff"/><stop offset="0.265" stop-color="#40e2ff"/><stop offset="0.332" stop-color="#4ecbff"/><stop offset="0.399" stop-color="#54baff"/><stop offset="0.466" stop-color="#57acff"/><stop offset="0.534" stop-color="#589fff"/><stop offset="0.601" stop-color="#5795ff"/><stop offset="0.668" stop-color="#578fff"/><stop offset="0.735" stop-color="#578eff"/><stop offset="0.803" stop-color="#5791ff"/><stop offset="0.87" stop-color="#5898ff"/><stop offset="0.937" stop-color="#57a5ff"/><stop offset="1" stop-color="#53bdff"/></linearGradient><linearGradient id="f118" gradientUnits="userSpaceOnUse" x1="910" x2="1146" y1="0" y2="0"><stop offset="0" stop-color="#c8ff99"/><stop offset="0.068" stop-color="#9dffc8"/><stop offset="0.136" stop-color="#65ffeb"/><stop offset="0.178" stop-color="#2ffffb"/><stop offset="0.186" stop-color="#19fffe"/><stop offset="0.191" stop-color="#01ffff"/><stop offset="0.212" stop-color="#22f7ff"/><stop offset="0.28" stop-color="#42dfff"/><stop offset="0.347" stop-color="#4ecdff"/><stop offset="0.415" stop-color="#53beff"/><stop offset="0.483" stop-color="#56b1ff"/><stop offset="0.551" stop-color="#57a5ff"/><stop offset="0.619" stop-color="#589bff"/><stop offset="0.686" stop-color="#5795ff"/><stop offset="0.754" stop-color="#5793ff"/><stop offset="0.822" stop-color="#5794ff"/><stop offset="0.89" stop-color="#589bff"/><stop offset="0.958" stop-color="#57aaff"/><stop offset="1" stop-color="#54bbff"/></linearGradient><linearGradient id="f119" gradientUnits="userSpaceOnUse" x1="912" x2="1147" y1="0" y2="0"><stop offset="0" stop-color="#c4ff9f"/><stop offset="0.068" stop-color="#98ffcc"/><stop offset="0.136" stop-color="#61ffec"/><stop offset="0.179" stop-color="#30fffa"/><stop offset="0.196" stop-color="#04feff"/><stop offset="0.217" stop-color="#22f7ff"/><stop offset="0.285" stop-color="#3fe2ff"/><stop offset="0.353" stop-color="#4bd3ff"/><stop offset="0.421" stop-color="#50c6ff"/><stop offset="0.489" stop-color="#54baff"/><stop offset="0.557" stop-color="#57adff"/><stop offset="0.626" stop-color="#57a3ff"/><stop offset="0.694" stop-color="#589cff"/><stop offset="0.762" stop-color="#5897ff"/><stop offset="0.83" stop-color="#5897ff"/><stop offset="0.898" stop-color="#589cff"/><stop offset="0.966" stop-color="#57adff"/><stop offset="1" stop-color="#54bbff"/></linearGradient><linearGradient id="f120" gradientUnits="userSpaceOnUse" x1="915" x2="1148" y1="0" y2="0"><stop offset="0" stop-color="#bdffa8"/><stop offset="0.069" stop-color="#90ffd2"/><stop offset="0.137" stop-color="#5cffef"/><stop offset="0.185" stop-color="#27fffc"/><stop offset="0.197" stop-color="#03ffff"/><stop offset="0.223" stop-color="#22f7ff"/><stop offset="0.292" stop-color="#3ce6ff"/><stop offset="0.361" stop-color="#47d9ff"/><stop offset="0.429" stop-color="#4dceff"/><stop offset="0.498" stop-color="#52c2ff"/><stop offset="0.567" stop-color="#55b6ff"/><stop offset="0.635" stop-color="#57abff"/><stop offset="0.704" stop-color="#58a2ff"/><stop offset="0.773" stop-color="#589cff"/><stop offset="0.841" stop-color="#589aff"/><stop offset="0.91" stop-color="#589fff"/><stop offset="0.979" stop-color="#56b2ff"/><stop offset="1" stop-color="#54bbff"/></linearGradient><linearGradient id="f121" gradientUnits="userSpaceOnUse" x1="917" x2="1149" y1="0" y2="0"><stop offset="0" stop-color="#b9ffad"/><stop offset="0.069" stop-color="#8cffd5"/><stop offset="0.138" stop-color="#5cffef"/><stop offset="0.19" stop-color="#2cfffb"/><stop offset="0.203" stop-color="#13fffe"/><stop offset="0.207" stop-color="#01ffff"/><stop offset="0.237" stop-color="#20f8ff"/><stop offset="0.306" stop-color="#37eaff"/><stop offset="0.375" stop-color="#41e0ff"/><stop offset="0.444" stop-color="#49d6ff"/><stop offset="0.513" stop-color="#4fcaff"/><stop offset="0.582" stop-color="#53beff"/><stop offset="0.651" stop-color="#56b2ff"/><stop offset="0.72" stop-color="#57a7ff"/><stop offset="0.789" stop-color="#58a0ff"/><stop offset="0.858" stop-color="#589dff"/><stop offset="0.927" stop-color="#57a4ff"/><stop offset="0.996" stop-color="#54bbff"/><stop offset="1" stop-color="#54bcff"/></linearGradient><linearGradient id="f122" gradientUnits="userSpaceOnUse" x1="920" x2="1150" y1="0" y2="0"><stop offset="0" stop-color="#b2ffb4"/><stop offset="0.07" stop-color="#86ffd9"/><stop offset="0.139" stop-color="#5bffef"/><stop offset="0.204" stop-color="#2afffc"/><stop offset="0.226" stop-color="#02ffff"/><stop offset="0.265" stop-color="#20f8ff"/><stop offset="0.335" stop-color="#32eeff"/><stop offset="0.404" stop-color="#3ce6ff"/><stop offset="0.474" stop-color="#45dbff"/><stop offset="0.543" stop-color="#4ccfff"/><stop offset="0.613" stop-color="#52c2ff"/><stop offset="0.683" stop-color="#55b5ff"/><stop offset="0.752" stop-color="#57aaff"/><stop offset="0.822" stop-color="#58a2ff"/><stop offset="0.891" stop-color="#58a1ff"/><stop offset="0.961" stop-color="#56b0ff"/><stop offset="1" stop-color="#53beff"/></linearGradient><linearGradient id="f123" gradientUnits="userSpaceOnUse" x1="923" x2="1150" y1="0" y2="0"><stop offset="0" stop-color="#acffba"/><stop offset="0.07" stop-color="#81ffdc"/><stop offset="0.141" stop-color="#5effee"/><stop offset="0.211" stop-color="#3bfff8"/><stop offset="0.26" stop-color="#12fffe"/><stop offset="0.269" stop-color="#01ffff"/><stop offset="0.339" stop-color="#20f8ff"/><stop offset="0.41" stop-color="#2ef1ff"/><stop offset="0.48" stop-color="#3be6ff"/><stop offset="0.551" stop-color="#46daff"/><stop offset="0.621" stop-color="#4eccff"/><stop offset="0.692" stop-color="#53bdff"/><stop offset="0.762" stop-color="#56b0ff"/><stop offset="0.833" stop-color="#57a6ff"/><stop offset="0.903" stop-color="#57a6ff"/><stop offset="0.974" stop-color="#55b5ff"/><stop offset="1" stop-color="#53beff"/></linearGradient><linearGradient id="f124" gradientUnits="userSpaceOnUse" x1="925" x2="1151" y1="0" y2="0"><stop offset="0" stop-color="#a8ffbe"/><stop offset="0.071" stop-color="#80ffdd"/><stop offset="0.142" stop-color="#65ffeb"/><stop offset="0.212" stop-color="#4ffff3"/><stop offset="0.283" stop-color="#3cfff8"/><stop offset="0.354" stop-color="#23fffc"/><stop offset="0.385" stop-color="#08ffff"/><stop offset="0.389" stop-color="#00ffff"/><stop offset="0.456" stop-color="#23f7ff"/><stop offset="0.527" stop-color="#36ebff"/><stop offset="0.597" stop-color="#44ddff"/><stop offset="0.668" stop-color="#4ecdff"/><stop offset="0.739" stop-color="#54bdff"/><stop offset="0.81" stop-color="#56afff"/><stop offset="0.881" stop-color="#57a9ff"/><stop offset="0.951" stop-color="#56b2ff"/><stop offset="1" stop-color="#52c1ff"/></linearGradient><linearGradient id="f125" gradientUnits="userSpaceOnUse" x1="928" x2="1152" y1="0" y2="0"><stop offset="0" stop-color="#a3ffc3"/><stop offset="0.071" stop-color="#7fffdd"/><stop offset="0.143" stop-color="#6cffe8"/><stop offset="0.214" stop-color="#61ffed"/><stop offset="0.286" stop-color="#5affef"/><stop offset="0.357" stop-color="#51fff2"/><stop offset="0.429" stop-color="#3cfff8"/><stop offset="0.469" stop-color="#1ffffd"/><stop offset="0.487" stop-color="#03ffff"/><stop offset="0.531" stop-color="#22f7ff"/><stop offset="0.603" stop-color="#3ae8ff"/><stop offset="0.674" stop-color="#48d6ff"/><stop offset="0.746" stop-color="#51c4ff"/><stop offset="0.817" stop-color="#55b5ff"/><stop offset="0.888" stop-color="#56afff"/><stop offset="0.96" stop-color="#55b8ff"/><stop offset="1" stop-color="#51c3ff"/></linearGradient><linearGradient id="f126" gradientUnits="userSpaceOnUse" x1="930" x2="1153" y1="0" y2="0"><stop offset="0" stop-color="#a1ffc5"/><stop offset="0.072" stop-color="#81ffdc"/><stop offset="0.143" stop-color="#75ffe3"/><stop offset="0.215" stop-color="#71ffe5"/><stop offset="0.287" stop-color="#70ffe5"/><stop offset="0.359" stop-color="#6dffe7"/><stop offset="0.43" stop-color="#61ffed"/><stop offset="0.502" stop-color="#46fff6"/><stop offset="0.547" stop-color="#20fffd"/><stop offset="0.561" stop-color="#02ffff"/><stop offset="0.601" stop-color="#26f5ff"/><stop offset="0.673" stop-color="#3fe3ff"/><stop offset="0.744" stop-color="#4dceff"/><stop offset="0.816" stop-color="#53bdff"/><stop offset="0.888" stop-color="#55b5ff"/><stop offset="0.96" stop-color="#53bdff"/><stop offset="1" stop-color="#50c6ff"/></linearGradient><linearGradient id="f127" gradientUnits="userSpaceOnUse" x1="933" x2="1154" y1="0" y2="0"><stop offset="0" stop-color="#9dffc8"/><stop offset="0.072" stop-color="#85ffda"/><stop offset="0.145" stop-color="#7fffdd"/><stop offset="0.217" stop-color="#81ffdc"/><stop offset="0.29" stop-color="#83ffdb"/><stop offset="0.362" stop-color="#82ffdc"/><stop offset="0.434" stop-color="#79ffe1"/><stop offset="0.507" stop-color="#66ffea"/><stop offset="0.579" stop-color="#41fff7"/><stop offset="0.606" stop-color="#1efffd"/><stop offset="0.615" stop-color="#01ffff"/><stop offset="0.638" stop-color="#1df9ff"/><stop offset="0.71" stop-color="#3ee3ff"/><stop offset="0.783" stop-color="#4dceff"/><stop offset="0.855" stop-color="#53beff"/><stop offset="0.928" stop-color="#53bdff"/><stop offset="1" stop-color="#4fc8ff"/></linearGradient><linearGradient id="f128" gradientUnits="userSpaceOnUse" x1="935" x2="1155" y1="0" y2="0"><stop offset="0" stop-color="#9dffc8"/><stop offset="0.073" stop-color="#8bffd6"/><stop offset="0.145" stop-color="#8affd6"/><stop offset="0.218" stop-color="#8fffd3"/><stop offset="0.291" stop-color="#94ffcf"/><stop offset="0.364" stop-color="#94ffcf"/><stop offset="0.436" stop-color="#8dffd4"/><stop offset="0.509" stop-color="#7fffdd"/><stop offset="0.582" stop-color="#65ffeb"/><stop offset="0.645" stop-color="#35fffa"/><stop offset="0.659" stop-color="#1dfffd"/><stop offset="0.668" stop-color="#05feff"/><stop offset="0.695" stop-color="#26f5ff"/><stop offset="0.768" stop-color="#43deff"/><stop offset="0.841" stop-color="#4fc9ff"/><stop offset="0.914" stop-color="#52c3ff"/><stop offset="0.986" stop-color="#4fc9ff"/><stop offset="1" stop-color="#4ecbff"/></linearGradient><linearGradient id="f129" gradientUnits="userSpaceOnUse" x1="938" x2="1156" y1="0" y2="0"><stop offset="0" stop-color="#9cffc9"/><stop offset="0.073" stop-color="#92ffd1"/><stop offset="0.147" stop-color="#95ffce"/><stop offset="0.22" stop-color="#9dffc8"/><stop offset="0.294" stop-color="#a3ffc3"/><stop offset="0.367" stop-color="#a3ffc2"/><stop offset="0.44" stop-color="#9dffc8"/><stop offset="0.514" stop-color="#92ffd1"/><stop offset="0.587" stop-color="#7dffdf"/><stop offset="0.661" stop-color="#55fff1"/><stop offset="0.693" stop-color="#2efffb"/><stop offset="0.702" stop-color="#16fffe"/><stop offset="0.706" stop-color="#02ffff"/><stop offset="0.725" stop-color="#1ff8ff"/><stop offset="0.798" stop-color="#42e0ff"/><stop offset="0.872" stop-color="#4dceff"/><stop offset="0.945" stop-color="#4fcaff"/><stop offset="1" stop-color="#4ccfff"/></linearGradient><linearGradient id="f130" gradientUnits="userSpaceOnUse" x1="944" x2="1157" y1="0" y2="0"><stop offset="0" stop-color="#9cffc9"/><stop offset="0.075" stop-color="#9bffca"/><stop offset="0.15" stop-color="#a2ffc3"/><stop offset="0.225" stop-color="#acffba"/><stop offset="0.3" stop-color="#b1ffb5"/><stop offset="0.376" stop-color="#b0ffb6"/><stop offset="0.451" stop-color="#aaffbc"/><stop offset="0.526" stop-color="#a0ffc5"/><stop offset="0.601" stop-color="#8bffd5"/><stop offset="0.676" stop-color="#66ffea"/><stop offset="0.728" stop-color="#31fffa"/><stop offset="0.737" stop-color="#1dfffd"/><stop offset="0.742" stop-color="#0bfffe"/><stop offset="0.746" stop-color="#07feff"/><stop offset="0.77" stop-color="#26f5ff"/><stop offset="0.836" stop-color="#42dfff"/><stop offset="0.911" stop-color="#4bd2ff"/><stop offset="0.986" stop-color="#4bd2ff"/><stop offset="1" stop-color="#4ad3ff"/></linearGradient><linearGradient id="f131" gradientUnits="userSpaceOnUse" x1="953" x2="1157" y1="0" y2="0"><stop offset="0" stop-color="#a1ffc4"/><stop offset="0.078" stop-color="#a7ffbf"/><stop offset="0.157" stop-color="#b2ffb4"/><stop offset="0.235" stop-color="#bbffaa"/><stop offset="0.314" stop-color="#beffa7"/><stop offset="0.392" stop-color="#bbffaa"/><stop offset="0.471" stop-color="#b5ffb0"/><stop offset="0.549" stop-color="#a9ffbd"/><stop offset="0.627" stop-color="#93ffd0"/><stop offset="0.706" stop-color="#6bffe8"/><stop offset="0.755" stop-color="#40fff7"/><stop offset="0.77" stop-color="#24fffc"/><stop offset="0.779" stop-color="#07feff"/><stop offset="0.799" stop-color="#24f6ff"/><stop offset="0.868" stop-color="#3ee4ff"/><stop offset="0.946" stop-color="#48d7ff"/><stop offset="1" stop-color="#47d8ff"/></linearGradient><linearGradient id="f132" gradientUnits="userSpaceOnUse" x1="962" x2="1158" y1="0" y2="0"><stop offset="0" stop-color="#acffba"/><stop offset="0.082" stop-color="#b7ffaf"/><stop offset="0.163" stop-color="#c2ffa1"/><stop offset="0.245" stop-color="#c8ff9a"/><stop offset="0.327" stop-color="#c9ff98"/><stop offset="0.408" stop-color="#c6ff9d"/><stop offset="0.49" stop-color="#bfffa5"/><stop offset="0.571" stop-color="#b1ffb5"/><stop offset="0.653" stop-color="#98ffcc"/><stop offset="0.735" stop-color="#70ffe5"/><stop offset="0.781" stop-color="#42fff7"/><stop offset="0.801" stop-color="#17fffe"/><stop offset="0.806" stop-color="#01ffff"/><stop offset="0.827" stop-color="#1cf9ff"/><stop offset="0.908" stop-color="#3ee4ff"/><stop offset="0.99" stop-color="#44ddff"/><stop offset="1" stop-color="#43ddff"/></linearGradient><linearGradient id="f133" gradientUnits="userSpaceOnUse" x1="971" x2="1159" y1="0" y2="0"><stop offset="0" stop-color="#b9ffac"/><stop offset="0.085" stop-color="#c6ff9c"/><stop offset="0.17" stop-color="#d0ff8f"/><stop offset="0.255" stop-color="#d4ff89"/><stop offset="0.34" stop-color="#d3ff89"/><stop offset="0.426" stop-color="#d0ff8e"/><stop offset="0.511" stop-color="#c7ff9a"/><stop offset="0.596" stop-color="#b7ffae"/><stop offset="0.681" stop-color="#9dffc8"/><stop offset="0.766" stop-color="#6effe6"/><stop offset="0.835" stop-color="#2ffffb"/><stop offset="0.846" stop-color="#19fffe"/><stop offset="0.851" stop-color="#00ffff"/><stop offset="0.872" stop-color="#20f8ff"/><stop offset="0.931" stop-color="#39e8ff"/><stop offset="1" stop-color="#3de4ff"/></linearGradient><linearGradient id="f134" gradientUnits="userSpaceOnUse" x1="980" x2="1160" y1="0" y2="0"><stop offset="0" stop-color="#c9ff99"/><stop offset="0.089" stop-color="#d5ff86"/><stop offset="0.178" stop-color="#dbff7c"/><stop offset="0.267" stop-color="#deff77"/><stop offset="0.356" stop-color="#ddff78"/><stop offset="0.444" stop-color="#d9ff81"/><stop offset="0.533" stop-color="#ceff91"/><stop offset="0.622" stop-color="#bcffa8"/><stop offset="0.711" stop-color="#a0ffc6"/><stop offset="0.8" stop-color="#71ffe5"/><stop offset="0.856" stop-color="#43fff6"/><stop offset="0.872" stop-color="#27fffc"/><stop offset="0.883" stop-color="#04feff"/><stop offset="0.9" stop-color="#1ef9ff"/><stop offset="0.972" stop-color="#34edff"/><stop offset="1" stop-color="#35ecff"/></linearGradient><linearGradient id="f135" gradientUnits="userSpaceOnUse" x1="989" x2="1161" y1="0" y2="0"><stop offset="0" stop-color="#d8ff82"/><stop offset="0.093" stop-color="#e1ff71"/><stop offset="0.186" stop-color="#e6ff67"/><stop offset="0.279" stop-color="#e8ff64"/><stop offset="0.372" stop-color="#e7ff65"/><stop offset="0.465" stop-color="#e0ff73"/><stop offset="0.558" stop-color="#d4ff89"/><stop offset="0.651" stop-color="#c0ffa3"/><stop offset="0.744" stop-color="#9fffc6"/><stop offset="0.837" stop-color="#70ffe5"/><stop offset="0.89" stop-color="#3afff9"/><stop offset="0.913" stop-color="#14fffe"/><stop offset="0.919" stop-color="#01ffff"/><stop offset="0.953" stop-color="#1df9ff"/><stop offset="1" stop-color="#26f5ff"/></linearGradient><linearGradient id="f136" gradientUnits="userSpaceOnUse" x1="997" x2="1162" y1="0" y2="0"><stop offset="0" stop-color="#e5ff6a"/><stop offset="0.097" stop-color="#ecff5a"/><stop offset="0.194" stop-color="#f0ff4f"/><stop offset="0.291" stop-color="#f2ff49"/><stop offset="0.388" stop-color="#efff52"/><stop offset="0.485" stop-color="#e7ff65"/><stop offset="0.582" stop-color="#daff7f"/><stop offset="0.679" stop-color="#c4ff9f"/><stop offset="0.776" stop-color="#a2ffc3"/><stop offset="0.861" stop-color="#73ffe4"/><stop offset="0.958" stop-color="#2cfffb"/><stop offset="0.994" stop-color="#02ffff"/><stop offset="1" stop-color="#04ffff"/></linearGradient><linearGradient id="f137" gradientUnits="userSpaceOnUse" x1="1006" x2="1163" y1="0" y2="0"><stop offset="0" stop-color="#f0ff4e"/><stop offset="0.102" stop-color="#f6ff3b"/><stop offset="0.204" stop-color="#faff2c"/><stop offset="0.299" stop-color="#fbff25"/><stop offset="0.401" stop-color="#f7ff3b"/><stop offset="0.503" stop-color="#edff57"/><stop offset="0.605" stop-color="#dfff76"/><stop offset="0.707" stop-color="#c6ff9d"/><stop offset="0.809" stop-color="#a2ffc4"/><stop offset="0.911" stop-color="#6dffe7"/><stop offset="0.994" stop-color="#48fff5"/><stop offset="1" stop-color="#49fff5"/></linearGradient><linearGradient id="f138" gradientUnits="userSpaceOnUse" x1="1015" x2="1164" y1="0" y2="0"><stop offset="0" stop-color="#fbff27"/><stop offset="0.087" stop-color="#fffe00"/><stop offset="0.195" stop-color="#fff500"/><stop offset="0.302" stop-color="#fff700"/><stop offset="0.383" stop-color="#ffff00"/><stop offset="0.436" stop-color="#fbff26"/><stop offset="0.544" stop-color="#f0ff4f"/><stop offset="0.651" stop-color="#ddff78"/><stop offset="0.758" stop-color="#c1ffa3"/><stop offset="0.866" stop-color="#94ffcf"/><stop offset="0.973" stop-color="#6bffe8"/><stop offset="1" stop-color="#69ffe9"/></linearGradient><linearGradient id="f139" gradientUnits="userSpaceOnUse" x1="1024" x2="1164" y1="0" y2="0"><stop offset="0" stop-color="#fff300"/><stop offset="0.114" stop-color="#ffe700"/><stop offset="0.229" stop-color="#ffe400"/><stop offset="0.343" stop-color="#ffec00"/><stop offset="0.457" stop-color="#fffc00"/><stop offset="0.479" stop-color="#ffff04"/><stop offset="0.521" stop-color="#fbff29"/><stop offset="0.636" stop-color="#e9ff61"/><stop offset="0.75" stop-color="#ceff91"/><stop offset="0.864" stop-color="#a6ffc0"/><stop offset="0.979" stop-color="#83ffdb"/><stop offset="1" stop-color="#81ffdc"/></linearGradient><linearGradient id="f140" gradientUnits="userSpaceOnUse" x1="1033" x2="1165" y1="0" y2="0"><stop offset="0" stop-color="#ffdd00"/><stop offset="0.121" stop-color="#ffd100"/><stop offset="0.242" stop-color="#ffd500"/><stop offset="0.364" stop-color="#ffe100"/><stop offset="0.485" stop-color="#fff400"/><stop offset="0.538" stop-color="#ffff04"/><stop offset="0.568" stop-color="#fbff28"/><stop offset="0.689" stop-color="#e4ff6a"/><stop offset="0.811" stop-color="#c3ffa1"/><stop offset="0.932" stop-color="#a2ffc3"/><stop offset="1" stop-color="#96ffcd"/></linearGradient><linearGradient id="f141" gradientUnits="userSpaceOnUse" x1="1042" x2="1166" y1="0" y2="0"><stop offset="0" stop-color="#ffc500"/><stop offset="0.129" stop-color="#ffc100"/><stop offset="0.258" stop-color="#ffc900"/><stop offset="0.387" stop-color="#ffd700"/><stop offset="0.516" stop-color="#ffef00"/><stop offset="0.573" stop-color="#fffe00"/><stop offset="0.613" stop-color="#f9ff30"/><stop offset="0.742" stop-color="#deff78"/><stop offset="0.871" stop-color="#beffa6"/><stop offset="1" stop-color="#a8ffbe"/></linearGradient><linearGradient id="f142" gradientUnits="userSpaceOnUse" x1="1051" x2="1167" y1="0" y2="0"><stop offset="0" stop-color="#ffb000"/><stop offset="0.138" stop-color="#ffb200"/><stop offset="0.276" stop-color="#ffbd00"/><stop offset="0.414" stop-color="#ffcf00"/><stop offset="0.552" stop-color="#ffef00"/><stop offset="0.603" stop-color="#ffff04"/><stop offset="0.621" stop-color="#fcff22"/><stop offset="0.698" stop-color="#edff58"/><stop offset="0.836" stop-color="#d0ff8f"/><stop offset="0.974" stop-color="#b8ffad"/><stop offset="1" stop-color="#b7ffaf"/></linearGradient><linearGradient id="f143" gradientUnits="userSpaceOnUse" x1="1060" x2="1168" y1="0" y2="0"><stop offset="0" stop-color="#ff9f00"/><stop offset="0.148" stop-color="#ffa500"/><stop offset="0.296" stop-color="#ffb300"/><stop offset="0.444" stop-color="#ffcc00"/><stop offset="0.593" stop-color="#fff600"/><stop offset="0.62" stop-color="#ffff03"/><stop offset="0.639" stop-color="#fcff23"/><stop offset="0.713" stop-color="#eeff55"/><stop offset="0.843" stop-color="#d8ff82"/><stop offset="0.991" stop-color="#c4ff9f"/><stop offset="1" stop-color="#c3ffa0"/></linearGradient><linearGradient id="f144" gradientUnits="userSpaceOnUse" x1="1068" x2="1168" y1="0" y2="0"><stop offset="0" stop-color="#ff8f00"/><stop offset="0.16" stop-color="#ff9900"/><stop offset="0.32" stop-color="#ffab00"/><stop offset="0.48" stop-color="#ffcc00"/><stop offset="0.64" stop-color="#fffe00"/><stop offset="0.67" stop-color="#fbff29"/><stop offset="0.76" stop-color="#ecff59"/><stop offset="0.92" stop-color="#d7ff84"/><stop offset="1" stop-color="#cfff90"/></linearGradient></defs>
<g clip-path="url(#cf)"><rect x="895" y="1647.5" width="4" height="3" fill="url(#f0)"/><rect x="895" y="1649.5" width="7" height="3" fill="url(#f1)"/><rect x="895" y="1651.5" width="10" height="3" fill="url(#f2)"/><rect x="895" y="1653.5" width="12" height="3" fill="url(#f3)"/><rect x="895" y="1655.5" width="15" height="3" fill="url(#f4)"/><rect x="895" y="1657.5" width="17" height="3" fill="url(#f5)"/><rect x="895" y="1659.5" width="20" height="3" fill="url(#f6)"/><rect x="895" y="1661.5" width="22" height="3" fill="url(#f7)"/><rect x="895" y="1663.5" width="25" height="3" fill="url(#f8)"/><rect x="895" y="1665.5" width="27" height="3" fill="url(#f9)"/><rect x="895" y="1667.5" width="30" height="3" fill="url(#f10)"/><rect x="895" y="1669.5" width="32" height="3" fill="url(#f11)"/><rect x="895" y="1671.5" width="35" height="3" fill="url(#f12)"/><rect x="895" y="1673.5" width="37" height="3" fill="url(#f13)"/><rect x="895" y="1675.5" width="40" height="3" fill="url(#f14)"/><rect x="895" y="1677.5" width="42" height="3" fill="url(#f15)"/><rect x="895" y="1679.5" width="45" height="3" fill="url(#f16)"/><rect x="895" y="1681.5" width="48" height="3" fill="url(#f17)"/><rect x="895" y="1683.5" width="50" height="3" fill="url(#f18)"/><rect x="895" y="1685.5" width="53" height="3" fill="url(#f19)"/><rect x="895" y="1687.5" width="55" height="3" fill="url(#f20)"/><rect x="895" y="1689.5" width="58" height="3" fill="url(#f21)"/><rect x="895" y="1691.5" width="60" height="3" fill="url(#f22)"/><rect x="895" y="1693.5" width="63" height="3" fill="url(#f23)"/><rect x="895" y="1695.5" width="65" height="3" fill="url(#f24)"/><rect x="895" y="1697.5" width="68" height="3" fill="url(#f25)"/><rect x="895" y="1699.5" width="70" height="3" fill="url(#f26)"/><rect x="895" y="1701.5" width="73" height="3" fill="url(#f27)"/><rect x="895" y="1703.5" width="75" height="3" fill="url(#f28)"/><rect x="895" y="1705.5" width="78" height="3" fill="url(#f29)"/><rect x="895" y="1707.5" width="81" height="3" fill="url(#f30)"/><rect x="895" y="1709.5" width="83" height="3" fill="url(#f31)"/><rect x="895" y="1711.5" width="86" height="3" fill="url(#f32)"/><rect x="895" y="1713.5" width="88" height="3" fill="url(#f33)"/><rect x="895" y="1715.5" width="91" height="3" fill="url(#f34)"/><rect x="895" y="1717.5" width="93" height="3" fill="url(#f35)"/><rect x="895" y="1719.5" width="96" height="3" fill="url(#f36)"/><rect x="895" y="1721.5" width="98" height="3" fill="url(#f37)"/><rect x="895" y="1723.5" width="101" height="3" fill="url(#f38)"/><rect x="895" y="1725.5" width="103" height="3" fill="url(#f39)"/><rect x="895" y="1727.5" width="106" height="3" fill="url(#f40)"/><rect x="895" y="1729.5" width="108" height="3" fill="url(#f41)"/><rect x="895" y="1731.5" width="111" height="3" fill="url(#f42)"/><rect x="895" y="1733.5" width="113" height="3" fill="url(#f43)"/><rect x="895" y="1735.5" width="116" height="3" fill="url(#f44)"/><rect x="895" y="1737.5" width="119" height="3" fill="url(#f45)"/><rect x="895" y="1739.5" width="121" height="3" fill="url(#f46)"/><rect x="895" y="1741.5" width="124" height="3" fill="url(#f47)"/><rect x="895" y="1743.5" width="126" height="3" fill="url(#f48)"/><rect x="895" y="1745.5" width="129" height="3" fill="url(#f49)"/><rect x="895" y="1747.5" width="131" height="3" fill="url(#f50)"/><rect x="895" y="1749.5" width="134" height="3" fill="url(#f51)"/><rect x="895" y="1751.5" width="136" height="3" fill="url(#f52)"/><rect x="895" y="1753.5" width="139" height="3" fill="url(#f53)"/><rect x="895" y="1755.5" width="141" height="3" fill="url(#f54)"/><rect x="895" y="1757.5" width="144" height="3" fill="url(#f55)"/><rect x="895" y="1759.5" width="146" height="3" fill="url(#f56)"/><rect x="895" y="1761.5" width="149" height="3" fill="url(#f57)"/><rect x="895" y="1763.5" width="151" height="3" fill="url(#f58)"/><rect x="895" y="1765.5" width="154" height="3" fill="url(#f59)"/><rect x="895" y="1767.5" width="157" height="3" fill="url(#f60)"/><rect x="895" y="1769.5" width="159" height="3" fill="url(#f61)"/><rect x="895" y="1771.5" width="162" height="3" fill="url(#f62)"/><rect x="895" y="1773.5" width="164" height="3" fill="url(#f63)"/><rect x="895" y="1775.5" width="167" height="3" fill="url(#f64)"/><rect x="895" y="1777.5" width="169" height="3" fill="url(#f65)"/><rect x="895" y="1779.5" width="172" height="3" fill="url(#f66)"/><rect x="895" y="1781.5" width="174" height="3" fill="url(#f67)"/><rect x="895" y="1783.5" width="177" height="3" fill="url(#f68)"/><rect x="895" y="1785.5" width="179" height="3" fill="url(#f69)"/><rect x="895" y="1787.5" width="182" height="3" fill="url(#f70)"/><rect x="895" y="1789.5" width="184" height="3" fill="url(#f71)"/><rect x="895" y="1791.5" width="187" height="3" fill="url(#f72)"/><rect x="895" y="1793.5" width="190" height="3" fill="url(#f73)"/><rect x="895" y="1795.5" width="192" height="3" fill="url(#f74)"/><rect x="895" y="1797.5" width="195" height="3" fill="url(#f75)"/><rect x="895" y="1799.5" width="197" height="3" fill="url(#f76)"/><rect x="895" y="1801.5" width="200" height="3" fill="url(#f77)"/><rect x="895" y="1803.5" width="202" height="3" fill="url(#f78)"/><rect x="895" y="1805.5" width="205" height="3" fill="url(#f79)"/><rect x="895" y="1807.5" width="207" height="3" fill="url(#f80)"/><rect x="895" y="1809.5" width="210" height="3" fill="url(#f81)"/><rect x="895" y="1811.5" width="212" height="3" fill="url(#f82)"/><rect x="895" y="1813.5" width="215" height="3" fill="url(#f83)"/><rect x="895" y="1815.5" width="217" height="3" fill="url(#f84)"/><rect x="895" y="1817.5" width="220" height="3" fill="url(#f85)"/><rect x="895" y="1819.5" width="222" height="3" fill="url(#f86)"/><rect x="895" y="1821.5" width="224" height="3" fill="url(#f87)"/><rect x="895" y="1823.5" width="225" height="3" fill="url(#f88)"/><rect x="895" y="1825.5" width="225" height="3" fill="url(#f89)"/><rect x="895" y="1827.5" width="226" height="3" fill="url(#f90)"/><rect x="895" y="1829.5" width="227" height="3" fill="url(#f91)"/><rect x="895" y="1831.5" width="228" height="3" fill="url(#f92)"/><rect x="895" y="1833.5" width="229" height="3" fill="url(#f93)"/><rect x="895" y="1835.5" width="230" height="3" fill="url(#f94)"/><rect x="895" y="1837.5" width="231" height="3" fill="url(#f95)"/><rect x="895" y="1839.5" width="232" height="3" fill="url(#f96)"/><rect x="895" y="1841.5" width="232" height="3" fill="url(#f97)"/><rect x="895" y="1843.5" width="233" height="3" fill="url(#f98)"/><rect x="895" y="1845.5" width="234" height="3" fill="url(#f99)"/><rect x="895" y="1847.5" width="235" height="3" fill="url(#f100)"/><rect x="895" y="1849.5" width="236" height="3" fill="url(#f101)"/><rect x="895" y="1851.5" width="237" height="3" fill="url(#f102)"/><rect x="895" y="1853.5" width="238" height="3" fill="url(#f103)"/><rect x="895" y="1855.5" width="239" height="3" fill="url(#f104)"/><rect x="895" y="1857.5" width="240" height="3" fill="url(#f105)"/><rect x="895" y="1859.5" width="240" height="3" fill="url(#f106)"/><rect x="895" y="1861.5" width="241" height="3" fill="url(#f107)"/><rect x="895" y="1863.5" width="242" height="3" fill="url(#f108)"/><rect x="895" y="1865.5" width="243" height="3" fill="url(#f109)"/><rect x="895" y="1867.5" width="244" height="3" fill="url(#f110)"/><rect x="895" y="1869.5" width="245" height="3" fill="url(#f111)"/><rect x="895" y="1871.5" width="246" height="3" fill="url(#f112)"/><rect x="897" y="1873.5" width="245" height="3" fill="url(#f113)"/><rect x="900" y="1875.5" width="242" height="3" fill="url(#f114)"/><rect x="902" y="1877.5" width="241" height="3" fill="url(#f115)"/><rect x="905" y="1879.5" width="239" height="3" fill="url(#f116)"/><rect x="907" y="1881.5" width="238" height="3" fill="url(#f117)"/><rect x="910" y="1883.5" width="236" height="3" fill="url(#f118)"/><rect x="912" y="1885.5" width="235" height="3" fill="url(#f119)"/><rect x="915" y="1887.5" width="233" height="3" fill="url(#f120)"/><rect x="917" y="1889.5" width="232" height="3" fill="url(#f121)"/><rect x="920" y="1891.5" width="230" height="3" fill="url(#f122)"/><rect x="923" y="1893.5" width="227" height="3" fill="url(#f123)"/><rect x="925" y="1895.5" width="226" height="3" fill="url(#f124)"/><rect x="928" y="1897.5" width="224" height="3" fill="url(#f125)"/><rect x="930" y="1899.5" width="223" height="3" fill="url(#f126)"/><rect x="933" y="1901.5" width="221" height="3" fill="url(#f127)"/><rect x="935" y="1903.5" width="220" height="3" fill="url(#f128)"/><rect x="938" y="1905.5" width="218" height="3" fill="url(#f129)"/><rect x="944" y="1907.5" width="213" height="3" fill="url(#f130)"/><rect x="953" y="1909.5" width="204" height="3" fill="url(#f131)"/><rect x="962" y="1911.5" width="196" height="3" fill="url(#f132)"/><rect x="971" y="1913.5" width="188" height="3" fill="url(#f133)"/><rect x="980" y="1915.5" width="180" height="3" fill="url(#f134)"/><rect x="989" y="1917.5" width="172" height="3" fill="url(#f135)"/><rect x="997" y="1919.5" width="165" height="3" fill="url(#f136)"/><rect x="1006" y="1921.5" width="157" height="3" fill="url(#f137)"/><rect x="1015" y="1923.5" width="149" height="3" fill="url(#f138)"/><rect x="1024" y="1925.5" width="140" height="3" fill="url(#f139)"/><rect x="1033" y="1927.5" width="132" height="3" fill="url(#f140)"/><rect x="1042" y="1929.5" width="124" height="3" fill="url(#f141)"/><rect x="1051" y="1931.5" width="116" height="3" fill="url(#f142)"/><rect x="1060" y="1933.5" width="108" height="3" fill="url(#f143)"/><rect x="1068" y="1935.5" width="100" height="3" fill="url(#f144)"/></g>
<g clip-path="url(#cf)"><path fill="none" stroke="#000" stroke-width="1.8" d="M894 1656.8L896 1656.6L898 1656.3L899.1 1656L901 1655.4L902 1654.9L903.8 1654L905 1653.2L906 1652.4L907 1651.4L908 1650.4L909 1649.2L909.9 1648L910.5 1647L911.1 1646M992 1809.9L991 1810.1L989 1810.8L988 1811.3L986.9 1812L985.7 1813L984.9 1814L984 1815.2L983 1817L982.6 1818L982 1819.8L981.7 1821L981.3 1823L981.1 1825L981 1826.5L981 1828L981 1829L981.1 1831L981.4 1833L981.7 1835L982 1836.1L982.6 1838L983 1839.1L983.9 1841L984.4 1842L985 1843.2L986 1844.8L986.8 1846L987.5 1847L988.2 1848L989 1849L990 1850.3L991 1851.4L992 1852.5L993 1853.5L994 1854.4L995 1855.3L996 1856.1L997.1 1857L998.5 1858L1000 1859L1001 1859.6L1002 1860.2L1003.3 1861L1005 1861.9L1006 1862.4L1007.2 1863L1009 1863.8L1010 1864.2L1011.9 1865L1013 1865.4L1014.6 1866L1016 1866.5L1017.5 1867L1019 1867.5L1020.7 1868L1022 1868.4L1024 1869L1025 1869.2M1059 1872.1L1060 1871.9L1062 1871.4L1063.6 1871L1065 1870.6L1066.3 1870L1068 1869L1069 1868.1L1069.8 1867L1070.3 1866L1070.7 1864L1070.6 1862L1070.1 1860L1069.8 1859L1069 1857.2L1068.4 1856L1067.8 1855L1067 1853.7L1066 1852.2L1065 1851L1064.2 1850L1063.3 1849L1062.4 1848L1061.4 1847L1060.5 1846L1059.5 1845L1058.4 1844L1057.3 1843L1056.2 1842L1055 1841L1054 1840.1L1053 1839.3L1052 1838.5L1051 1837.6L1050 1836.8L1049 1835.9L1047.8 1835L1046.6 1834L1045.3 1833L1044 1832L1043 1831.3L1042 1830.6L1041 1829.8L1039.8 1829L1038.5 1828L1037 1827L1036 1826.3L1035 1825.6L1034 1824.9L1032.6 1824L1031 1823L1030 1822.4L1029 1821.8L1027.7 1821L1026 1820L1025 1819.4L1024 1818.9L1022.4 1818L1021 1817.3L1020 1816.8L1018.3 1816L1017 1815.4L1016 1815L1014 1814.2L1013 1813.8L1011 1813L1010 1812.7L1008.1 1812L1007 1811.7L1005 1811.1L1004 1810.8L1002 1810.4L1000 1810L999 1809.9L997 1809.7L995 1809.6L993 1809.8L992 1809.9M894 1681.8L895.2 1682L897 1682.4L899 1682.9L900 1683.2L902 1683.7L903.3 1684L905 1684.4L907 1684.8L908.1 1685L910 1685.2L912 1685.3L914 1685.2L915.1 1685L917 1684.4L918 1684L919.6 1683L920.9 1682L921.9 1681L922.7 1680L923.5 1679L924.2 1678L925 1676.7L925.9 1675L926.5 1674L927 1672.9L928 1671L928.5 1670L929 1669L930 1667L930.5 1666L931 1664.8L931.8 1663L932.3 1662L933 1660.3L933.5 1659L934 1657.7L934.7 1656L935 1655L935.7 1653L936.1 1652L936.7 1650L937 1649L937.6 1647L937.9 1646M1169 1879.9L1167.9 1879L1166.6 1878L1165.3 1877L1164 1876.1L1163 1875.4L1162 1874.7L1160.9 1874L1159.3 1873L1158 1872.2L1157 1871.7L1155.8 1871L1154 1870L1153 1869.5L1152 1869L1150 1868L1149 1867.6L1147.8 1867L1146 1866.2L1145 1865.8L1143 1865L1142 1864.6L1140.3 1864L1139 1863.5L1137.6 1863L1136 1862.4L1134.8 1862L1133 1861.4L1131.8 1861L1130 1860.4L1128.8 1860L1127 1859.4L1125.7 1859L1124 1858.4L1122.7 1858L1121 1857.4L1119.9 1857L1118 1856.3L1117 1855.9L1115 1855.2L1114 1854.8L1112.1 1854L1111 1853.5L1109.8 1853L1108 1852.2L1107 1851.7L1105.5 1851L1104 1850.2L1103 1849.7L1101.6 1849L1100 1848.1L1099 1847.6L1098 1847L1096.2 1846L1095 1845.3L1094 1844.7L1093 1844L1091.4 1843L1090 1842.1L1089 1841.5L1088 1840.8L1086.7 1840L1085.2 1839L1084 1838.2L1083 1837.5L1082 1836.8L1080.9 1836L1079.5 1835L1078.1 1834L1077 1833.2L1076 1832.5L1075 1831.8L1073.8 1831L1072.4 1830L1071 1829L1070 1828.3L1069 1827.6L1068 1826.8L1066.8 1826L1065.5 1825L1064.1 1824L1063 1823.2L1062 1822.5L1061 1821.8L1060 1821L1058.6 1820L1057.2 1819L1056 1818.1L1055 1817.3L1054 1816.6L1053 1815.8L1052 1815L1050.7 1814L1049.4 1813L1048.1 1812L1047 1811.2L1046 1810.4L1045 1809.6L1044 1808.8L1043 1808L1041.7 1807L1040.5 1806L1039.2 1805L1038 1804L1037 1803.2L1036 1802.4L1035 1801.5L1034 1800.7L1033 1799.9L1032 1799L1030.8 1798L1029.6 1797L1028.4 1796L1027.2 1795L1026 1794L1025 1793.1L1024 1792.3L1023 1791.4L1022 1790.5L1021 1789.7L1020 1788.9L1018.9 1788L1017.7 1787L1016.5 1786L1015.2 1785L1014 1784L1013 1783.3L1012 1782.5L1011 1781.7L1010 1780.9L1008.9 1780L1007.6 1779L1006.2 1778L1005 1777.1L1004 1776.3L1003 1775.6L1002 1774.8L1000.9 1774L999.7 1773L998.4 1772L997.1 1771L996 1770.2L995 1769.5L994 1768.8L992.9 1768L991.5 1767L990.1 1766L989 1765.2L988 1764.5L987 1763.9L985.7 1763L984.1 1762L983 1761.4L982 1760.8L980.7 1760L979 1759L978 1758.4L977 1757.8L975.6 1757L974 1756.1L973 1755.5L972 1755L970 1754L969 1753.5L967.9 1753L966 1752.2L965 1751.7L963.1 1751L962 1750.6L960.1 1750L959 1749.7L957 1749.3L955 1749.1L953 1749.2L951 1749.7L950 1750.1L948.4 1751L947.2 1752L946.3 1753L945.6 1754L945 1755L944 1756.9L943.5 1758L943 1759.5L942.5 1761L942 1763L941.8 1764L941.4 1766L941 1768L940.9 1769L940.6 1771L940.4 1773L940.1 1775L940 1776.6L939.9 1778L939.8 1780L939.6 1782L939.5 1784L939.4 1786L939.3 1788L939.2 1790L939.1 1792L939 1794L939 1795L938.9 1797L938.8 1799L938.8 1801L938.8 1803L938.8 1805L938.8 1807L938.8 1809L938.9 1811L938.9 1813L939 1815L939 1816L939.1 1818L939.2 1820L939.3 1822L939.4 1824L939.5 1826L939.6 1828L939.7 1830L939.8 1832L939.9 1834L940 1835L940.1 1837L940.3 1839L940.4 1841L940.6 1843L940.8 1845L941 1847L941.1 1848L941.3 1850L941.5 1852L941.8 1854L942 1855.2L942.3 1857L942.7 1859L943 1860.5L943.4 1862L943.9 1864L944.1 1865L944.8 1867L945.1 1868L945.8 1870L946.2 1871L947 1872.8L947.6 1874L948.1 1875L949 1876.8L949.7 1878L950.3 1879L951 1880L952 1881.3L953 1882.5L954 1883.5L955 1884.5L956 1885.3L957 1886.1L958.3 1887L959.9 1888L961 1888.7L962 1889.2L963.8 1890L965 1890.5L966.4 1891L968 1891.5L969.7 1892L971 1892.3L973 1892.8L974 1893L976 1893.4L978 1893.7L980 1894L981 1894.1L983 1894.4M1017 1896.8L1019 1897L1020 1897L1022 1897.2L1024 1897.4L1026 1897.5L1028 1897.7L1030 1897.9L1031.2 1898L1033 1898.2L1035 1898.4L1037 1898.6L1039 1898.8L1041 1899L1042 1899.1L1044 1899.3L1046 1899.5L1048 1899.7L1050 1899.9L1051 1900.1L1053 1900.3L1055 1900.5L1057 1900.8L1058.6 1901L1060 1901.2L1062 1901.5L1064 1901.8L1065.6 1902L1067 1902.2L1069 1902.5L1071 1902.8L1072.1 1903L1074 1903.3L1076 1903.6L1078 1903.9L1079 1904.1L1081 1904.4L1083 1904.8L1084.3 1905L1086 1905.3L1088 1905.7L1089.4 1906L1091 1906.3L1093 1906.7L1094.2 1907L1096 1907.3L1098 1907.7L1099.6 1908L1101 1908.2L1103 1908.6L1104.9 1909L1106 1909.2L1108 1909.7L1109.4 1910L1111 1910.4L1113 1910.9L1114 1911.1L1116 1911.6L1117.5 1912L1119 1912.3L1121 1912.7L1122.7 1913L1124 1913.2L1126 1913.5L1128 1913.9L1129 1914.1L1131 1914.5L1133 1915L1134 1915.2L1136 1915.7L1137 1916L1139 1916.6L1140.4 1917L1142 1917.4L1144 1917.9L1145 1918.1L1147 1918.5L1149 1918.8L1150 1919L1152 1919.3L1154 1919.7L1156 1920L1157 1920.1L1159 1920.4L1161 1920.5L1163 1920.4L1165 1920L1166 1919.8L1168 1919.1L1169 1918.7M894 1711.4L895 1712.1L896.1 1713L897.2 1714L898.1 1715L899 1716L900 1717.2L901 1718.7L901.8 1720L902.4 1721L903 1722.1L903.9 1724L904.4 1725L905 1726.5L905.6 1728L906 1729L906.7 1731L907.1 1732L907.7 1734L908 1735L908.6 1737L909 1738.4L909.4 1740L909.9 1742L910.2 1743L910.7 1745L911 1746.4L911.4 1748L911.8 1750L912 1751L912.4 1753L912.7 1755L913 1756.6L913.2 1758L913.6 1760L913.9 1762L914 1763L914.3 1765L914.5 1767L914.7 1769L914.8 1771L915 1773L915.1 1774L915.2 1776L915.4 1778L915.5 1780L915.6 1782L915.7 1784L915.8 1786L915.9 1788L916 1790L916 1791L916.1 1793L916.1 1795L916.1 1797L916.1 1799L916.1 1801L916.2 1803L916.2 1805L916.2 1807L916.3 1809L916.3 1811L916.3 1813L916.3 1815L916.3 1817L916.3 1819L916.2 1821L916.2 1823L916.1 1825L916 1826.2L915.9 1828L915.7 1830L915.4 1832L915.2 1834L915 1835.2L914.7 1837L914.4 1839M903.4 1872L903 1873.4L902.6 1875L902.1 1877L901.9 1878L901.6 1880L901.4 1882L901.2 1884L901.2 1886L901.2 1888L901.3 1890L901.5 1892L901.8 1894L902 1895.1L902.4 1897L902.9 1899L903.2 1900L903.9 1902L904.2 1903L905 1904.8L905.5 1906L906 1907L907 1908.8L907.8 1910L908.4 1911L909.1 1912L910 1913.2L911 1914.4L912 1915.5L913 1916.6L914 1917.5L915 1918.4L916 1919.3L917 1920.1L918.3 1921L919.8 1922L921 1922.7L922 1923.3L923.4 1924L925 1924.7L926 1925.2L928 1925.9L929 1926.2L931 1926.8L932 1927.1L934 1927.5L936 1927.8L937.1 1928L939 1928.2L941 1928.3L943 1928.4L945 1928.4L947 1928.3L949 1928.2L950.9 1928L952 1927.9L954 1927.6L956 1927.3L957.8 1927L959 1926.8L961 1926.4L962.8 1926L964 1925.7L966 1925.3L967.2 1925L969 1924.5L971 1924L972 1923.8L974 1923.3L975 1923L977 1922.5L978.8 1922L980 1921.7L982 1921.2L983 1920.9L985 1920.4L986.7 1920L988 1919.7L990 1919.2L991.1 1919L993 1918.6L995 1918.2L996.6 1918L998 1917.8L1000 1917.6L1002 1917.4L1004 1917.2L1005.9 1917L1007 1916.9L1009 1916.8L1011 1916.6L1013 1916.5L1015 1916.4L1017 1916.3L1019 1916.2L1021 1916.1L1023 1916L1024 1916M1058 1916.8L1060 1917L1061 1917.1L1063 1917.2L1065 1917.4L1067 1917.5L1069 1917.7L1071 1917.9L1072 1918L1074 1918.2L1076 1918.5L1078 1918.7L1080 1919L1081 1919.1L1083 1919.4L1085 1919.7L1087 1919.9L1088 1920.1L1090 1920.3L1092 1920.6L1094 1920.9L1095 1921.1L1097 1921.4L1099 1921.7L1100.7 1922L1102 1922.2L1104 1922.6L1106 1923L1107 1923.2L1109 1923.6L1110.8 1924L1112 1924.2L1114 1924.7L1115.4 1925L1117 1925.4L1119 1925.8L1120 1926.1L1122 1926.6L1123.7 1927L1125 1927.4L1127 1927.9L1128 1928.2L1130 1928.8L1131 1929.1L1133 1929.8L1134 1930.1L1136 1930.8L1137 1931.2L1139 1931.9L1140 1932.2L1142 1932.8L1143 1933.1L1145 1933.6L1146.4 1934L1148 1934.4L1150 1934.9L1151 1935.1L1153 1935.6L1154.7 1936L1156 1936.3L1158 1936.9L1159 1937.1L1161 1937.6L1162.7 1938L1164 1938.3L1166 1938.6L1168 1938.9L1168.4 1939M1169 1852.8L1167 1852.1L1166 1851.8L1164 1851.2L1163 1850.9L1161 1850.3L1160 1850L1158 1849.4L1156.4 1849L1155 1848.6L1153 1848.1L1152 1847.9L1150 1847.4L1148.6 1847L1147 1846.6L1145 1846.1L1144 1845.9L1142 1845.4L1140.2 1845L1139 1844.7L1137 1844.2L1136 1844L1134 1843.5L1132 1843L1131 1842.8L1129 1842.2L1128 1841.9L1126 1841.4L1124.8 1841L1123 1840.4L1121.8 1840L1120 1839.3L1119 1838.9L1118 1838.5M1088 1821.1L1087 1820.5L1086 1819.9L1084.4 1819L1083 1818.2L1082 1817.6L1080.8 1817L1079 1816L1078 1815.4L1077 1814.9L1075.4 1814L1074 1813.2L1073 1812.6L1072 1812L1070.3 1811L1069 1810.2L1068 1809.6L1067 1809L1065.4 1808L1064 1807.1L1063 1806.5L1062 1805.8L1060.8 1805L1059.3 1804L1058 1803L1057 1802.3L1056 1801.5L1055 1800.7L1054 1800L1052.8 1799L1051.5 1798L1050.2 1797L1049 1796L1048 1795.2L1047 1794.4L1046 1793.6L1045 1792.7L1044 1791.9L1043 1791L1041.8 1790L1040.6 1789L1039.5 1788L1038.3 1787L1037.1 1786L1036 1785.1L1035 1784.2L1034 1783.3L1033 1782.4L1032 1781.5L1031 1780.7L1030 1779.8L1029 1778.9L1028 1778L1026.9 1777L1025.8 1776L1024.7 1775L1023.6 1774L1022.4 1773L1021.3 1772L1020.1 1771L1019 1770L1018 1769.2L1017 1768.4L1016 1767.5L1015 1766.7L1014 1765.9L1013 1765L1011.8 1764L1010.6 1763L1009.5 1762L1008.3 1761L1007.2 1760L1006.1 1759L1005 1758L1004 1757.2L1003 1756.3L1002 1755.4L1001 1754.6L1000 1753.7L999 1752.9L997.9 1752L996.7 1751L995.5 1750L994.3 1749L993 1748L992 1747.2L991 1746.4L990 1745.6L989 1744.8L988 1744L986.9 1743L985.7 1742L984.7 1741L983.6 1740L982.6 1739L981.5 1738L980.6 1737L979.6 1736L978.6 1735L977.7 1734L976.8 1733L975.9 1732L975 1731L974 1729.8L973 1728.6L972 1727.3L971 1726L970.2 1725L969.5 1724L968.8 1723L968 1721.9L967 1720.5L966 1719L965.3 1718L964.7 1717L964 1716L963 1714.4L962.1 1713L961.5 1712L960.9 1711L960 1709.4L959.2 1708L958.7 1707L958 1705.7L957.2 1704L956.7 1703L956 1701.4L955.4 1700L955 1698.9L954.3 1697L954 1695.9L953.5 1694L953.2 1692L953 1690.7L952.9 1689L952.8 1687L952.8 1685L952.8 1683L952.9 1681L953 1680L953.2 1678L953.4 1676L953.6 1674L953.9 1672L954.1 1671L954.4 1669L954.7 1667L955 1665.2L955.2 1664L955.6 1662L956 1660L956.1 1659L956.5 1657L956.9 1655L957.1 1654L957.5 1652L957.9 1650L958.1 1649L958.5 1647L958.7 1646M894 1762.3L894.6 1764L895 1765.2L895.5 1767L896 1769L896.2 1770M898 1804L898 1806L897.9 1808L897.8 1810L897.7 1812L897.6 1814L897.4 1816L897.2 1818L897 1820L896.9 1821L896.6 1823L896.3 1825L896 1826.5L895.7 1828L895.1 1830L894.8 1831L894.1 1833L894 1833.3M1169 1834.2L1167.7 1834L1166 1833.7L1164 1833.3L1162 1833L1161 1832.8L1159 1832.5L1157 1832.2L1155.7 1832L1154 1831.7L1152 1831.4L1150 1831.1L1149 1831L1147 1830.6L1145 1830.3L1143 1830L1142 1829.8L1140 1829.5L1138 1829.2L1137 1829L1135 1828.6L1133 1828.2L1132 1828L1130 1827.6L1128 1827.1L1127 1826.9L1125 1826.3L1123.9 1826L1122 1825.4L1120.7 1825L1119 1824.4L1118 1824L1116 1823.1L1115 1822.6L1113.8 1822L1112 1821L1111 1820.5L1110 1820L1108.2 1819L1107 1818.3L1106 1817.8L1104.7 1817L1103 1816.1L1102 1815.5L1101 1814.9L1099.4 1814L1098 1813.2L1097 1812.6L1095.9 1812L1094.2 1811L1093 1810.3L1092 1809.8L1091 1809.2M1061 1791.2L1060 1790.4L1059 1789.6L1058 1788.8L1057 1788L1055.6 1787L1054.2 1786L1053 1785.1L1052 1784.4L1051 1783.6L1050 1782.8L1048.9 1782L1047.6 1781L1046.3 1780L1045 1779.1L1044 1778.4L1043 1777.6L1042 1776.8L1040.9 1776L1039.7 1775L1038.6 1774L1037.4 1773L1036.3 1772L1035.3 1771L1034.1 1770L1033 1769L1032 1768.1L1031 1767.2L1030 1766.3L1029 1765.4L1028 1764.5L1027 1763.6L1026 1762.6L1025 1761.7L1024 1760.8L1023 1759.8L1022 1758.9L1021 1758L1019.9 1757L1018.9 1756L1017.8 1755L1016.9 1754L1015.9 1753L1014.9 1752L1014 1751L1013 1750L1012 1748.9L1011 1747.8L1010 1746.8L1009 1745.8L1008 1744.8L1007 1743.8L1006 1742.8L1005 1741.8L1004 1740.7L1003 1739.7L1002 1738.7L1001 1737.6L1000 1736.6L999 1735.5L998 1734.5L997 1733.5L996 1732.4L995 1731.3L994 1730.2L993 1729L992.2 1728L991.4 1727L990.7 1726L990 1725L989 1723.6L988 1722.1L987.3 1721L986.6 1720L986 1718.9L985 1717.1L984.4 1716L983.9 1715L983 1713.2L982.4 1712L982 1711L981.1 1709L980.7 1708L980 1706.4L979.5 1705L979 1703.7L978.4 1702L978 1700.8L977.4 1699L977 1697.5L976.6 1696L976.1 1694L975.9 1693L975.5 1691L975.1 1689L975 1688L974.7 1686L974.5 1684L974.4 1682L974.3 1680L974.2 1678L974.2 1676L974.2 1674L974.3 1672L974.4 1670L974.5 1668L974.7 1666L974.9 1664L975 1663L975.2 1661L975.5 1659L975.8 1657L976 1655.4L976.2 1654L976.5 1652L976.8 1650L977 1649L977.4 1647L977.5 1646M1001.3 1939L1003 1938.5L1004.9 1938L1006 1937.7L1008 1937.2L1009 1936.9L1011 1936.4L1012.8 1936L1014 1935.7L1016 1935.3L1017.4 1935L1019 1934.7L1021 1934.3L1022.5 1934L1024 1933.7L1026 1933.4L1028 1933L1029 1932.9L1031 1932.5L1033 1932.2L1034.5 1932L1036 1931.8L1038 1931.5L1040 1931.2L1041.8 1931L1043 1930.9L1045 1930.6L1047 1930.5L1049 1930.4L1051 1930.3L1053 1930.3L1055 1930.4L1057 1930.4L1059 1930.4L1061 1930.5L1063 1930.6M1097 1933.6L1099 1933.9L1100 1934L1102 1934.4L1104 1934.8L1105.1 1935L1107 1935.4L1109 1935.8L1110 1936L1112 1936.5L1114 1937L1115 1937.3L1117 1937.9L1118 1938.3L1119.9 1939"/></g>
<g font-family="Liberation Sans, sans-serif" font-size="23" text-anchor="middle" fill="#000"><text transform="translate(1042 1872.4) rotate(5.5)" y="8.5">32</text><text transform="translate(1000 1895.8) rotate(3.5)" y="8.5">34</text><text transform="translate(909.6 1856) rotate(-69.5)" y="8.5">36</text><text transform="translate(1041 1916.2) rotate(0.5)" y="8.5">36</text><text transform="translate(1103 1830.4) rotate(31.2)" y="8.5">36</text><text transform="translate(898 1787) rotate(87.5)" y="8.5">38</text><text transform="translate(1076 1800.6) rotate(29.5)" y="8.5">38</text><text transform="translate(1080 1931.7) rotate(4.8)" y="8.5">38</text></g>
<g font-family="Liberation Sans, sans-serif" fill="#000" font-size="27.5" text-anchor="middle">
<text transform="translate(812.8 2035.36) rotate(-90)">0</text>
<text transform="translate(812.8 1936.05) rotate(-90)">20</text>
<text transform="translate(812.8 1836.75) rotate(-90)">40</text>
<text transform="translate(812.8 1737.44) rotate(-90)">60</text>
<text transform="translate(812.8 1638.14) rotate(-90)">80</text>
<text transform="translate(812.8 1538.83) rotate(-90)">100</text>
<text x="851.6" y="2095.76">0</text>
<text x="977.47" y="2095.76">20</text>
<text x="1103.33" y="2095.76">40</text>
<text x="1229.2" y="2095.76">60</text>
</g>
<g font-family="Liberation Sans, sans-serif" fill="#000" font-size="27.6" text-anchor="middle">
<text x="1166.47" y="2135.86" font-size="27.9">Protein (%)</text>
<text transform="translate(770.5 1784.89) rotate(-90)" font-size="27.2">Carbohydrate (%)</text>
</g>
<text font-family="Liberation Sans, sans-serif" fill="#000" font-size="29.3" text-anchor="middle" transform="translate(1198.23 1762.27) rotate(45)" y="7.3">Fat (%)</text>
<text font-family="Liberation Sans, sans-serif" font-weight="bold" font-size="55.5" x="714.3" y="1524.5">f</text>
<text font-family="Liberation Sans, sans-serif" font-weight="bold" font-size="43" x="1158" y="1612.7" text-anchor="middle">F1 Centre bouts</text>
</svg></body></html>
